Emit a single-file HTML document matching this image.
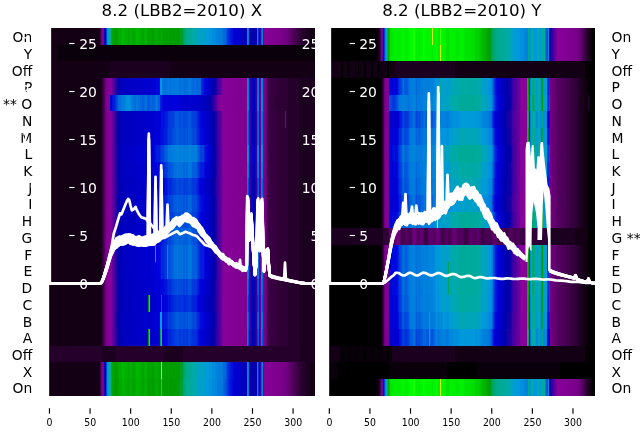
<!DOCTYPE html>
<html lang="en"><head><meta charset="utf-8"><title>8.2 (LBB2=2010)</title>
<style>html,body{margin:0;padding:0;background:#fff}svg{display:block}</style></head>
<body>
<svg width="640" height="440" viewBox="0 0 640 440" style="display:block;will-change:transform;font-family:'DejaVu Sans','Liberation Sans',sans-serif">
<rect width="640" height="440" fill="#fff"/>
<defs><clipPath id="c1"><rect x="48.75" y="27.7" width="266.35" height="368"/></clipPath><clipPath id="c2"><rect x="328.6" y="27.7" width="266.4" height="368"/></clipPath></defs>
<g shape-rendering="crispEdges">
<path fill="#41004b" d="M49 28h1v17h-1zM295 28h2v17h-2zM49 45h1v16h-1zM49 61h1v17h-1zM49 78h1v17h-1zM103 78h1v17h-1zM268 78h1v17h-1zM49 95h1v16h-1zM103 95h1v16h-1zM268 95h1v16h-1zM49 111h1v17h-1zM103 111h1v17h-1zM268 111h1v17h-1zM49 128h1v17h-1zM103 128h1v17h-1zM268 128h1v17h-1zM49 145h1v17h-1zM103 145h1v17h-1zM268 145h1v17h-1zM49 162h1v16h-1zM103 162h1v16h-1zM268 162h1v16h-1zM49 178h1v17h-1zM103 178h1v17h-1zM268 178h1v17h-1zM49 195h1v17h-1zM103 195h1v17h-1zM268 195h1v17h-1zM49 212h1v16h-1zM103 212h1v16h-1zM268 212h1v16h-1zM49 228h1v17h-1zM103 228h1v17h-1zM268 228h1v17h-1zM49 245h1v17h-1zM103 245h1v17h-1zM268 245h1v17h-1zM49 262h1v17h-1zM103 262h1v17h-1zM268 262h1v17h-1zM103 279h1v16h-1zM268 279h1v16h-1zM103 295h1v17h-1zM268 295h1v17h-1zM103 312h1v17h-1zM268 312h1v17h-1zM103 329h1v17h-1zM268 329h1v17h-1zM295 362h2v17h-2zM295 379h2v17h-2z"/>
<path fill="#130015" d="M50 28h49v17h-49zM310 28h5v17h-5zM50 45h8v16h-8zM50 61h60v17h-60zM169 61h146v17h-146zM50 78h51v17h-51zM50 95h51v16h-51zM50 111h51v17h-51zM50 128h51v17h-51zM50 145h51v17h-51zM50 162h51v16h-51zM50 178h51v17h-51zM50 195h51v17h-51zM50 212h51v16h-51zM50 228h51v17h-51zM50 245h51v17h-51zM50 262h51v17h-51zM50 279h51v16h-51zM50 295h51v17h-51zM50 312h51v17h-51zM50 329h51v17h-51zM50 362h49v17h-49zM310 362h5v17h-5zM50 379h49v17h-49zM310 379h5v17h-5z"/>
<path fill="#1c0020" d="M99 28h1v17h-1zM305 28h5v17h-5zM110 61h59v17h-59zM101 78h1v17h-1zM299 78h16v17h-16zM101 95h1v16h-1zM299 95h16v16h-16zM101 111h1v17h-1zM299 111h16v17h-16zM101 128h1v17h-1zM299 128h16v17h-16zM101 145h1v17h-1zM299 145h16v17h-16zM101 162h1v16h-1zM299 162h16v16h-16zM101 178h1v17h-1zM299 178h16v17h-16zM101 195h1v17h-1zM299 195h16v17h-16zM101 212h1v16h-1zM299 212h16v16h-16zM101 228h1v17h-1zM299 228h16v17h-16zM101 245h1v17h-1zM299 245h16v17h-16zM101 262h1v17h-1zM299 262h16v17h-16zM101 279h1v16h-1zM299 279h16v16h-16zM101 295h1v17h-1zM299 295h16v17h-16zM101 312h1v17h-1zM299 312h16v17h-16zM101 329h1v17h-1zM299 329h16v17h-16zM102 346h14v16h-14zM164 346h19v16h-19zM300 346h15v16h-15zM99 362h1v17h-1zM305 362h5v17h-5zM99 379h1v17h-1zM305 379h5v17h-5z"/>
<path fill="#380040" d="M100 28h1v17h-1zM297 28h2v17h-2zM269 78h8v17h-8zM269 95h4v16h-4zM269 111h8v17h-8zM269 128h8v17h-8zM269 145h8v17h-8zM269 162h8v16h-8zM269 178h8v17h-8zM269 195h8v17h-8zM269 212h8v16h-8zM269 228h8v17h-8zM269 245h8v17h-8zM269 262h8v17h-8zM269 279h8v16h-8zM269 295h8v17h-8zM269 312h8v17h-8zM269 329h8v17h-8zM100 362h1v17h-1zM297 362h2v17h-2zM100 379h1v17h-1zM297 379h2v17h-2z"/>
<path fill="#700080" d="M101 28h1v17h-1zM285 28h3v17h-3zM105 78h1v17h-1zM265 78h1v17h-1zM105 95h1v16h-1zM265 95h1v16h-1zM105 111h1v17h-1zM265 111h1v17h-1zM105 128h1v17h-1zM265 128h1v17h-1zM105 145h1v17h-1zM265 145h1v17h-1zM105 162h1v16h-1zM265 162h1v16h-1zM105 178h1v17h-1zM265 178h1v17h-1zM105 195h1v17h-1zM265 195h1v17h-1zM105 212h1v16h-1zM265 212h1v16h-1zM105 228h1v17h-1zM265 228h1v17h-1zM105 245h1v17h-1zM265 245h1v17h-1zM105 262h1v17h-1zM265 262h1v17h-1zM49 279h1v16h-1zM105 279h1v16h-1zM265 279h1v16h-1zM49 295h1v17h-1zM105 295h1v17h-1zM265 295h1v17h-1zM49 312h1v17h-1zM105 312h1v17h-1zM265 312h1v17h-1zM49 329h1v17h-1zM105 329h1v17h-1zM265 329h1v17h-1zM49 346h1v16h-1zM49 362h1v17h-1zM101 362h1v17h-1zM285 362h3v17h-3zM49 379h1v17h-1zM101 379h1v17h-1zM285 379h2v17h-2z"/>
<path fill="#7f0090" d="M102 28h1v17h-1zM273 28h2v17h-2zM242 78h3v17h-3zM241 95h4v16h-4zM242 111h3v17h-3zM242 128h3v17h-3zM242 145h3v17h-3zM242 162h3v16h-3zM242 178h3v17h-3zM242 195h3v17h-3zM242 212h3v16h-3zM242 228h3v17h-3zM242 245h3v17h-3zM242 262h3v17h-3zM242 279h3v16h-3zM242 295h3v17h-3zM242 312h3v17h-3zM242 329h3v17h-3zM102 362h1v17h-1zM273 362h2v17h-2zM102 379h1v17h-1zM273 379h2v17h-2z"/>
<path fill="#78009b" d="M103 28h1v17h-1zM222 78h1v17h-1zM218 95h1v16h-1zM222 111h1v17h-1zM222 128h1v17h-1zM222 145h1v17h-1zM222 162h1v16h-1zM222 178h1v17h-1zM222 195h1v17h-1zM222 212h1v16h-1zM222 228h1v17h-1zM222 245h1v17h-1zM222 262h1v17h-1zM222 279h1v16h-1zM222 295h1v17h-1zM222 312h1v17h-1zM222 329h1v17h-1zM103 362h1v17h-1zM103 379h1v17h-1z"/>
<path fill="#0d00a8" d="M104 28h1v17h-1zM255 28h1v17h-1zM117 78h1v17h-1zM215 78h1v17h-1zM211 95h1v16h-1zM267 111h1v17h-1zM117 128h1v17h-1zM117 145h1v17h-1zM215 145h1v17h-1zM117 162h1v16h-1zM215 162h1v16h-1zM214 178h1v17h-1zM117 195h1v17h-1zM267 212h1v16h-1zM117 228h1v17h-1zM117 245h1v17h-1zM215 245h1v17h-1zM117 262h1v17h-1zM215 262h1v17h-1zM214 279h1v16h-1zM267 279h1v16h-1zM213 295h2v17h-2zM254 295h1v17h-1zM117 312h1v17h-1zM214 329h1v17h-1zM104 362h1v17h-1zM255 362h1v17h-1zM255 379h1v17h-1z"/>
<path fill="#0000cd" d="M105 28h1v17h-1zM235 28h1v17h-1zM239 28h1v17h-1zM136 78h1v17h-1zM138 78h4v17h-4zM147 78h3v17h-3zM208 78h1v17h-1zM184 95h1v16h-1zM186 95h2v16h-2zM192 95h5v16h-5zM252 95h1v16h-1zM137 111h2v17h-2zM144 111h1v17h-1zM147 111h1v17h-1zM150 111h3v17h-3zM136 128h3v17h-3zM144 128h1v17h-1zM147 128h1v17h-1zM150 128h3v17h-3zM205 128h3v17h-3zM130 145h1v17h-1zM141 145h3v17h-3zM209 145h2v17h-2zM253 145h1v17h-1zM136 162h1v16h-1zM138 162h4v16h-4zM144 162h1v16h-1zM147 162h3v16h-3zM208 162h1v16h-1zM137 178h1v17h-1zM144 178h1v17h-1zM150 178h4v17h-4zM136 195h5v17h-5zM144 195h1v17h-1zM147 195h1v17h-1zM149 195h1v17h-1zM152 195h1v17h-1zM205 195h3v17h-3zM137 212h2v16h-2zM144 212h1v16h-1zM147 212h1v16h-1zM150 212h3v16h-3zM136 228h5v17h-5zM144 228h1v17h-1zM147 228h1v17h-1zM149 228h1v17h-1zM152 228h1v17h-1zM136 245h1v17h-1zM138 245h4v17h-4zM144 245h1v17h-1zM147 245h3v17h-3zM208 245h1v17h-1zM136 262h1v17h-1zM138 262h4v17h-4zM144 262h1v17h-1zM147 262h3v17h-3zM208 262h1v17h-1zM137 279h1v16h-1zM144 279h1v16h-1zM150 279h4v16h-4zM146 295h1v17h-1zM150 295h2v17h-2zM153 295h2v17h-2zM136 312h3v17h-3zM144 312h1v17h-1zM147 312h1v17h-1zM150 312h3v17h-3zM205 312h3v17h-3zM137 329h1v17h-1zM146 329h1v17h-1zM150 329h2v17h-2zM153 329h1v17h-1zM204 329h1v17h-1zM105 362h1v17h-1zM235 362h1v17h-1zM239 362h1v17h-1zM105 379h1v17h-1zM234 379h2v17h-2zM238 379h1v17h-1z"/>
<path fill="#004bdd" d="M106 28h1v17h-1zM174 111h1v17h-1zM179 111h2v17h-2zM183 111h5v17h-5zM191 111h1v17h-1zM172 128h2v17h-2zM184 128h1v17h-1zM187 128h1v17h-1zM192 128h1v17h-1zM194 128h2v17h-2zM197 162h1v16h-1zM176 178h3v17h-3zM181 178h2v17h-2zM188 178h3v17h-3zM248 178h1v17h-1zM171 195h2v17h-2zM192 195h5v17h-5zM174 212h1v16h-1zM179 212h2v16h-2zM183 212h5v16h-5zM191 212h1v16h-1zM168 228h1v17h-1zM193 228h1v17h-1zM196 228h1v17h-1zM197 245h1v17h-1zM197 262h1v17h-1zM174 279h3v16h-3zM178 279h5v16h-5zM185 279h1v16h-1zM191 279h1v16h-1zM257 279h1v16h-1zM258 295h1v17h-1zM172 312h2v17h-2zM184 312h1v17h-1zM187 312h1v17h-1zM192 312h1v17h-1zM194 312h2v17h-2zM177 329h1v17h-1zM189 329h1v17h-1zM248 329h1v17h-1zM106 362h1v17h-1zM106 379h1v17h-1zM226 379h1v17h-1z"/>
<path fill="#008ddd" d="M107 28h1v17h-1zM212 28h3v17h-3zM247 95h1v16h-1zM261 95h1v16h-1zM107 362h1v17h-1zM212 362h3v17h-3z"/>
<path fill="#00a2c3" d="M108 28h1v17h-1zM199 28h1v17h-1zM202 28h2v17h-2zM108 362h1v17h-1zM199 362h1v17h-1zM202 362h2v17h-2zM198 379h1v17h-1zM203 379h1v17h-1z"/>
<path fill="#00aaa8" d="M109 28h1v17h-1zM193 28h2v17h-2zM109 362h1v17h-1zM193 362h2v17h-2zM109 379h1v17h-1zM192 379h1v17h-1z"/>
<path fill="#00aa93" d="M110 28h1v17h-1zM187 28h1v17h-1zM110 362h1v17h-1zM187 362h1v17h-1zM188 379h2v17h-2z"/>
<path fill="#009f33" d="M111 28h1v17h-1zM111 362h1v17h-1zM180 379h3v17h-3z"/>
<path fill="#00a400" d="M112 28h1v17h-1zM128 28h1v17h-1zM143 28h1v17h-1zM151 28h1v17h-1zM158 28h1v17h-1zM162 28h1v17h-1zM168 28h1v17h-1zM112 362h1v17h-1zM128 362h1v17h-1zM143 362h1v17h-1zM151 362h1v17h-1zM158 362h1v17h-1zM162 362h1v17h-1zM168 362h1v17h-1zM113 379h1v17h-1zM127 379h1v17h-1zM132 379h1v17h-1zM134 379h1v17h-1zM142 379h1v17h-1zM147 379h1v17h-1zM150 379h1v17h-1zM154 379h1v17h-1z"/>
<path fill="#00a700" d="M113 28h1v17h-1zM118 28h1v17h-1zM132 28h3v17h-3zM142 28h1v17h-1zM147 28h1v17h-1zM150 28h1v17h-1zM154 28h1v17h-1zM160 28h1v17h-1zM113 362h1v17h-1zM118 362h1v17h-1zM132 362h3v17h-3zM142 362h1v17h-1zM147 362h1v17h-1zM150 362h1v17h-1zM154 362h1v17h-1zM160 362h1v17h-1zM135 379h1v17h-1zM141 379h1v17h-1zM155 379h1v17h-1z"/>
<path fill="#009c00" d="M114 28h2v17h-2zM163 28h1v17h-1zM166 28h1v17h-1zM173 28h1v17h-1zM114 362h2v17h-2zM163 362h1v17h-1zM166 362h1v17h-1zM173 362h1v17h-1zM117 379h1v17h-1zM152 379h1v17h-1zM159 379h1v17h-1zM165 379h1v17h-1zM167 379h1v17h-1zM174 379h4v17h-4z"/>
<path fill="#009f00" d="M116 28h1v17h-1zM152 28h1v17h-1zM164 28h2v17h-2zM167 28h1v17h-1zM169 28h1v17h-1zM171 28h2v17h-2zM174 28h4v17h-4zM116 362h1v17h-1zM152 362h1v17h-1zM164 362h2v17h-2zM167 362h1v17h-1zM169 362h1v17h-1zM171 362h2v17h-2zM174 362h4v17h-4zM148 379h2v17h-2zM153 379h1v17h-1z"/>
<path fill="#00a200" d="M117 28h1v17h-1zM148 28h2v17h-2zM153 28h1v17h-1zM159 28h1v17h-1zM117 362h1v17h-1zM148 362h2v17h-2zM153 362h1v17h-1zM159 362h1v17h-1zM112 379h1v17h-1zM118 379h1v17h-1zM128 379h1v17h-1zM133 379h1v17h-1zM143 379h1v17h-1zM151 379h1v17h-1zM158 379h1v17h-1zM160 379h1v17h-1zM162 379h1v17h-1zM168 379h1v17h-1z"/>
<path fill="#00af00" d="M119 28h1v17h-1zM121 28h1v17h-1zM131 28h1v17h-1zM140 28h1v17h-1zM119 362h1v17h-1zM121 362h1v17h-1zM131 362h1v17h-1zM140 362h1v17h-1zM126 379h1v17h-1zM139 379h1v17h-1zM146 379h1v17h-1z"/>
<path fill="#00ac00" d="M120 28h1v17h-1zM129 28h1v17h-1zM135 28h1v17h-1zM141 28h1v17h-1zM144 28h1v17h-1zM155 28h3v17h-3zM120 362h1v17h-1zM129 362h1v17h-1zM135 362h1v17h-1zM141 362h1v17h-1zM144 362h1v17h-1zM155 362h3v17h-3zM121 379h1v17h-1zM124 379h2v17h-2zM140 379h1v17h-1z"/>
<path fill="#00ba00" d="M122 28h1v17h-1zM137 28h1v17h-1zM122 362h1v17h-1zM137 362h1v17h-1z"/>
<path fill="#00b700" d="M123 28h1v17h-1zM136 28h1v17h-1zM145 28h1v17h-1zM123 362h1v17h-1zM136 362h1v17h-1zM145 362h1v17h-1z"/>
<path fill="#00b200" d="M124 28h3v17h-3zM139 28h1v17h-1zM146 28h1v17h-1zM124 362h3v17h-3zM139 362h1v17h-1zM146 362h1v17h-1zM130 379h1v17h-1zM136 379h1v17h-1zM138 379h1v17h-1z"/>
<path fill="#00aa00" d="M127 28h1v17h-1zM161 28h1v17h-1zM127 362h1v17h-1zM119 379h2v17h-2zM129 379h1v17h-1zM131 379h1v17h-1zM144 379h1v17h-1zM156 379h2v17h-2z"/>
<path fill="#00b400" d="M130 28h1v17h-1zM138 28h1v17h-1zM130 362h1v17h-1zM138 362h1v17h-1zM122 379h2v17h-2zM137 379h1v17h-1zM145 379h1v17h-1z"/>
<path fill="#009a00" d="M170 28h1v17h-1zM178 28h1v17h-1zM148 295h1v17h-1zM148 329h1v17h-1zM170 362h1v17h-1zM178 362h1v17h-1zM114 379h3v17h-3zM163 379h2v17h-2zM169 379h1v17h-1zM171 379h3v17h-3z"/>
<path fill="#009d1d" d="M179 28h1v17h-1zM179 362h1v17h-1z"/>
<path fill="#009e28" d="M180 28h3v17h-3zM180 362h3v17h-3zM179 379h1v17h-1z"/>
<path fill="#00a353" d="M183 28h1v17h-1zM160 329h1v17h-1zM183 362h1v17h-1z"/>
<path fill="#00a773" d="M184 28h2v17h-2zM184 362h2v17h-2z"/>
<path fill="#00aa8d" d="M186 28h1v17h-1zM186 362h1v17h-1z"/>
<path fill="#00aa90" d="M188 28h2v17h-2zM188 362h2v17h-2zM186 379h1v17h-1z"/>
<path fill="#00aa95" d="M190 28h1v17h-1zM190 362h1v17h-1zM110 379h1v17h-1zM187 379h1v17h-1z"/>
<path fill="#00aa9b" d="M191 28h1v17h-1zM191 362h1v17h-1z"/>
<path fill="#00aaa5" d="M192 28h1v17h-1zM192 362h1v17h-1z"/>
<path fill="#00aaab" d="M195 28h1v17h-1zM195 362h1v17h-1zM193 379h2v17h-2z"/>
<path fill="#00a7b3" d="M196 28h1v17h-1zM196 362h1v17h-1z"/>
<path fill="#00a6b7" d="M197 28h1v17h-1zM197 362h1v17h-1zM196 379h1v17h-1z"/>
<path fill="#00a3bf" d="M198 28h1v17h-1zM155 245h1v17h-1zM161 312h1v17h-1zM198 362h1v17h-1z"/>
<path fill="#009fcb" d="M200 28h1v17h-1zM204 28h1v17h-1zM200 362h1v17h-1zM204 362h1v17h-1zM201 379h1v17h-1z"/>
<path fill="#00a0c7" d="M201 28h1v17h-1zM201 362h1v17h-1zM108 379h1v17h-1zM199 379h1v17h-1zM202 379h1v17h-1z"/>
<path fill="#009bd7" d="M205 28h2v17h-2zM205 362h2v17h-2zM207 379h1v17h-1z"/>
<path fill="#009cd3" d="M207 28h1v17h-1zM161 78h1v17h-1zM207 362h1v17h-1z"/>
<path fill="#009adb" d="M208 28h1v17h-1zM208 362h1v17h-1zM205 379h2v17h-2z"/>
<path fill="#0095dd" d="M209 28h3v17h-3zM247 145h1v17h-1zM261 145h1v17h-1zM209 362h3v17h-3z"/>
<path fill="#0088dd" d="M215 28h1v17h-1zM247 28h1v17h-1zM125 95h1v16h-1zM258 145h1v17h-1zM247 162h1v16h-1zM261 162h1v16h-1zM247 245h1v17h-1zM261 245h1v17h-1zM247 262h1v17h-1zM261 262h1v17h-1zM215 362h1v17h-1zM247 362h1v17h-1zM215 379h1v17h-1zM247 379h1v17h-1z"/>
<path fill="#0085dd" d="M216 28h1v17h-1zM262 95h1v16h-1zM189 145h1v17h-1zM248 145h1v17h-1zM247 228h1v17h-1zM261 228h1v17h-1zM167 245h1v17h-1zM167 262h1v17h-1zM216 362h1v17h-1z"/>
<path fill="#0080dd" d="M217 28h1v17h-1zM262 28h1v17h-1zM262 78h1v17h-1zM123 95h2v16h-2zM131 95h1v16h-1zM258 95h1v16h-1zM247 111h1v17h-1zM261 111h1v17h-1zM247 128h1v17h-1zM261 128h1v17h-1zM174 145h1v17h-1zM179 145h2v17h-2zM183 145h1v17h-1zM185 145h3v17h-3zM191 145h1v17h-1zM257 145h1v17h-1zM262 162h1v16h-1zM247 212h1v16h-1zM261 212h1v16h-1zM262 245h1v17h-1zM262 262h1v17h-1zM247 312h1v17h-1zM261 312h1v17h-1zM217 362h1v17h-1zM262 362h1v17h-1zM262 379h1v17h-1z"/>
<path fill="#007ddd" d="M218 28h4v17h-4zM257 28h1v17h-1zM258 78h1v17h-1zM122 95h1v16h-1zM248 95h1v16h-1zM172 145h2v17h-2zM184 145h1v17h-1zM192 145h1v17h-1zM194 145h2v17h-2zM247 279h1v16h-1zM261 279h1v16h-1zM218 362h4v17h-4zM257 362h1v17h-1zM217 379h1v17h-1zM257 379h1v17h-1z"/>
<path fill="#0078dd" d="M222 28h1v17h-1zM248 28h1v17h-1zM162 78h1v17h-1zM167 78h1v17h-1zM169 78h1v17h-1zM171 78h4v17h-4zM178 78h1v17h-1zM181 78h2v17h-2zM188 78h1v17h-1zM190 78h1v17h-1zM121 95h1v16h-1zM136 95h2v16h-2zM156 95h1v16h-1zM262 128h1v17h-1zM168 145h3v17h-3zM177 162h1v16h-1zM188 162h3v16h-3zM248 162h1v16h-1zM262 195h1v17h-1zM258 228h1v17h-1zM177 245h1v17h-1zM188 245h3v17h-3zM248 245h1v17h-1zM177 262h1v17h-1zM188 262h3v17h-3zM248 262h1v17h-1zM262 312h1v17h-1zM247 329h1v17h-1zM261 329h1v17h-1zM222 362h1v17h-1zM248 362h1v17h-1zM222 379h1v17h-1zM248 379h1v17h-1z"/>
<path fill="#0067dd" d="M223 28h3v17h-3zM184 78h1v17h-1zM192 78h3v17h-3zM196 78h5v17h-5zM118 95h1v16h-1zM135 95h1v16h-1zM140 95h2v16h-2zM144 95h1v16h-1zM150 95h2v16h-2zM154 95h1v16h-1zM258 111h1v17h-1zM167 145h1v17h-1zM173 162h1v16h-1zM183 162h2v16h-2zM186 162h2v16h-2zM262 178h1v17h-1zM177 195h1v17h-1zM188 195h3v17h-3zM248 195h1v17h-1zM258 212h1v16h-1zM175 228h4v17h-4zM181 228h2v17h-2zM188 228h1v17h-1zM190 228h1v17h-1zM257 228h1v17h-1zM173 245h1v17h-1zM183 245h2v17h-2zM186 245h2v17h-2zM173 262h1v17h-1zM183 262h2v17h-2zM186 262h2v17h-2zM262 279h1v16h-1zM223 362h3v17h-3zM223 379h1v17h-1z"/>
<path fill="#0054dd" d="M226 28h1v17h-1zM117 95h1v16h-1zM148 95h1v16h-1zM175 111h2v17h-2zM178 111h1v17h-1zM181 111h2v17h-2zM188 111h1v17h-1zM190 111h1v17h-1zM257 111h1v17h-1zM174 128h2v17h-2zM179 128h3v17h-3zM183 128h1v17h-1zM185 128h2v17h-2zM191 128h1v17h-1zM257 128h1v17h-1zM164 145h1v17h-1zM199 145h1v17h-1zM168 162h3v16h-3zM173 195h1v17h-1zM183 195h2v17h-2zM186 195h2v17h-2zM175 212h2v16h-2zM178 212h1v16h-1zM181 212h2v16h-2zM188 212h1v16h-1zM190 212h1v16h-1zM257 212h1v16h-1zM171 228h3v17h-3zM192 228h1v17h-1zM194 228h2v17h-2zM168 245h3v17h-3zM168 262h3v17h-3zM177 279h1v16h-1zM188 279h3v16h-3zM248 279h1v16h-1zM161 295h1v17h-1zM262 295h1v17h-1zM174 312h2v17h-2zM179 312h3v17h-3zM183 312h1v17h-1zM185 312h2v17h-2zM191 312h1v17h-1zM257 312h1v17h-1zM258 329h1v17h-1zM226 362h1v17h-1z"/>
<path fill="#0038dd" d="M227 28h1v17h-1zM168 111h3v17h-3zM196 111h1v17h-1zM169 128h2v17h-2zM165 162h2v16h-2zM198 162h1v16h-1zM172 178h2v17h-2zM184 178h1v17h-1zM192 178h1v17h-1zM194 178h2v17h-2zM197 195h1v17h-1zM168 212h3v16h-3zM196 212h1v16h-1zM167 228h1v17h-1zM165 245h2v17h-2zM198 245h1v17h-1zM165 262h2v17h-2zM198 262h1v17h-1zM171 279h1v16h-1zM192 279h5v16h-5zM176 295h3v17h-3zM181 295h2v17h-2zM188 295h3v17h-3zM248 295h1v17h-1zM169 312h2v17h-2zM173 329h2v17h-2zM179 329h2v17h-2zM183 329h2v17h-2zM186 329h2v17h-2zM191 329h1v17h-1zM227 362h1v17h-1zM227 379h1v17h-1z"/>
<path fill="#002fdd" d="M228 28h1v17h-1zM258 28h1v17h-1zM115 95h1v16h-1zM197 111h1v17h-1zM167 128h1v17h-1zM197 128h1v17h-1zM160 145h1v17h-1zM164 162h1v16h-1zM199 162h1v16h-1zM168 178h1v17h-1zM171 178h1v17h-1zM193 178h1v17h-1zM196 178h1v17h-1zM167 195h1v17h-1zM198 195h1v17h-1zM197 212h1v16h-1zM165 228h2v17h-2zM198 228h1v17h-1zM164 245h1v17h-1zM199 245h1v17h-1zM164 262h1v17h-1zM199 262h1v17h-1zM168 279h3v16h-3zM174 295h2v17h-2zM179 295h2v17h-2zM183 295h1v17h-1zM185 295h3v17h-3zM191 295h1v17h-1zM257 295h1v17h-1zM167 312h1v17h-1zM197 312h1v17h-1zM171 329h2v17h-2zM192 329h5v17h-5zM228 362h1v17h-1zM258 362h1v17h-1zM228 379h1v17h-1zM258 379h1v17h-1z"/>
<path fill="#0025dd" d="M229 28h1v17h-1zM201 78h2v17h-2zM167 111h1v17h-1zM198 128h1v17h-1zM204 145h1v17h-1zM161 162h3v16h-3zM169 178h2v17h-2zM197 178h1v17h-1zM165 195h2v17h-2zM167 212h1v16h-1zM164 228h1v17h-1zM199 228h1v17h-1zM161 245h3v17h-3zM161 262h3v17h-3zM167 279h1v16h-1zM197 279h1v16h-1zM171 295h3v17h-3zM184 295h1v17h-1zM192 295h1v17h-1zM194 295h2v17h-2zM198 312h1v17h-1zM168 329h3v17h-3zM229 362h1v17h-1z"/>
<path fill="#001cdd" d="M230 28h1v17h-1zM203 78h1v17h-1zM113 95h2v16h-2zM160 95h2v16h-2zM165 111h2v17h-2zM198 111h1v17h-1zM164 128h3v17h-3zM199 128h1v17h-1zM156 145h4v17h-4zM200 162h4v16h-4zM167 178h1v17h-1zM161 195h2v17h-2zM164 195h1v17h-1zM199 195h1v17h-1zM165 212h2v16h-2zM198 212h1v16h-1zM161 228h3v17h-3zM200 245h4v17h-4zM200 262h4v17h-4zM198 279h1v16h-1zM168 295h1v17h-1zM193 295h1v17h-1zM196 295h1v17h-1zM164 312h3v17h-3zM199 312h1v17h-1zM197 329h1v17h-1zM230 362h1v17h-1zM229 379h1v17h-1z"/>
<path fill="#0013dd" d="M231 28h2v17h-2zM112 95h1v16h-1zM161 111h2v17h-2zM164 111h1v17h-1zM199 111h1v17h-1zM161 128h3v17h-3zM155 145h1v17h-1zM160 162h1v16h-1zM165 178h2v17h-2zM198 178h1v17h-1zM163 195h1v17h-1zM200 195h1v17h-1zM161 212h2v16h-2zM164 212h1v16h-1zM199 212h1v16h-1zM160 228h1v17h-1zM200 228h4v17h-4zM160 245h1v17h-1zM160 262h1v17h-1zM164 279h3v16h-3zM169 295h2v17h-2zM197 295h1v17h-1zM162 312h2v17h-2zM167 329h1v17h-1zM198 329h1v17h-1zM231 362h2v17h-2zM230 379h2v17h-2z"/>
<path fill="#0000dd" d="M233 28h1v17h-1zM155 78h1v17h-1zM158 78h1v17h-1zM168 95h1v16h-1zM174 95h4v16h-4zM160 111h1v17h-1zM201 111h3v17h-3zM203 128h1v17h-1zM154 145h1v17h-1zM155 162h2v16h-2zM158 162h1v16h-1zM163 178h1v17h-1zM156 195h2v17h-2zM160 212h1v16h-1zM201 212h3v16h-3zM156 228h2v17h-2zM159 228h1v17h-1zM204 228h1v17h-1zM156 245h1v17h-1zM158 245h1v17h-1zM155 262h2v17h-2zM158 262h1v17h-1zM160 279h1v16h-1zM200 279h3v16h-3zM165 295h2v17h-2zM198 295h1v17h-1zM203 312h1v17h-1zM162 329h3v17h-3zM199 329h1v17h-1zM233 362h1v17h-1z"/>
<path fill="#0000d1" d="M234 28h1v17h-1zM236 28h3v17h-3zM137 78h1v17h-1zM144 78h1v17h-1zM150 78h3v17h-3zM183 95h1v16h-1zM185 95h1v16h-1zM188 95h4v16h-4zM145 111h2v17h-2zM153 111h1v17h-1zM145 128h2v17h-2zM153 128h1v17h-1zM136 145h5v17h-5zM144 145h1v17h-1zM147 145h3v17h-3zM137 162h1v16h-1zM146 162h1v16h-1zM150 162h3v16h-3zM145 178h2v17h-2zM154 178h1v17h-1zM204 178h1v17h-1zM146 195h1v17h-1zM150 195h2v17h-2zM153 195h1v17h-1zM145 212h2v16h-2zM153 212h1v16h-1zM146 228h1v17h-1zM150 228h2v17h-2zM153 228h1v17h-1zM205 228h3v17h-3zM137 245h1v17h-1zM146 245h1v17h-1zM150 245h3v17h-3zM137 262h1v17h-1zM146 262h1v17h-1zM150 262h3v17h-3zM145 279h2v16h-2zM154 279h1v16h-1zM204 279h1v16h-1zM145 295h1v17h-1zM155 295h1v17h-1zM158 295h2v17h-2zM201 295h1v17h-1zM203 295h1v17h-1zM145 312h2v17h-2zM153 312h1v17h-1zM145 329h1v17h-1zM154 329h1v17h-1zM158 329h1v17h-1zM234 362h1v17h-1zM236 362h3v17h-3zM236 379h2v17h-2z"/>
<path fill="#0000c9" d="M240 28h1v17h-1zM130 78h1v17h-1zM135 78h1v17h-1zM142 78h2v17h-2zM252 78h1v17h-1zM197 95h2v16h-2zM202 95h2v16h-2zM253 95h1v16h-1zM136 111h1v17h-1zM139 111h5v17h-5zM148 111h2v17h-2zM205 111h3v17h-3zM139 128h5v17h-5zM148 128h2v17h-2zM126 145h1v17h-1zM129 145h1v17h-1zM131 145h1v17h-1zM134 145h2v17h-2zM251 145h1v17h-1zM130 162h1v16h-1zM135 162h1v16h-1zM142 162h2v16h-2zM136 178h1v17h-1zM138 178h4v17h-4zM147 178h3v17h-3zM207 178h1v17h-1zM141 195h3v17h-3zM148 195h1v17h-1zM208 195h1v17h-1zM136 212h1v16h-1zM139 212h5v16h-5zM148 212h2v16h-2zM205 212h3v16h-3zM130 228h1v17h-1zM141 228h3v17h-3zM148 228h1v17h-1zM208 228h1v17h-1zM130 245h1v17h-1zM135 245h1v17h-1zM142 245h2v17h-2zM130 262h1v17h-1zM135 262h1v17h-1zM142 262h2v17h-2zM136 279h1v16h-1zM138 279h5v16h-5zM147 279h3v16h-3zM205 279h3v16h-3zM136 295h5v17h-5zM144 295h1v17h-1zM147 295h1v17h-1zM152 295h1v17h-1zM204 295h1v17h-1zM139 312h5v17h-5zM148 312h2v17h-2zM136 329h1v17h-1zM138 329h4v17h-4zM144 329h1v17h-1zM147 329h1v17h-1zM152 329h1v17h-1zM240 362h1v17h-1zM239 379h1v17h-1z"/>
<path fill="#0000c5" d="M241 28h1v17h-1zM123 78h1v17h-1zM126 78h1v17h-1zM129 78h1v17h-1zM131 78h4v17h-4zM209 78h2v17h-2zM253 78h1v17h-1zM199 95h1v16h-1zM201 95h1v16h-1zM130 111h2v17h-2zM135 111h1v17h-1zM208 111h1v17h-1zM130 128h2v17h-2zM135 128h1v17h-1zM208 128h1v17h-1zM122 145h4v17h-4zM127 145h1v17h-1zM132 145h2v17h-2zM211 145h1v17h-1zM254 145h1v17h-1zM126 162h1v16h-1zM129 162h1v16h-1zM131 162h4v16h-4zM209 162h2v16h-2zM252 162h1v16h-1zM130 178h1v17h-1zM135 178h1v17h-1zM142 178h2v17h-2zM205 178h2v17h-2zM130 195h2v17h-2zM135 195h1v17h-1zM130 212h2v16h-2zM135 212h1v16h-1zM208 212h1v16h-1zM126 228h1v17h-1zM129 228h1v17h-1zM131 228h1v17h-1zM134 228h2v17h-2zM126 245h1v17h-1zM129 245h1v17h-1zM131 245h4v17h-4zM209 245h2v17h-2zM252 245h1v17h-1zM126 262h1v17h-1zM129 262h1v17h-1zM131 262h4v17h-4zM209 262h2v17h-2zM252 262h1v17h-1zM130 279h2v16h-2zM135 279h1v16h-1zM143 279h1v16h-1zM208 279h1v16h-1zM130 295h1v17h-1zM141 295h3v17h-3zM130 312h2v17h-2zM135 312h1v17h-1zM208 312h1v17h-1zM130 329h1v17h-1zM135 329h1v17h-1zM142 329h2v17h-2zM205 329h3v17h-3zM241 362h1v17h-1zM240 379h2v17h-2z"/>
<path fill="#0000bd" d="M242 28h3v17h-3zM121 78h1v17h-1zM251 78h1v17h-1zM254 95h1v16h-1zM124 111h1v17h-1zM127 111h2v17h-2zM209 111h2v17h-2zM252 111h1v17h-1zM124 128h1v17h-1zM127 128h2v17h-2zM210 128h1v17h-1zM121 145h1v17h-1zM128 162h1v16h-1zM211 162h1v16h-1zM251 162h1v16h-1zM122 178h1v17h-1zM124 178h2v17h-2zM127 178h2v17h-2zM128 195h1v17h-1zM253 195h1v17h-1zM124 212h1v16h-1zM127 212h2v16h-2zM209 212h2v16h-2zM252 212h1v16h-1zM128 228h1v17h-1zM211 228h1v17h-1zM253 228h1v17h-1zM128 245h1v17h-1zM211 245h1v17h-1zM251 245h1v17h-1zM128 262h1v17h-1zM211 262h1v17h-1zM251 262h1v17h-1zM122 279h1v16h-1zM124 279h1v16h-1zM127 279h2v16h-2zM209 279h2v16h-2zM252 279h1v16h-1zM122 295h4v17h-4zM127 295h1v17h-1zM132 295h2v17h-2zM208 295h1v17h-1zM124 312h1v17h-1zM127 312h2v17h-2zM210 312h1v17h-1zM122 329h1v17h-1zM124 329h2v17h-2zM127 329h2v17h-2zM242 362h3v17h-3zM242 379h1v17h-1zM244 379h1v17h-1z"/>
<path fill="#0000b9" d="M245 28h2v17h-2zM120 78h1v17h-1zM254 78h1v17h-1zM205 95h3v16h-3zM121 111h1v17h-1zM211 111h1v17h-1zM253 111h1v17h-1zM121 128h1v17h-1zM211 128h1v17h-1zM253 128h1v17h-1zM119 145h2v17h-2zM212 145h1v17h-1zM267 145h1v17h-1zM120 162h2v16h-2zM254 162h1v16h-1zM121 178h1v17h-1zM209 178h2v17h-2zM252 178h1v17h-1zM121 195h1v17h-1zM211 195h1v17h-1zM251 195h1v17h-1zM121 212h1v16h-1zM211 212h1v16h-1zM253 212h1v16h-1zM121 228h1v17h-1zM251 228h1v17h-1zM120 245h2v17h-2zM254 245h1v17h-1zM120 262h2v17h-2zM254 262h1v17h-1zM121 279h1v16h-1zM211 279h1v16h-1zM128 295h1v17h-1zM121 312h1v17h-1zM211 312h1v17h-1zM253 312h1v17h-1zM121 329h1v17h-1zM209 329h2v17h-2zM252 329h1v17h-1zM245 362h2v17h-2zM243 379h1v17h-1zM245 379h1v17h-1z"/>
<path fill="#0000b1" d="M249 28h1v17h-1zM252 28h1v17h-1zM267 78h1v17h-1zM208 95h1v16h-1zM267 95h1v16h-1zM254 111h1v17h-1zM212 128h1v17h-1zM254 128h1v17h-1zM119 178h1v17h-1zM251 178h1v17h-1zM212 195h1v17h-1zM254 195h1v17h-1zM254 212h1v16h-1zM212 228h1v17h-1zM251 279h1v16h-1zM119 295h1v17h-1zM211 295h1v17h-1zM253 295h1v17h-1zM212 312h1v17h-1zM254 312h1v17h-1zM119 329h1v17h-1zM249 362h1v17h-1zM252 362h1v17h-1zM249 379h1v17h-1zM252 379h1v17h-1z"/>
<path fill="#0300aa" d="M250 28h1v17h-1zM254 28h1v17h-1zM256 28h1v17h-1zM210 95h1v16h-1zM118 111h1v17h-1zM213 111h2v17h-2zM118 128h1v17h-1zM213 128h2v17h-2zM267 128h1v17h-1zM214 162h1v16h-1zM118 178h1v17h-1zM213 178h1v17h-1zM214 195h1v17h-1zM267 195h1v17h-1zM118 212h1v16h-1zM213 212h2v16h-2zM214 228h1v17h-1zM267 228h1v17h-1zM214 245h1v17h-1zM214 262h1v17h-1zM118 279h1v16h-1zM213 279h1v16h-1zM118 295h1v17h-1zM212 295h1v17h-1zM251 295h1v17h-1zM118 312h1v17h-1zM213 312h2v17h-2zM267 312h1v17h-1zM118 329h1v17h-1zM213 329h1v17h-1zM254 329h1v17h-1zM250 362h1v17h-1zM254 362h1v17h-1zM256 362h1v17h-1zM250 379h1v17h-1zM254 379h1v17h-1zM256 379h1v17h-1z"/>
<path fill="#0000ad" d="M251 28h1v17h-1zM253 28h1v17h-1zM118 78h1v17h-1zM213 78h2v17h-2zM209 95h1v16h-1zM212 111h1v17h-1zM118 145h1v17h-1zM214 145h1v17h-1zM118 162h1v16h-1zM213 162h1v16h-1zM267 162h1v16h-1zM212 178h1v17h-1zM254 178h1v17h-1zM118 195h1v17h-1zM213 195h1v17h-1zM212 212h1v16h-1zM118 228h1v17h-1zM213 228h1v17h-1zM118 245h1v17h-1zM213 245h1v17h-1zM267 245h1v17h-1zM118 262h1v17h-1zM213 262h1v17h-1zM267 262h1v17h-1zM212 279h1v16h-1zM254 279h1v16h-1zM212 329h1v17h-1zM251 329h1v17h-1zM251 362h1v17h-1zM253 362h1v17h-1zM251 379h1v17h-1zM253 379h1v17h-1z"/>
<path fill="#2d00a4" d="M259 28h1v17h-1zM213 95h1v16h-1zM217 145h1v17h-1zM116 178h1v17h-1zM216 178h1v17h-1zM116 279h1v16h-1zM216 279h1v16h-1zM116 295h1v17h-1zM216 295h1v17h-1zM116 329h1v17h-1zM216 329h1v17h-1zM259 362h1v17h-1zM259 379h1v17h-1z"/>
<path fill="#3800a3" d="M260 28h1v17h-1zM115 78h1v17h-1zM217 78h1v17h-1zM250 78h1v17h-1zM256 78h1v17h-1zM214 95h1v16h-1zM250 95h1v16h-1zM256 95h1v16h-1zM115 111h1v17h-1zM217 111h1v17h-1zM250 111h1v17h-1zM256 111h1v17h-1zM115 128h1v17h-1zM217 128h1v17h-1zM250 128h1v17h-1zM256 128h1v17h-1zM115 145h1v17h-1zM250 145h1v17h-1zM256 145h1v17h-1zM115 162h1v16h-1zM217 162h1v16h-1zM250 162h1v16h-1zM256 162h1v16h-1zM115 178h1v17h-1zM217 178h1v17h-1zM250 178h1v17h-1zM256 178h1v17h-1zM115 195h1v17h-1zM217 195h1v17h-1zM250 195h1v17h-1zM256 195h1v17h-1zM115 212h1v16h-1zM217 212h1v16h-1zM250 212h1v16h-1zM256 212h1v16h-1zM115 228h1v17h-1zM217 228h1v17h-1zM250 228h1v17h-1zM256 228h1v17h-1zM115 245h1v17h-1zM217 245h1v17h-1zM250 245h1v17h-1zM256 245h1v17h-1zM115 262h1v17h-1zM217 262h1v17h-1zM250 262h1v17h-1zM256 262h1v17h-1zM115 279h1v16h-1zM217 279h1v16h-1zM250 279h1v16h-1zM256 279h1v16h-1zM217 295h1v17h-1zM250 295h1v17h-1zM256 295h1v17h-1zM115 312h1v17h-1zM217 312h1v17h-1zM250 312h1v17h-1zM256 312h1v17h-1zM217 329h1v17h-1zM250 329h1v17h-1zM256 329h1v17h-1zM260 362h1v17h-1zM260 379h1v17h-1z"/>
<path fill="#005ddd" d="M261 28h1v17h-1zM142 95h2v16h-2zM147 95h1v16h-1zM149 95h1v16h-1zM152 95h2v16h-2zM158 95h2v16h-2zM177 111h1v17h-1zM189 111h1v17h-1zM248 111h1v17h-1zM176 128h3v17h-3zM182 128h1v17h-1zM188 128h3v17h-3zM248 128h1v17h-1zM165 145h2v17h-2zM198 145h1v17h-1zM171 162h2v16h-2zM192 162h5v16h-5zM258 178h1v17h-1zM174 195h3v17h-3zM178 195h5v17h-5zM185 195h1v17h-1zM191 195h1v17h-1zM257 195h1v17h-1zM177 212h1v16h-1zM189 212h1v16h-1zM248 212h1v16h-1zM174 228h1v17h-1zM179 228h2v17h-2zM183 228h5v17h-5zM191 228h1v17h-1zM171 245h2v17h-2zM192 245h5v17h-5zM171 262h2v17h-2zM192 262h5v17h-5zM258 279h1v16h-1zM176 312h3v17h-3zM182 312h1v17h-1zM188 312h3v17h-3zM248 312h1v17h-1zM262 329h1v17h-1zM261 362h1v17h-1zM224 379h2v17h-2zM261 379h1v17h-1z"/>
<path fill="#63009e" d="M263 28h1v17h-1zM112 78h1v17h-1zM221 78h1v17h-1zM260 78h1v17h-1zM260 95h1v16h-1zM112 111h1v17h-1zM221 111h1v17h-1zM260 111h1v17h-1zM112 128h1v17h-1zM221 128h1v17h-1zM260 128h1v17h-1zM112 145h1v17h-1zM221 145h1v17h-1zM260 145h1v17h-1zM112 162h1v16h-1zM221 162h1v16h-1zM260 162h1v16h-1zM112 178h1v17h-1zM221 178h1v17h-1zM260 178h1v17h-1zM112 195h1v17h-1zM221 195h1v17h-1zM260 195h1v17h-1zM112 212h1v16h-1zM221 212h1v16h-1zM260 212h1v16h-1zM112 228h1v17h-1zM221 228h1v17h-1zM260 228h1v17h-1zM112 245h1v17h-1zM221 245h1v17h-1zM260 245h1v17h-1zM112 262h1v17h-1zM221 262h1v17h-1zM260 262h1v17h-1zM112 279h1v16h-1zM221 279h1v16h-1zM260 279h1v16h-1zM112 295h1v17h-1zM221 295h1v17h-1zM260 295h1v17h-1zM112 312h1v17h-1zM221 312h1v17h-1zM260 312h1v17h-1zM112 329h1v17h-1zM221 329h1v17h-1zM260 329h1v17h-1zM263 362h1v17h-1zM263 379h1v17h-1z"/>
<path fill="#870098" d="M264 28h1v17h-1zM110 78h1v17h-1zM223 78h3v17h-3zM220 95h3v16h-3zM110 111h1v17h-1zM223 111h3v17h-3zM110 128h1v17h-1zM223 128h3v17h-3zM110 145h1v17h-1zM223 145h3v17h-3zM110 162h1v16h-1zM223 162h3v16h-3zM110 178h1v17h-1zM223 178h3v17h-3zM110 195h1v17h-1zM223 195h3v17h-3zM110 212h1v16h-1zM223 212h3v16h-3zM110 228h1v17h-1zM223 228h3v17h-3zM110 245h1v17h-1zM223 245h3v17h-3zM110 262h1v17h-1zM223 262h3v17h-3zM110 279h1v16h-1zM223 279h3v16h-3zM110 295h1v17h-1zM223 295h3v17h-3zM110 312h1v17h-1zM223 312h3v17h-3zM110 329h1v17h-1zM223 329h3v17h-3zM264 362h1v17h-1z"/>
<path fill="#860097" d="M265 28h1v17h-1zM109 78h1v17h-1zM226 78h3v17h-3zM109 95h1v16h-1zM223 95h4v16h-4zM109 111h1v17h-1zM226 111h3v17h-3zM109 128h1v17h-1zM226 128h3v17h-3zM109 145h1v17h-1zM226 145h3v17h-3zM109 162h1v16h-1zM226 162h3v16h-3zM109 178h1v17h-1zM226 178h3v17h-3zM109 195h1v17h-1zM226 195h3v17h-3zM109 212h1v16h-1zM226 212h3v16h-3zM109 228h1v17h-1zM226 228h3v17h-3zM109 245h1v17h-1zM226 245h3v17h-3zM109 262h1v17h-1zM226 262h3v17h-3zM109 279h1v16h-1zM226 279h3v16h-3zM109 295h1v17h-1zM226 295h3v17h-3zM109 312h1v17h-1zM226 312h3v17h-3zM109 329h1v17h-1zM226 329h3v17h-3zM265 362h1v17h-1zM264 379h2v17h-2z"/>
<path fill="#850096" d="M266 28h2v17h-2zM108 78h1v17h-1zM229 78h4v17h-4zM263 78h1v17h-1zM108 95h1v16h-1zM227 95h4v16h-4zM263 95h1v16h-1zM108 111h1v17h-1zM229 111h4v17h-4zM263 111h1v17h-1zM108 128h1v17h-1zM229 128h4v17h-4zM263 128h1v17h-1zM108 145h1v17h-1zM229 145h4v17h-4zM263 145h1v17h-1zM108 162h1v16h-1zM229 162h4v16h-4zM263 162h1v16h-1zM108 178h1v17h-1zM229 178h4v17h-4zM263 178h1v17h-1zM108 195h1v17h-1zM229 195h4v17h-4zM263 195h1v17h-1zM108 212h1v16h-1zM229 212h4v16h-4zM263 212h1v16h-1zM108 228h1v17h-1zM229 228h4v17h-4zM263 228h1v17h-1zM108 245h1v17h-1zM229 245h4v17h-4zM263 245h1v17h-1zM108 262h1v17h-1zM229 262h4v17h-4zM263 262h1v17h-1zM108 279h1v16h-1zM229 279h4v16h-4zM263 279h1v16h-1zM108 295h1v17h-1zM229 295h4v17h-4zM263 295h1v17h-1zM108 312h1v17h-1zM229 312h4v17h-4zM263 312h1v17h-1zM108 329h1v17h-1zM229 329h4v17h-4zM263 329h1v17h-1zM266 362h2v17h-2zM266 379h2v17h-2z"/>
<path fill="#830094" d="M268 28h2v17h-2zM107 78h1v17h-1zM233 78h3v17h-3zM107 95h1v16h-1zM231 95h3v16h-3zM107 111h1v17h-1zM233 111h3v17h-3zM107 128h1v17h-1zM233 128h3v17h-3zM107 145h1v17h-1zM233 145h3v17h-3zM107 162h1v16h-1zM233 162h3v16h-3zM107 178h1v17h-1zM233 178h3v17h-3zM107 195h1v17h-1zM233 195h3v17h-3zM107 212h1v16h-1zM233 212h3v16h-3zM107 228h1v17h-1zM233 228h3v17h-3zM107 245h1v17h-1zM233 245h3v17h-3zM107 262h1v17h-1zM233 262h3v17h-3zM107 279h1v16h-1zM233 279h3v16h-3zM107 295h1v17h-1zM233 295h3v17h-3zM107 312h1v17h-1zM233 312h3v17h-3zM107 329h1v17h-1zM233 329h3v17h-3zM268 362h2v17h-2zM268 379h2v17h-2z"/>
<path fill="#820093" d="M270 28h2v17h-2zM236 78h3v17h-3zM234 95h4v16h-4zM236 111h3v17h-3zM236 128h3v17h-3zM236 145h3v17h-3zM236 162h3v16h-3zM236 178h3v17h-3zM236 195h3v17h-3zM236 212h3v16h-3zM236 228h3v17h-3zM236 245h3v17h-3zM236 262h3v17h-3zM236 279h3v16h-3zM236 295h3v17h-3zM236 312h3v17h-3zM236 329h3v17h-3zM270 362h2v17h-2zM270 379h1v17h-1z"/>
<path fill="#810092" d="M272 28h1v17h-1zM239 78h3v17h-3zM238 95h3v16h-3zM239 111h3v17h-3zM239 128h3v17h-3zM239 145h3v17h-3zM239 162h3v16h-3zM239 178h3v17h-3zM239 195h3v17h-3zM239 212h3v16h-3zM239 228h3v17h-3zM239 245h3v17h-3zM239 262h3v17h-3zM239 279h3v16h-3zM239 295h3v17h-3zM239 312h3v17h-3zM239 329h3v17h-3zM272 362h1v17h-1zM271 379h2v17h-2z"/>
<path fill="#7e008f" d="M275 28h1v17h-1zM245 78h2v17h-2zM245 95h2v16h-2zM245 111h2v17h-2zM245 128h2v17h-2zM245 145h2v17h-2zM245 162h2v16h-2zM245 178h2v17h-2zM245 195h2v17h-2zM245 212h2v16h-2zM245 228h2v17h-2zM245 245h2v17h-2zM245 262h2v17h-2zM245 279h2v16h-2zM245 295h2v17h-2zM245 312h2v17h-2zM245 329h2v17h-2zM275 362h1v17h-1zM275 379h1v17h-1z"/>
<path fill="#7d008e" d="M276 28h2v17h-2zM106 78h1v17h-1zM106 95h1v16h-1zM106 111h1v17h-1zM106 128h1v17h-1zM106 145h1v17h-1zM106 162h1v16h-1zM106 178h1v17h-1zM106 195h1v17h-1zM106 212h1v16h-1zM106 228h1v17h-1zM106 245h1v17h-1zM106 262h1v17h-1zM106 279h1v16h-1zM106 295h1v17h-1zM106 312h1v17h-1zM106 329h1v17h-1zM276 362h2v17h-2zM276 379h2v17h-2z"/>
<path fill="#7b008c" d="M278 28h2v17h-2zM278 362h2v17h-2zM278 379h1v17h-1z"/>
<path fill="#7a008b" d="M280 28h1v17h-1zM285 111h1v17h-1zM280 362h1v17h-1zM279 379h2v17h-2z"/>
<path fill="#79008a" d="M281 28h2v17h-2zM264 78h1v17h-1zM264 95h1v16h-1zM264 111h1v17h-1zM264 128h1v17h-1zM264 145h1v17h-1zM264 162h1v16h-1zM264 178h1v17h-1zM264 195h1v17h-1zM264 212h1v16h-1zM264 228h1v17h-1zM264 245h1v17h-1zM264 262h1v17h-1zM264 279h1v16h-1zM264 295h1v17h-1zM264 312h1v17h-1zM264 329h1v17h-1zM281 362h2v17h-2zM281 379h2v17h-2z"/>
<path fill="#770088" d="M283 28h2v17h-2zM283 362h2v17h-2zM283 379h2v17h-2z"/>
<path fill="#670075" d="M288 28h1v17h-1zM266 78h1v17h-1zM266 95h1v16h-1zM266 111h1v17h-1zM266 128h1v17h-1zM266 145h1v17h-1zM266 162h1v16h-1zM266 178h1v17h-1zM266 195h1v17h-1zM266 212h1v16h-1zM266 228h1v17h-1zM266 245h1v17h-1zM266 262h1v17h-1zM266 279h1v16h-1zM266 295h1v17h-1zM266 312h1v17h-1zM266 329h1v17h-1zM288 362h1v17h-1zM287 379h2v17h-2z"/>
<path fill="#5d006b" d="M289 28h2v17h-2zM289 362h2v17h-2zM289 379h2v17h-2z"/>
<path fill="#540060" d="M291 28h2v17h-2zM104 78h1v17h-1zM104 95h1v16h-1zM104 111h1v17h-1zM104 128h1v17h-1zM104 145h1v17h-1zM104 162h1v16h-1zM104 178h1v17h-1zM104 195h1v17h-1zM104 212h1v16h-1zM104 228h1v17h-1zM104 245h1v17h-1zM104 262h1v17h-1zM104 279h1v16h-1zM104 295h1v17h-1zM104 312h1v17h-1zM104 329h1v17h-1zM291 362h2v17h-2zM291 379h2v17h-2z"/>
<path fill="#4b0055" d="M293 28h2v17h-2zM293 362h2v17h-2zM293 379h2v17h-2z"/>
<path fill="#2f0035" d="M299 28h3v17h-3zM102 78h1v17h-1zM277 78h11v17h-11zM102 95h1v16h-1zM273 95h14v16h-14zM102 111h1v17h-1zM277 111h8v17h-8zM286 111h2v17h-2zM102 128h1v17h-1zM277 128h11v17h-11zM102 145h1v17h-1zM277 145h11v17h-11zM102 162h1v16h-1zM277 162h11v16h-11zM102 178h1v17h-1zM277 178h11v17h-11zM102 195h1v17h-1zM277 195h11v17h-11zM102 212h1v16h-1zM277 212h11v16h-11zM102 228h1v17h-1zM277 228h11v17h-11zM102 245h1v17h-1zM277 245h11v17h-11zM102 262h1v17h-1zM277 262h11v17h-11zM102 279h1v16h-1zM277 279h11v16h-11zM102 295h1v17h-1zM277 295h11v17h-11zM102 312h1v17h-1zM277 312h11v17h-11zM102 329h1v17h-1zM277 329h11v17h-11zM299 362h3v17h-3zM299 379h2v17h-2z"/>
<path fill="#25002b" d="M302 28h3v17h-3zM288 78h11v17h-11zM287 95h12v16h-12zM288 111h11v17h-11zM288 128h11v17h-11zM288 145h11v17h-11zM288 162h11v16h-11zM288 178h11v17h-11zM288 195h11v17h-11zM288 212h11v16h-11zM288 228h11v17h-11zM288 245h11v17h-11zM288 262h11v17h-11zM288 279h11v16h-11zM288 295h11v17h-11zM288 312h11v17h-11zM288 329h11v17h-11zM50 346h52v16h-52zM116 346h48v16h-48zM183 346h117v16h-117zM302 362h3v17h-3zM301 379h4v17h-4z"/>
<path fill="#09000b" d="M58 45h257v16h-257z"/>
<path fill="#83009a" d="M111 78h1v17h-1zM219 95h1v16h-1zM111 111h1v17h-1zM111 128h1v17h-1zM111 145h1v17h-1zM111 162h1v16h-1zM111 178h1v17h-1zM111 195h1v17h-1zM111 212h1v16h-1zM111 228h1v17h-1zM111 245h1v17h-1zM111 262h1v17h-1zM111 279h1v16h-1zM111 295h1v17h-1zM111 312h1v17h-1zM111 329h1v17h-1z"/>
<path fill="#58009f" d="M113 78h1v17h-1zM220 78h1v17h-1zM216 95h1v16h-1zM113 111h1v17h-1zM220 111h1v17h-1zM113 128h1v17h-1zM220 128h1v17h-1zM113 145h1v17h-1zM220 145h1v17h-1zM113 162h1v16h-1zM220 162h1v16h-1zM113 178h1v17h-1zM220 178h1v17h-1zM113 195h1v17h-1zM220 195h1v17h-1zM113 212h1v16h-1zM220 212h1v16h-1zM113 228h1v17h-1zM220 228h1v17h-1zM113 245h1v17h-1zM220 245h1v17h-1zM113 262h1v17h-1zM220 262h1v17h-1zM113 279h1v16h-1zM220 279h1v16h-1zM113 295h1v17h-1zM220 295h1v17h-1zM113 312h1v17h-1zM220 312h1v17h-1zM113 329h1v17h-1zM220 329h1v17h-1z"/>
<path fill="#4d00a0" d="M114 78h1v17h-1zM219 78h1v17h-1zM114 111h1v17h-1zM219 111h1v17h-1zM114 128h1v17h-1zM219 128h1v17h-1zM114 145h1v17h-1zM219 145h1v17h-1zM114 162h1v16h-1zM219 162h1v16h-1zM114 178h1v17h-1zM219 178h1v17h-1zM114 195h1v17h-1zM219 195h1v17h-1zM114 212h1v16h-1zM219 212h1v16h-1zM114 228h1v17h-1zM219 228h1v17h-1zM114 245h1v17h-1zM219 245h1v17h-1zM114 262h1v17h-1zM219 262h1v17h-1zM114 279h1v16h-1zM219 279h1v16h-1zM114 295h1v17h-1zM218 295h2v17h-2zM114 312h1v17h-1zM219 312h1v17h-1zM114 329h1v17h-1zM219 329h1v17h-1z"/>
<path fill="#2300a6" d="M116 78h1v17h-1zM216 78h1v17h-1zM255 78h1v17h-1zM212 95h1v16h-1zM255 95h1v16h-1zM116 111h1v17h-1zM216 111h1v17h-1zM255 111h1v17h-1zM116 128h1v17h-1zM216 128h1v17h-1zM255 128h1v17h-1zM116 145h1v17h-1zM216 145h1v17h-1zM255 145h1v17h-1zM116 162h1v16h-1zM216 162h1v16h-1zM255 162h1v16h-1zM255 178h1v17h-1zM116 195h1v17h-1zM216 195h1v17h-1zM255 195h1v17h-1zM116 212h1v16h-1zM216 212h1v16h-1zM255 212h1v16h-1zM116 228h1v17h-1zM216 228h1v17h-1zM255 228h1v17h-1zM116 245h1v17h-1zM216 245h1v17h-1zM255 245h1v17h-1zM116 262h1v17h-1zM216 262h1v17h-1zM255 262h1v17h-1zM255 279h1v16h-1zM215 295h1v17h-1zM255 295h1v17h-1zM267 295h1v17h-1zM116 312h1v17h-1zM216 312h1v17h-1zM255 312h1v17h-1zM255 329h1v17h-1z"/>
<path fill="#0000b5" d="M119 78h1v17h-1zM212 78h1v17h-1zM119 111h2v17h-2zM251 111h1v17h-1zM119 128h2v17h-2zM251 128h1v17h-1zM213 145h1v17h-1zM119 162h1v16h-1zM212 162h1v16h-1zM120 178h1v17h-1zM211 178h1v17h-1zM253 178h1v17h-1zM119 195h2v17h-2zM119 212h2v16h-2zM251 212h1v16h-1zM119 228h2v17h-2zM254 228h1v17h-1zM119 245h1v17h-1zM212 245h1v17h-1zM119 262h1v17h-1zM212 262h1v17h-1zM119 279h2v16h-2zM253 279h1v16h-1zM120 295h2v17h-2zM209 295h2v17h-2zM252 295h1v17h-1zM119 312h2v17h-2zM251 312h1v17h-1zM120 329h1v17h-1zM211 329h1v17h-1zM253 329h1v17h-1zM246 379h1v17h-1z"/>
<path fill="#0000c1" d="M122 78h1v17h-1zM124 78h2v17h-2zM127 78h2v17h-2zM211 78h1v17h-1zM110 95h1v16h-1zM200 95h1v16h-1zM204 95h1v16h-1zM251 95h1v16h-1zM122 111h2v17h-2zM125 111h2v17h-2zM129 111h1v17h-1zM132 111h3v17h-3zM122 128h2v17h-2zM125 128h2v17h-2zM129 128h1v17h-1zM132 128h3v17h-3zM209 128h1v17h-1zM252 128h1v17h-1zM128 145h1v17h-1zM122 162h4v16h-4zM127 162h1v16h-1zM253 162h1v16h-1zM123 178h1v17h-1zM126 178h1v17h-1zM129 178h1v17h-1zM131 178h4v17h-4zM208 178h1v17h-1zM122 195h6v17h-6zM129 195h1v17h-1zM132 195h3v17h-3zM209 195h2v17h-2zM252 195h1v17h-1zM122 212h2v16h-2zM125 212h2v16h-2zM129 212h1v16h-1zM132 212h3v16h-3zM122 228h4v17h-4zM127 228h1v17h-1zM132 228h2v17h-2zM209 228h2v17h-2zM252 228h1v17h-1zM122 245h4v17h-4zM127 245h1v17h-1zM253 245h1v17h-1zM122 262h4v17h-4zM127 262h1v17h-1zM253 262h1v17h-1zM123 279h1v16h-1zM125 279h2v16h-2zM129 279h1v16h-1zM132 279h3v16h-3zM126 295h1v17h-1zM129 295h1v17h-1zM131 295h1v17h-1zM134 295h2v17h-2zM205 295h3v17h-3zM122 312h2v17h-2zM125 312h2v17h-2zM129 312h1v17h-1zM132 312h3v17h-3zM209 312h1v17h-1zM252 312h1v17h-1zM123 329h1v17h-1zM126 329h1v17h-1zM129 329h1v17h-1zM131 329h4v17h-4zM208 329h1v17h-1z"/>
<path fill="#0000d5" d="M145 78h2v17h-2zM153 78h1v17h-1zM205 78h3v17h-3zM111 95h1v16h-1zM179 95h4v16h-4zM154 111h2v17h-2zM158 111h1v17h-1zM204 111h1v17h-1zM154 128h1v17h-1zM146 145h1v17h-1zM150 145h3v17h-3zM252 145h1v17h-1zM145 162h1v16h-1zM153 162h1v16h-1zM205 162h3v16h-3zM155 178h2v17h-2zM158 178h2v17h-2zM145 195h1v17h-1zM154 195h1v17h-1zM154 212h2v16h-2zM158 212h1v16h-1zM204 212h1v16h-1zM145 228h1v17h-1zM154 228h1v17h-1zM145 245h1v17h-1zM153 245h1v17h-1zM205 245h3v17h-3zM145 262h1v17h-1zM153 262h1v17h-1zM205 262h3v17h-3zM155 279h1v16h-1zM158 279h2v16h-2zM156 295h2v17h-2zM160 295h1v17h-1zM200 295h1v17h-1zM202 295h1v17h-1zM154 312h1v17h-1zM155 329h3v17h-3zM159 329h1v17h-1zM203 329h1v17h-1z"/>
<path fill="#0000d9" d="M154 78h1v17h-1zM163 95h5v16h-5zM169 95h5v16h-5zM178 95h1v16h-1zM156 111h2v17h-2zM159 111h1v17h-1zM155 128h5v17h-5zM204 128h1v17h-1zM145 145h1v17h-1zM153 145h1v17h-1zM208 145h1v17h-1zM154 162h1v16h-1zM157 178h1v17h-1zM160 178h1v17h-1zM200 178h4v17h-4zM155 195h1v17h-1zM158 195h2v17h-2zM204 195h1v17h-1zM156 212h2v16h-2zM159 212h1v16h-1zM155 228h1v17h-1zM158 228h1v17h-1zM154 245h1v17h-1zM154 262h1v17h-1zM156 279h2v16h-2zM203 279h1v16h-1zM162 295h3v17h-3zM199 295h1v17h-1zM155 312h5v17h-5zM204 312h1v17h-1zM200 329h3v17h-3zM233 379h1v17h-1z"/>
<path fill="#0009dd" d="M156 78h2v17h-2zM159 78h1v17h-1zM204 78h1v17h-1zM162 95h1v16h-1zM163 111h1v17h-1zM200 111h1v17h-1zM160 128h1v17h-1zM200 128h3v17h-3zM205 145h3v17h-3zM157 162h1v16h-1zM159 162h1v16h-1zM204 162h1v16h-1zM161 178h2v17h-2zM164 178h1v17h-1zM199 178h1v17h-1zM160 195h1v17h-1zM201 195h3v17h-3zM163 212h1v16h-1zM200 212h1v16h-1zM157 245h1v17h-1zM159 245h1v17h-1zM204 245h1v17h-1zM157 262h1v17h-1zM159 262h1v17h-1zM204 262h1v17h-1zM161 279h3v16h-3zM199 279h1v16h-1zM167 295h1v17h-1zM200 312h3v17h-3zM165 329h2v17h-2zM232 379h1v17h-1z"/>
<path fill="#0092dd" d="M160 78h1v17h-1zM129 95h1v16h-1zM209 379h3v17h-3z"/>
<path fill="#0070dd" d="M163 78h4v17h-4zM170 78h1v17h-1zM179 78h2v17h-2zM183 78h1v17h-1zM185 78h3v17h-3zM191 78h1v17h-1zM195 78h1v17h-1zM257 78h1v17h-1zM119 95h2v16h-2zM133 95h2v16h-2zM138 95h2v16h-2zM145 95h2v16h-2zM155 95h1v16h-1zM157 95h1v16h-1zM262 111h1v17h-1zM258 128h1v17h-1zM197 145h1v17h-1zM174 162h3v16h-3zM178 162h5v16h-5zM185 162h1v16h-1zM191 162h1v16h-1zM257 162h1v16h-1zM258 195h1v17h-1zM262 212h1v16h-1zM189 228h1v17h-1zM248 228h1v17h-1zM174 245h3v17h-3zM178 245h5v17h-5zM185 245h1v17h-1zM191 245h1v17h-1zM257 245h1v17h-1zM174 262h3v17h-3zM178 262h5v17h-5zM185 262h1v17h-1zM191 262h1v17h-1zM257 262h1v17h-1zM247 295h1v17h-1zM261 295h1v17h-1zM258 312h1v17h-1z"/>
<path fill="#007add" d="M168 78h1v17h-1zM175 78h3v17h-3zM189 78h1v17h-1zM248 78h1v17h-1zM132 95h1v16h-1zM257 95h1v16h-1zM171 145h1v17h-1zM193 145h1v17h-1zM196 145h1v17h-1zM258 162h1v16h-1zM247 178h1v17h-1zM261 178h1v17h-1zM262 228h1v17h-1zM258 245h1v17h-1zM258 262h1v17h-1zM218 379h4v17h-4z"/>
<path fill="#4300a2" d="M218 78h1v17h-1zM249 78h1v17h-1zM259 78h1v17h-1zM215 95h1v16h-1zM249 95h1v16h-1zM259 95h1v16h-1zM218 111h1v17h-1zM249 111h1v17h-1zM259 111h1v17h-1zM218 128h1v17h-1zM249 128h1v17h-1zM259 128h1v17h-1zM218 145h1v17h-1zM249 145h1v17h-1zM259 145h1v17h-1zM218 162h1v16h-1zM249 162h1v16h-1zM259 162h1v16h-1zM218 178h1v17h-1zM249 178h1v17h-1zM259 178h1v17h-1zM218 195h1v17h-1zM249 195h1v17h-1zM259 195h1v17h-1zM218 212h1v16h-1zM249 212h1v16h-1zM259 212h1v16h-1zM218 228h1v17h-1zM249 228h1v17h-1zM259 228h1v17h-1zM218 245h1v17h-1zM249 245h1v17h-1zM259 245h1v17h-1zM218 262h1v17h-1zM249 262h1v17h-1zM259 262h1v17h-1zM218 279h1v16h-1zM249 279h1v16h-1zM259 279h1v16h-1zM115 295h1v17h-1zM249 295h1v17h-1zM259 295h1v17h-1zM218 312h1v17h-1zM249 312h1v17h-1zM259 312h1v17h-1zM115 329h1v17h-1zM218 329h1v17h-1zM249 329h1v17h-1zM259 329h1v17h-1z"/>
<path fill="#008add" d="M247 78h1v17h-1zM261 78h1v17h-1zM130 95h1v16h-1zM262 145h1v17h-1zM107 379h1v17h-1zM212 379h3v17h-3z"/>
<path fill="#0041dd" d="M116 95h1v16h-1zM171 111h3v17h-3zM192 111h4v17h-4zM168 128h1v17h-1zM171 128h1v17h-1zM193 128h1v17h-1zM196 128h1v17h-1zM161 145h3v17h-3zM200 145h4v17h-4zM167 162h1v16h-1zM174 178h2v17h-2zM179 178h2v17h-2zM183 178h1v17h-1zM185 178h3v17h-3zM191 178h1v17h-1zM257 178h1v17h-1zM168 195h3v17h-3zM171 212h3v16h-3zM192 212h4v16h-4zM169 228h2v17h-2zM197 228h1v17h-1zM172 279h2v16h-2zM183 279h2v16h-2zM186 279h2v16h-2zM168 312h1v17h-1zM171 312h1v17h-1zM193 312h1v17h-1zM196 312h1v17h-1zM175 329h2v17h-2zM178 329h1v17h-1zM181 329h2v17h-2zM185 329h1v17h-1zM188 329h1v17h-1zM190 329h1v17h-1zM257 329h1v17h-1z"/>
<path fill="#0090dd" d="M126 95h3v16h-3z"/>
<path fill="#6d009c" d="M217 95h1v16h-1z"/>
<path fill="#1800a7" d="M117 111h1v17h-1zM215 111h1v17h-1zM215 128h1v17h-1zM117 178h1v17h-1zM215 178h1v17h-1zM267 178h1v17h-1zM215 195h1v17h-1zM117 212h1v16h-1zM215 212h1v16h-1zM215 228h1v17h-1zM117 279h1v16h-1zM215 279h1v16h-1zM117 295h1v17h-1zM215 312h1v17h-1zM117 329h1v17h-1zM215 329h1v17h-1zM267 329h1v17h-1zM104 379h1v17h-1z"/>
<path fill="#0082dd" d="M175 145h4v17h-4zM181 145h2v17h-2zM188 145h1v17h-1zM190 145h1v17h-1zM247 195h1v17h-1zM261 195h1v17h-1zM216 379h1v17h-1z"/>
<path fill="#00f400" d="M149 295h1v17h-1zM149 329h1v17h-1z"/>
<path fill="#0098dd" d="M160 312h1v17h-1zM208 379h1v17h-1z"/>
<path fill="#00e400" d="M161 329h1v17h-1zM161 379h1v17h-1z"/>
<path fill="#c4fc00" d="M161 362h1v17h-1z"/>
<path fill="#00a13d" d="M111 379h1v17h-1z"/>
<path fill="#009a08" d="M166 379h1v17h-1zM170 379h1v17h-1zM178 379h1v17h-1z"/>
<path fill="#00a668" d="M183 379h1v17h-1z"/>
<path fill="#00a97d" d="M184 379h2v17h-2z"/>
<path fill="#00aa98" d="M190 379h1v17h-1z"/>
<path fill="#00aa9d" d="M191 379h1v17h-1z"/>
<path fill="#00a8af" d="M195 379h1v17h-1z"/>
<path fill="#00a4bb" d="M197 379h1v17h-1z"/>
<path fill="#009ecf" d="M200 379h1v17h-1zM204 379h1v17h-1z"/>
<path fill="#000000" d="M329 28h47v17h-47zM592 28h3v17h-3zM329 45h47v16h-47zM592 45h3v16h-3zM329 61h1v17h-1zM341 61h2v17h-2zM348 61h1v17h-1zM355 61h1v17h-1zM358 61h1v17h-1zM364 61h2v17h-2zM371 61h2v17h-2zM378 61h1v17h-1zM381 61h1v17h-1zM387 61h2v17h-2zM585 61h10v17h-10zM329 78h52v17h-52zM589 78h6v17h-6zM329 95h52v16h-52zM589 95h6v16h-6zM329 111h52v17h-52zM589 111h6v17h-6zM329 128h52v17h-52zM589 128h6v17h-6zM329 145h52v17h-52zM589 145h6v17h-6zM329 162h52v16h-52zM589 162h6v16h-6zM329 178h52v17h-52zM589 178h6v17h-6zM329 195h52v17h-52zM589 195h6v17h-6zM329 212h52v16h-52zM589 212h6v16h-6zM329 228h1v17h-1zM588 228h7v17h-7zM329 245h52v17h-52zM589 245h6v17h-6zM329 262h52v17h-52zM589 262h6v17h-6zM330 279h51v16h-51zM589 279h6v16h-6zM330 295h51v17h-51zM589 295h6v17h-6zM330 312h51v17h-51zM589 312h6v17h-6zM330 329h51v17h-51zM589 329h6v17h-6zM341 346h2v16h-2zM348 346h2v16h-2zM351 346h1v16h-1zM355 346h1v16h-1zM357 346h2v16h-2zM364 346h2v16h-2zM371 346h2v16h-2zM378 346h2v16h-2zM381 346h1v16h-1zM385 346h1v16h-1zM387 346h2v16h-2zM585 346h10v16h-10zM338 362h51v17h-51zM447 362h30v17h-30zM560 362h35v17h-35zM330 379h46v17h-46zM592 379h3v17h-3z"/>
<path fill="#09000b" d="M376 28h2v17h-2zM591 28h1v17h-1zM376 45h2v16h-2zM591 45h1v16h-1zM381 78h1v17h-1zM586 78h3v17h-3zM381 95h1v16h-1zM586 95h2v16h-2zM381 111h1v17h-1zM586 111h3v17h-3zM381 128h1v17h-1zM586 128h3v17h-3zM381 145h1v17h-1zM586 145h3v17h-3zM381 162h1v16h-1zM586 162h3v16h-3zM381 178h1v17h-1zM586 178h3v17h-3zM381 195h1v17h-1zM586 195h3v17h-3zM381 212h1v16h-1zM586 212h3v16h-3zM381 245h1v17h-1zM586 245h3v17h-3zM381 262h1v17h-1zM586 262h3v17h-3zM381 279h1v16h-1zM586 279h3v16h-3zM381 295h1v17h-1zM586 295h3v17h-3zM381 312h1v17h-1zM586 312h3v17h-3zM381 329h1v17h-1zM586 329h3v17h-3zM340 346h1v16h-1zM343 346h5v16h-5zM350 346h1v16h-1zM352 346h3v16h-3zM356 346h1v16h-1zM359 346h5v16h-5zM366 346h5v16h-5zM373 346h5v16h-5zM380 346h1v16h-1zM382 346h3v16h-3zM386 346h1v16h-1zM389 346h3v16h-3zM330 362h8v17h-8zM389 362h58v17h-58zM477 362h83v17h-83zM376 379h2v17h-2zM591 379h1v17h-1z"/>
<path fill="#130015" d="M378 28h1v17h-1zM590 28h1v17h-1zM378 45h1v16h-1zM590 45h1v16h-1zM330 61h11v17h-11zM343 61h5v17h-5zM349 61h6v17h-6zM356 61h2v17h-2zM359 61h5v17h-5zM366 61h5v17h-5zM373 61h5v17h-5zM379 61h2v17h-2zM382 61h5v17h-5zM389 61h6v17h-6zM455 61h130v17h-130zM583 78h3v17h-3zM583 95h3v16h-3zM583 111h3v17h-3zM583 128h3v17h-3zM583 145h3v17h-3zM583 162h3v16h-3zM583 178h3v17h-3zM583 195h3v17h-3zM583 212h3v16h-3zM575 228h13v17h-13zM583 245h3v17h-3zM583 262h3v17h-3zM583 279h3v16h-3zM583 295h3v17h-3zM583 312h3v17h-3zM583 329h3v17h-3zM330 346h10v16h-10zM455 346h130v16h-130zM378 379h1v17h-1zM590 379h1v17h-1z"/>
<path fill="#25002b" d="M379 28h1v17h-1zM587 28h1v17h-1zM379 45h1v16h-1zM587 45h1v16h-1zM382 78h1v17h-1zM577 78h3v17h-3zM382 95h1v16h-1zM577 95h3v16h-3zM382 111h1v17h-1zM577 111h3v17h-3zM382 128h1v17h-1zM577 128h3v17h-3zM382 145h1v17h-1zM577 145h3v17h-3zM382 162h1v16h-1zM577 162h3v16h-3zM382 178h1v17h-1zM577 178h3v17h-3zM382 195h1v17h-1zM577 195h3v17h-3zM382 212h1v16h-1zM577 212h3v16h-3zM382 245h1v17h-1zM577 245h3v17h-3zM382 262h1v17h-1zM577 262h3v17h-3zM382 279h1v16h-1zM577 279h3v16h-3zM382 295h1v17h-1zM577 295h3v17h-3zM382 312h1v17h-1zM577 312h3v17h-3zM382 329h1v17h-1zM577 329h3v17h-3zM379 379h1v17h-1zM587 379h1v17h-1z"/>
<path fill="#41004b" d="M380 28h1v17h-1zM584 28h1v17h-1zM380 45h1v16h-1zM584 45h1v16h-1zM383 78h1v17h-1zM566 78h4v17h-4zM383 95h1v16h-1zM566 95h4v16h-4zM383 111h1v17h-1zM566 111h4v17h-4zM383 128h1v17h-1zM566 128h4v17h-4zM383 145h1v17h-1zM566 145h4v17h-4zM383 162h1v16h-1zM566 162h4v16h-4zM383 178h1v17h-1zM566 178h4v17h-4zM383 195h1v17h-1zM566 195h4v17h-4zM383 212h1v16h-1zM566 212h4v16h-4zM402 228h1v17h-1zM409 228h2v17h-2zM424 228h1v17h-1zM427 228h1v17h-1zM441 228h3v17h-3zM449 228h1v17h-1zM464 228h1v17h-1zM467 228h1v17h-1zM481 228h1v17h-1zM483 228h2v17h-2zM489 228h2v17h-2zM498 228h3v17h-3zM504 228h2v17h-2zM507 228h2v17h-2zM514 228h2v17h-2zM520 228h2v17h-2zM524 228h3v17h-3zM383 245h1v17h-1zM566 245h4v17h-4zM383 262h1v17h-1zM566 262h4v17h-4zM383 279h1v16h-1zM566 279h4v16h-4zM383 295h1v17h-1zM566 295h4v17h-4zM383 312h1v17h-1zM566 312h4v17h-4zM383 329h1v17h-1zM566 329h4v17h-4zM380 379h1v17h-1zM584 379h1v17h-1z"/>
<path fill="#7b008c" d="M381 28h1v17h-1zM574 28h1v17h-1zM381 45h1v16h-1zM574 45h1v16h-1zM381 379h1v17h-1zM574 379h1v17h-1z"/>
<path fill="#63009e" d="M382 28h1v17h-1zM382 45h1v16h-1zM517 78h2v17h-2zM517 95h2v16h-2zM516 111h3v17h-3zM517 128h2v17h-2zM517 145h2v17h-2zM517 162h2v16h-2zM517 178h2v17h-2zM516 195h3v17h-3zM517 212h2v16h-2zM517 245h2v17h-2zM517 262h2v17h-2zM517 279h2v16h-2zM517 295h2v17h-2zM517 312h2v17h-2zM516 329h3v17h-3zM382 379h1v17h-1z"/>
<path fill="#0000bd" d="M383 28h1v17h-1zM383 45h1v16h-1zM503 95h2v16h-2zM501 111h1v17h-1zM502 128h1v17h-1zM503 145h2v17h-2zM502 178h1v17h-1zM503 212h1v16h-1zM503 245h1v17h-1zM503 262h1v17h-1zM503 279h1v16h-1zM502 312h1v17h-1zM501 329h1v17h-1zM383 379h1v17h-1z"/>
<path fill="#0041dd" d="M384 28h1v17h-1zM384 45h1v16h-1zM400 78h1v17h-1zM391 95h1v16h-1zM395 95h1v16h-1zM494 95h1v16h-1zM547 95h1v16h-1zM408 111h1v17h-1zM416 111h1v17h-1zM401 128h1v17h-1zM405 128h1v17h-1zM399 145h1v17h-1zM494 145h1v17h-1zM547 145h1v17h-1zM400 162h1v16h-1zM401 178h1v17h-1zM404 195h1v17h-1zM406 195h2v17h-2zM399 212h1v16h-1zM494 212h1v16h-1zM399 245h1v17h-1zM494 245h1v17h-1zM399 262h1v17h-1zM494 262h1v17h-1zM399 279h2v16h-2zM549 279h1v16h-1zM400 295h1v17h-1zM549 295h1v17h-1zM401 312h1v17h-1zM405 312h1v17h-1zM403 329h1v17h-1zM408 329h1v17h-1zM416 329h1v17h-1zM419 329h1v17h-1zM384 379h1v17h-1z"/>
<path fill="#008add" d="M385 28h1v17h-1zM548 28h1v17h-1zM385 45h1v16h-1zM548 45h1v16h-1zM433 95h1v16h-1zM450 111h1v17h-1zM536 111h2v17h-2zM540 111h1v17h-1zM543 111h3v17h-3zM437 128h1v17h-1zM433 145h1v17h-1zM489 178h1v17h-1zM441 195h1v17h-1zM445 195h1v17h-1zM486 195h1v17h-1zM434 212h1v16h-1zM434 245h1v17h-1zM434 262h1v17h-1zM434 279h1v16h-1zM491 295h1v17h-1zM530 295h1v17h-1zM437 312h1v17h-1zM451 329h2v17h-2zM481 329h1v17h-1zM385 379h1v17h-1zM548 379h1v17h-1z"/>
<path fill="#00a4bb" d="M386 28h1v17h-1zM386 45h1v16h-1zM451 78h1v17h-1zM481 78h1v17h-1zM483 95h3v16h-3zM538 111h1v17h-1zM459 128h1v17h-1zM465 128h1v17h-1zM467 128h2v17h-2zM478 128h1v17h-1zM531 128h1v17h-1zM443 145h2v17h-2zM483 145h1v17h-1zM485 145h1v17h-1zM451 162h1v16h-1zM481 162h1v16h-1zM458 178h1v17h-1zM479 178h1v17h-1zM449 212h1v16h-1zM482 212h1v16h-1zM535 212h1v16h-1zM449 245h1v17h-1zM482 245h1v17h-1zM535 245h1v17h-1zM449 262h1v17h-1zM482 262h1v17h-1zM535 262h1v17h-1zM449 279h1v16h-1zM535 279h1v16h-1zM450 295h1v17h-1zM459 312h1v17h-1zM465 312h1v17h-1zM467 312h2v17h-2zM478 312h1v17h-1zM531 312h1v17h-1zM386 379h1v17h-1z"/>
<path fill="#00a97d" d="M387 28h1v17h-1zM495 28h1v17h-1zM387 45h1v16h-1zM495 45h1v16h-1zM534 95h1v16h-1zM534 212h1v16h-1zM534 245h1v17h-1zM534 262h1v17h-1zM387 379h1v17h-1zM495 379h1v17h-1z"/>
<path fill="#00a700" d="M388 28h1v17h-1zM487 28h1v17h-1zM388 45h1v16h-1zM487 45h1v16h-1zM528 212h1v16h-1zM541 212h1v16h-1zM528 245h1v17h-1zM541 245h1v17h-1zM528 262h1v17h-1zM541 262h1v17h-1zM528 279h1v16h-1zM541 279h1v16h-1zM429 295h1v17h-1zM441 312h1v17h-1zM441 329h1v17h-1zM388 379h1v17h-1zM487 379h1v17h-1z"/>
<path fill="#00c700" d="M389 28h1v17h-1zM480 28h1v17h-1zM389 45h1v16h-1zM480 45h1v16h-1zM389 379h1v17h-1zM480 379h1v17h-1z"/>
<path fill="#00e400" d="M390 28h1v17h-1zM448 28h1v17h-1zM465 28h2v17h-2zM390 45h1v16h-1zM448 45h1v16h-1zM465 45h2v16h-2zM390 379h1v17h-1zM448 379h1v17h-1zM465 379h2v17h-2z"/>
<path fill="#00ea00" d="M391 28h2v17h-2zM391 45h2v16h-2zM391 379h2v17h-2z"/>
<path fill="#00ec00" d="M393 28h1v17h-1zM395 28h2v17h-2zM405 28h1v17h-1zM438 28h1v17h-1zM449 28h1v17h-1zM455 28h1v17h-1zM458 28h1v17h-1zM463 28h1v17h-1zM393 45h1v16h-1zM395 45h2v16h-2zM405 45h1v16h-1zM432 45h1v16h-1zM438 45h1v16h-1zM449 45h1v16h-1zM455 45h1v16h-1zM458 45h1v16h-1zM463 45h1v16h-1zM393 379h1v17h-1zM395 379h2v17h-2zM405 379h1v17h-1zM432 379h1v17h-1zM438 379h1v17h-1zM449 379h1v17h-1zM455 379h1v17h-1zM458 379h1v17h-1zM463 379h1v17h-1z"/>
<path fill="#00ef00" d="M394 28h1v17h-1zM397 28h4v17h-4zM406 28h2v17h-2zM416 28h1v17h-1zM419 28h1v17h-1zM439 28h1v17h-1zM445 28h1v17h-1zM452 28h1v17h-1zM454 28h1v17h-1zM459 28h2v17h-2zM394 45h1v16h-1zM397 45h4v16h-4zM406 45h2v16h-2zM416 45h1v16h-1zM419 45h1v16h-1zM439 45h1v16h-1zM445 45h1v16h-1zM452 45h1v16h-1zM454 45h1v16h-1zM459 45h2v16h-2zM394 379h1v17h-1zM397 379h4v17h-4zM406 379h2v17h-2zM416 379h1v17h-1zM419 379h1v17h-1zM439 379h1v17h-1zM445 379h1v17h-1zM452 379h1v17h-1zM454 379h1v17h-1zM459 379h2v17h-2z"/>
<path fill="#00f200" d="M401 28h1v17h-1zM404 28h1v17h-1zM408 28h1v17h-1zM428 28h1v17h-1zM431 28h1v17h-1zM433 28h2v17h-2zM450 28h2v17h-2zM453 28h1v17h-1zM462 28h1v17h-1zM401 45h1v16h-1zM404 45h1v16h-1zM408 45h1v16h-1zM428 45h1v16h-1zM431 45h1v16h-1zM433 45h2v16h-2zM450 45h2v16h-2zM453 45h1v16h-1zM462 45h1v16h-1zM401 379h1v17h-1zM404 379h1v17h-1zM408 379h1v17h-1zM428 379h1v17h-1zM431 379h1v17h-1zM433 379h2v17h-2zM450 379h2v17h-2zM453 379h1v17h-1zM462 379h1v17h-1z"/>
<path fill="#00f700" d="M402 28h1v17h-1zM415 28h1v17h-1zM421 28h2v17h-2zM425 28h2v17h-2zM429 28h2v17h-2zM435 28h1v17h-1zM437 28h1v17h-1zM441 28h3v17h-3zM402 45h1v16h-1zM415 45h1v16h-1zM421 45h2v16h-2zM425 45h2v16h-2zM429 45h2v16h-2zM435 45h1v16h-1zM437 45h1v16h-1zM441 45h3v16h-3zM402 379h1v17h-1zM415 379h1v17h-1zM421 379h2v17h-2zM425 379h2v17h-2zM429 379h2v17h-2zM435 379h1v17h-1zM437 379h1v17h-1zM441 379h3v17h-3z"/>
<path fill="#00fa00" d="M403 28h1v17h-1zM409 28h1v17h-1zM423 28h1v17h-1zM403 45h1v16h-1zM409 45h1v16h-1zM423 45h1v16h-1zM403 379h1v17h-1zM409 379h1v17h-1zM423 379h1v17h-1z"/>
<path fill="#00ff00" d="M410 28h1v17h-1zM410 45h1v16h-1zM410 379h1v17h-1z"/>
<path fill="#00fc00" d="M411 28h2v17h-2zM424 28h1v17h-1zM436 28h1v17h-1zM411 45h2v16h-2zM424 45h1v16h-1zM436 45h1v16h-1zM411 379h2v17h-2zM424 379h1v17h-1zM436 379h1v17h-1z"/>
<path fill="#1dff00" d="M413 28h2v17h-2zM413 45h2v16h-2zM413 379h2v17h-2z"/>
<path fill="#00f400" d="M417 28h2v17h-2zM420 28h1v17h-1zM427 28h1v17h-1zM444 28h1v17h-1zM461 28h1v17h-1zM417 45h2v16h-2zM420 45h1v16h-1zM427 45h1v16h-1zM444 45h1v16h-1zM461 45h1v16h-1zM417 379h2v17h-2zM420 379h1v17h-1zM427 379h1v17h-1zM444 379h1v17h-1zM461 379h1v17h-1z"/>
<path fill="#e4f100" d="M432 28h1v17h-1z"/>
<path fill="#49ff00" d="M440 28h1v17h-1z"/>
<path fill="#00e700" d="M446 28h1v17h-1zM456 28h2v17h-2zM464 28h1v17h-1zM446 45h1v16h-1zM456 45h2v16h-2zM464 45h1v16h-1zM446 379h1v17h-1zM456 379h2v17h-2zM464 379h1v17h-1z"/>
<path fill="#00e200" d="M447 28h1v17h-1zM467 28h1v17h-1zM469 28h2v17h-2zM447 45h1v16h-1zM467 45h1v16h-1zM469 45h2v16h-2zM447 379h1v17h-1zM467 379h1v17h-1zM469 379h2v17h-2z"/>
<path fill="#00df00" d="M468 28h1v17h-1zM471 28h4v17h-4zM468 45h1v16h-1zM471 45h4v16h-4zM468 379h1v17h-1zM471 379h4v17h-4z"/>
<path fill="#00d200" d="M475 28h1v17h-1zM478 28h1v17h-1zM475 45h1v16h-1zM478 45h1v16h-1zM475 379h1v17h-1zM478 379h1v17h-1z"/>
<path fill="#00cc00" d="M476 28h1v17h-1zM479 28h1v17h-1zM476 45h1v16h-1zM479 45h1v16h-1zM476 379h1v17h-1zM479 379h1v17h-1z"/>
<path fill="#00cf00" d="M477 28h1v17h-1zM477 45h1v16h-1zM477 379h1v17h-1z"/>
<path fill="#00c200" d="M481 28h1v17h-1zM481 45h1v16h-1zM481 379h1v17h-1z"/>
<path fill="#00b700" d="M482 28h1v17h-1zM482 45h1v16h-1zM482 379h1v17h-1z"/>
<path fill="#00b400" d="M483 28h3v17h-3zM483 45h3v16h-3zM483 379h3v17h-3z"/>
<path fill="#00ac00" d="M486 28h1v17h-1zM486 45h1v16h-1zM528 145h1v17h-1zM541 145h1v17h-1zM486 379h1v17h-1z"/>
<path fill="#00a200" d="M488 28h1v17h-1zM488 45h1v16h-1zM528 295h1v17h-1zM541 295h1v17h-1zM488 379h1v17h-1z"/>
<path fill="#009a08" d="M489 28h1v17h-1zM489 45h1v16h-1zM542 279h1v16h-1zM489 379h1v17h-1z"/>
<path fill="#009d1d" d="M490 28h1v17h-1zM490 45h1v16h-1zM542 78h1v17h-1zM542 162h1v16h-1zM490 379h1v17h-1z"/>
<path fill="#00a13d" d="M491 28h1v17h-1zM491 45h1v16h-1zM491 379h1v17h-1z"/>
<path fill="#00a55d" d="M492 28h1v17h-1zM492 45h1v16h-1zM528 111h1v17h-1zM541 111h1v17h-1zM527 279h1v16h-1zM528 329h1v17h-1zM541 329h1v17h-1zM492 379h1v17h-1z"/>
<path fill="#00a668" d="M493 28h1v17h-1zM493 45h1v16h-1zM532 95h2v16h-2zM532 145h2v17h-2zM542 195h1v17h-1zM527 295h1v17h-1zM493 379h1v17h-1z"/>
<path fill="#00a773" d="M494 28h1v17h-1zM494 45h1v16h-1zM527 78h1v17h-1zM534 145h1v17h-1zM527 162h1v16h-1zM532 212h2v16h-2zM532 245h2v17h-2zM532 262h2v17h-2zM532 279h2v16h-2zM494 379h1v17h-1z"/>
<path fill="#00aa88" d="M496 28h1v17h-1zM528 28h1v17h-1zM496 45h1v16h-1zM528 45h1v16h-1zM532 78h2v17h-2zM542 111h1v17h-1zM532 162h2v16h-2zM527 178h1v17h-1zM534 279h1v16h-1zM532 295h2v17h-2zM496 379h1v17h-1zM528 379h1v17h-1z"/>
<path fill="#00aa8d" d="M497 28h1v17h-1zM497 45h1v16h-1zM534 78h1v17h-1zM534 162h1v16h-1zM497 379h1v17h-1z"/>
<path fill="#00aa90" d="M498 28h2v17h-2zM498 45h2v16h-2zM532 178h2v17h-2zM498 379h2v17h-2z"/>
<path fill="#00aa93" d="M500 28h1v17h-1zM500 45h1v16h-1zM473 95h1v16h-1zM532 128h2v17h-2zM461 145h2v17h-2zM473 145h2v17h-2zM534 178h1v17h-1zM527 195h1v17h-1zM532 312h2v17h-2zM500 379h1v17h-1z"/>
<path fill="#00aa95" d="M501 28h1v17h-1zM542 28h2v17h-2zM501 45h1v16h-1zM542 45h2v16h-2zM461 95h2v16h-2zM474 95h1v16h-1zM538 95h1v16h-1zM534 128h1v17h-1zM463 145h1v17h-1zM469 145h4v17h-4zM538 145h1v17h-1zM473 212h1v16h-1zM473 245h1v17h-1zM473 262h1v17h-1zM441 295h1v17h-1zM534 312h1v17h-1zM501 379h1v17h-1zM542 379h2v17h-2z"/>
<path fill="#00aa9b" d="M502 28h1v17h-1zM504 28h1v17h-1zM502 45h1v16h-1zM504 45h1v16h-1zM460 95h1v16h-1zM464 95h4v16h-4zM478 95h1v16h-1zM527 111h1v17h-1zM459 145h1v17h-1zM465 145h1v17h-1zM468 145h1v17h-1zM532 195h2v17h-2zM460 212h1v16h-1zM463 212h2v16h-2zM466 212h1v16h-1zM469 212h4v16h-4zM460 245h1v17h-1zM463 245h2v17h-2zM466 245h1v17h-1zM469 245h4v17h-4zM460 262h1v17h-1zM463 262h2v17h-2zM466 262h1v17h-1zM469 262h4v17h-4zM462 279h1v16h-1zM472 279h1v16h-1zM474 279h1v16h-1zM502 379h1v17h-1zM504 379h1v17h-1z"/>
<path fill="#00aa9d" d="M503 28h1v17h-1zM505 28h1v17h-1zM541 28h1v17h-1zM544 28h1v17h-1zM503 45h1v16h-1zM505 45h1v16h-1zM541 45h1v16h-1zM544 45h1v16h-1zM538 78h1v17h-1zM459 95h1v16h-1zM468 95h1v16h-1zM458 145h1v17h-1zM475 145h1v17h-1zM477 145h1v17h-1zM538 162h1v16h-1zM534 195h1v17h-1zM465 212h1v16h-1zM467 212h2v16h-2zM478 212h1v16h-1zM465 245h1v17h-1zM467 245h2v17h-2zM478 245h1v17h-1zM465 262h1v17h-1zM467 262h2v17h-2zM478 262h1v17h-1zM460 279h1v16h-1zM463 279h2v16h-2zM466 279h1v16h-1zM469 279h3v16h-3zM461 295h2v17h-2zM473 295h2v17h-2zM538 295h1v17h-1zM429 329h1v17h-1zM527 329h1v17h-1zM503 379h1v17h-1zM505 379h1v17h-1zM541 379h1v17h-1zM544 379h1v17h-1z"/>
<path fill="#00aaa3" d="M506 28h1v17h-1zM532 28h1v17h-1zM506 45h1v16h-1zM532 45h1v16h-1zM440 78h1v17h-1zM463 78h1v17h-1zM469 78h4v17h-4zM476 95h1v16h-1zM479 95h1v16h-1zM532 111h2v17h-2zM453 145h3v17h-3zM476 145h1v17h-1zM480 145h1v17h-1zM531 145h1v17h-1zM463 162h1v16h-1zM469 162h4v16h-4zM538 178h1v17h-1zM458 212h1v16h-1zM458 245h1v17h-1zM458 262h1v17h-1zM475 279h1v16h-1zM477 279h1v16h-1zM460 295h1v17h-1zM464 295h1v17h-1zM466 295h2v17h-2zM469 295h1v17h-1zM471 295h1v17h-1zM532 329h2v17h-2zM506 379h1v17h-1zM532 379h1v17h-1z"/>
<path fill="#00aaa8" d="M507 28h1v17h-1zM507 45h1v16h-1zM459 78h1v17h-1zM465 78h1v17h-1zM468 78h1v17h-1zM478 78h1v17h-1zM452 95h1v16h-1zM456 95h1v16h-1zM451 145h1v17h-1zM481 145h1v17h-1zM459 162h1v16h-1zM465 162h1v16h-1zM468 162h1v16h-1zM478 162h1v16h-1zM453 212h1v16h-1zM455 212h1v16h-1zM457 212h1v16h-1zM480 212h1v16h-1zM453 245h1v17h-1zM455 245h1v17h-1zM457 245h1v17h-1zM480 245h1v17h-1zM453 262h1v17h-1zM455 262h1v17h-1zM457 262h1v17h-1zM480 262h1v17h-1zM454 279h1v16h-1zM476 279h1v16h-1zM531 279h1v16h-1zM458 295h1v17h-1zM475 295h1v17h-1zM477 295h1v17h-1zM534 329h1v17h-1zM507 379h1v17h-1z"/>
<path fill="#00aaab" d="M508 28h1v17h-1zM531 28h1v17h-1zM538 28h1v17h-1zM508 45h1v16h-1zM531 45h1v16h-1zM538 45h1v16h-1zM458 78h1v17h-1zM475 78h1v17h-1zM477 78h1v17h-1zM531 78h1v17h-1zM451 95h1v16h-1zM481 95h1v16h-1zM539 95h1v16h-1zM450 145h1v17h-1zM539 145h1v17h-1zM458 162h1v16h-1zM475 162h1v16h-1zM477 162h1v16h-1zM531 162h1v16h-1zM461 178h2v17h-2zM473 178h2v17h-2zM452 212h1v16h-1zM456 212h1v16h-1zM452 245h1v17h-1zM456 245h1v17h-1zM452 262h1v17h-1zM456 262h1v17h-1zM453 279h1v16h-1zM455 279h1v16h-1zM457 279h1v16h-1zM480 279h1v16h-1zM479 295h1v17h-1zM531 295h1v17h-1zM508 379h1v17h-1zM531 379h1v17h-1zM538 379h1v17h-1z"/>
<path fill="#00a8af" d="M509 28h1v17h-1zM509 45h1v16h-1zM479 78h1v17h-1zM450 95h1v16h-1zM461 128h1v17h-1zM473 128h1v17h-1zM479 162h1v16h-1zM460 178h1v17h-1zM463 178h1v17h-1zM466 178h1v17h-1zM469 178h4v17h-4zM538 195h1v17h-1zM451 212h1v16h-1zM481 212h1v16h-1zM539 212h1v16h-1zM451 245h1v17h-1zM481 245h1v17h-1zM539 245h1v17h-1zM451 262h1v17h-1zM481 262h1v17h-1zM539 262h1v17h-1zM452 279h1v16h-1zM456 279h1v16h-1zM539 279h1v16h-1zM453 295h2v17h-2zM476 295h1v17h-1zM461 312h1v17h-1zM473 312h1v17h-1zM509 379h1v17h-1z"/>
<path fill="#00a7b3" d="M510 28h1v17h-1zM533 28h1v17h-1zM537 28h1v17h-1zM510 45h1v16h-1zM533 45h1v16h-1zM537 45h1v16h-1zM453 78h3v17h-3zM476 78h1v17h-1zM480 78h1v17h-1zM462 128h1v17h-1zM472 128h1v17h-1zM474 128h1v17h-1zM449 145h1v17h-1zM453 162h3v16h-3zM476 162h1v16h-1zM480 162h1v16h-1zM459 178h1v17h-1zM464 178h2v17h-2zM467 178h2v17h-2zM478 178h1v17h-1zM531 178h1v17h-1zM450 212h1v16h-1zM450 245h1v17h-1zM450 262h1v17h-1zM451 279h1v16h-1zM481 279h1v16h-1zM455 295h3v17h-3zM480 295h1v17h-1zM539 295h1v17h-1zM462 312h1v17h-1zM472 312h1v17h-1zM474 312h1v17h-1zM510 379h1v17h-1zM533 379h1v17h-1zM537 379h1v17h-1z"/>
<path fill="#00a3bf" d="M511 28h1v17h-1zM539 28h1v17h-1zM511 45h1v16h-1zM539 45h1v16h-1zM450 78h1v17h-1zM443 95h3v16h-3zM458 128h1v17h-1zM475 128h1v17h-1zM477 128h1v17h-1zM442 145h1v17h-1zM445 145h1v17h-1zM486 145h1v17h-1zM450 162h1v16h-1zM454 178h1v17h-1zM476 178h1v17h-1zM539 178h1v17h-1zM483 212h3v16h-3zM483 245h3v17h-3zM483 262h3v17h-3zM482 279h1v16h-1zM535 295h1v17h-1zM429 312h1v17h-1zM458 312h1v17h-1zM475 312h1v17h-1zM477 312h1v17h-1zM538 329h1v17h-1zM511 379h1v17h-1zM539 379h1v17h-1z"/>
<path fill="#009fcb" d="M512 28h1v17h-1zM512 45h1v16h-1zM441 78h8v17h-8zM483 78h3v17h-3zM487 95h1v16h-1zM452 128h1v17h-1zM456 128h2v17h-2zM440 145h1v17h-1zM447 145h1v17h-1zM488 145h1v17h-1zM536 145h2v17h-2zM540 145h1v17h-1zM543 145h3v17h-3zM483 162h3v16h-3zM450 178h1v17h-1zM481 178h1v17h-1zM535 178h1v17h-1zM460 195h1v17h-1zM464 195h5v17h-5zM478 195h1v17h-1zM441 212h1v16h-1zM446 212h1v16h-1zM441 245h1v17h-1zM446 245h1v17h-1zM441 262h1v17h-1zM446 262h1v17h-1zM442 279h1v16h-1zM486 279h1v16h-1zM443 295h2v17h-2zM483 295h1v17h-1zM452 312h1v17h-1zM456 312h2v17h-2zM512 379h1v17h-1z"/>
<path fill="#009cd3" d="M513 28h3v17h-3zM513 45h3v16h-3zM486 78h1v17h-1zM546 95h1v16h-1zM461 111h1v17h-1zM473 111h1v17h-1zM450 128h1v17h-1zM442 162h1v16h-1zM448 162h1v16h-1zM486 162h1v16h-1zM449 178h1v17h-1zM458 195h1v17h-1zM479 195h1v17h-1zM440 212h1v16h-1zM488 212h1v16h-1zM546 212h1v16h-1zM440 245h1v17h-1zM488 245h1v17h-1zM546 245h1v17h-1zM440 262h1v17h-1zM488 262h1v17h-1zM546 262h1v17h-1zM440 279h1v16h-1zM447 279h1v16h-1zM446 295h1v17h-1zM536 295h2v17h-2zM540 295h1v17h-1zM543 295h3v17h-3zM450 312h1v17h-1zM513 379h3v17h-3z"/>
<path fill="#009adb" d="M516 28h3v17h-3zM516 45h3v16h-3zM487 78h1v17h-1zM546 78h1v17h-1zM437 95h1v16h-1zM439 95h1v16h-1zM489 95h1v16h-1zM460 111h1v17h-1zM464 111h1v17h-1zM466 111h2v17h-2zM469 111h1v17h-1zM471 111h1v17h-1zM449 128h1v17h-1zM482 128h1v17h-1zM437 145h1v17h-1zM439 145h1v17h-1zM440 162h1v16h-1zM447 162h1v16h-1zM487 162h1v16h-1zM546 162h1v16h-1zM442 178h4v17h-4zM453 195h1v17h-1zM455 195h3v17h-3zM480 195h1v17h-1zM436 212h1v16h-1zM489 212h1v16h-1zM436 245h1v17h-1zM489 245h1v17h-1zM436 262h1v17h-1zM489 262h1v17h-1zM447 295h1v17h-1zM488 295h1v17h-1zM546 295h1v17h-1zM449 312h1v17h-1zM482 312h1v17h-1zM462 329h2v17h-2zM469 329h2v17h-2zM472 329h1v17h-1zM474 329h1v17h-1zM539 329h1v17h-1zM516 379h3v17h-3z"/>
<path fill="#0098dd" d="M519 28h1v17h-1zM534 28h1v17h-1zM540 28h1v17h-1zM519 45h1v16h-1zM534 45h1v16h-1zM540 45h1v16h-1zM488 78h1v17h-1zM459 111h1v17h-1zM465 111h1v17h-1zM468 111h1v17h-1zM478 111h1v17h-1zM535 111h1v17h-1zM443 128h2v17h-2zM483 128h3v17h-3zM438 145h1v17h-1zM490 145h1v17h-1zM488 162h1v16h-1zM441 178h1v17h-1zM448 178h1v17h-1zM486 178h1v17h-1zM536 178h2v17h-2zM540 178h1v17h-1zM543 178h3v17h-3zM451 195h2v17h-2zM481 195h1v17h-1zM439 212h1v16h-1zM437 245h1v17h-1zM439 245h1v17h-1zM437 262h1v17h-1zM439 262h1v17h-1zM436 279h2v16h-2zM439 279h1v16h-1zM489 279h1v16h-1zM443 312h2v17h-2zM483 312h3v17h-3zM460 329h1v17h-1zM464 329h1v17h-1zM466 329h2v17h-2zM471 329h1v17h-1zM519 379h1v17h-1zM534 379h1v17h-1zM540 379h1v17h-1z"/>
<path fill="#0090dd" d="M520 28h3v17h-3zM520 45h3v16h-3zM438 78h1v17h-1zM491 95h1v16h-1zM453 111h1v17h-1zM455 111h1v17h-1zM457 111h1v17h-1zM480 111h1v17h-1zM440 128h1v17h-1zM487 128h1v17h-1zM530 145h1v17h-1zM438 162h1v16h-1zM436 178h1v17h-1zM488 178h1v17h-1zM449 195h1v17h-1zM482 195h1v17h-1zM536 195h2v17h-2zM540 195h1v17h-1zM543 195h3v17h-3zM435 295h1v17h-1zM438 295h1v17h-1zM490 295h1v17h-1zM440 312h1v17h-1zM487 312h1v17h-1zM454 329h1v17h-1zM476 329h1v17h-1zM520 379h3v17h-3z"/>
<path fill="#008ddd" d="M523 28h1v17h-1zM523 45h1v16h-1zM435 78h1v17h-1zM490 78h1v17h-1zM434 95h1v16h-1zM530 95h1v16h-1zM451 111h2v17h-2zM456 111h1v17h-1zM481 111h1v17h-1zM436 128h1v17h-1zM447 128h1v17h-1zM488 128h1v17h-1zM434 145h1v17h-1zM435 162h1v16h-1zM490 162h1v16h-1zM437 178h1v17h-1zM439 178h1v17h-1zM442 195h3v17h-3zM483 195h3v17h-3zM546 195h1v17h-1zM491 212h1v16h-1zM530 212h1v16h-1zM491 245h1v17h-1zM530 245h1v17h-1zM491 262h1v17h-1zM530 262h1v17h-1zM491 279h1v16h-1zM530 279h1v16h-1zM436 312h1v17h-1zM447 312h1v17h-1zM488 312h1v17h-1zM453 329h1v17h-1zM455 329h3v17h-3zM480 329h1v17h-1zM523 379h1v17h-1z"/>
<path fill="#0088dd" d="M524 28h1v17h-1zM524 45h1v16h-1zM434 78h1v17h-1zM491 78h1v17h-1zM530 78h1v17h-1zM430 95h1v16h-1zM546 111h1v17h-1zM439 128h1v17h-1zM489 128h1v17h-1zM430 145h1v17h-1zM434 162h1v16h-1zM491 162h1v16h-1zM530 162h1v16h-1zM435 178h1v17h-1zM438 178h1v17h-1zM490 178h1v17h-1zM440 195h1v17h-1zM446 195h1v17h-1zM448 195h1v17h-1zM430 212h1v16h-1zM433 212h1v16h-1zM430 245h1v17h-1zM433 245h1v17h-1zM430 262h1v17h-1zM433 262h1v17h-1zM433 279h1v16h-1zM434 295h1v17h-1zM439 312h1v17h-1zM489 312h1v17h-1zM450 329h1v17h-1zM536 329h2v17h-2zM540 329h1v17h-1zM543 329h3v17h-3zM524 379h1v17h-1z"/>
<path fill="#0082dd" d="M525 28h1v17h-1zM525 45h1v16h-1zM430 78h1v17h-1zM423 95h2v16h-2zM441 111h2v17h-2zM444 111h1v17h-1zM483 111h3v17h-3zM530 128h1v17h-1zM423 145h4v17h-4zM428 145h1v17h-1zM430 162h1v16h-1zM434 178h1v17h-1zM491 178h1v17h-1zM437 195h1v17h-1zM488 195h1v17h-1zM413 212h2v16h-2zM424 212h1v16h-1zM432 212h1v16h-1zM413 245h2v17h-2zM424 245h1v17h-1zM432 245h1v17h-1zM413 262h2v17h-2zM424 262h1v17h-1zM432 262h1v17h-1zM413 279h2v16h-2zM424 279h1v16h-1zM429 279h1v16h-1zM431 279h2v16h-2zM413 295h2v17h-2zM530 312h1v17h-1zM443 329h1v17h-1zM482 329h1v17h-1zM484 329h1v17h-1zM525 379h1v17h-1z"/>
<path fill="#0080dd" d="M526 28h1v17h-1zM526 45h1v16h-1zM413 78h2v17h-2zM424 78h1v17h-1zM429 78h1v17h-1zM431 78h2v17h-2zM402 95h4v16h-4zM411 95h2v16h-2zM425 95h4v16h-4zM440 111h1v17h-1zM445 111h1v17h-1zM448 111h1v17h-1zM486 111h1v17h-1zM434 128h1v17h-1zM491 128h1v17h-1zM410 145h3v17h-3zM427 145h1v17h-1zM492 145h1v17h-1zM413 162h2v16h-2zM424 162h1v16h-1zM429 162h1v16h-1zM431 162h2v16h-2zM430 178h1v17h-1zM433 178h1v17h-1zM435 195h1v17h-1zM439 195h1v17h-1zM489 195h1v17h-1zM423 212h1v16h-1zM425 212h4v16h-4zM423 245h1v17h-1zM425 245h4v17h-4zM423 262h1v17h-1zM425 262h4v17h-4zM423 279h1v16h-1zM425 279h4v16h-4zM423 295h2v17h-2zM431 295h2v17h-2zM434 312h1v17h-1zM491 312h1v17h-1zM442 329h1v17h-1zM444 329h2v17h-2zM483 329h1v17h-1zM485 329h1v17h-1zM526 379h1v17h-1z"/>
<path fill="#009f33" d="M527 28h1v17h-1zM527 45h1v16h-1zM542 178h1v17h-1zM528 195h1v17h-1zM541 195h1v17h-1zM527 379h1v17h-1z"/>
<path fill="#0092dd" d="M529 28h2v17h-2zM529 45h2v16h-2zM437 78h1v17h-1zM439 78h1v17h-1zM489 78h1v17h-1zM454 111h1v17h-1zM476 111h1v17h-1zM479 111h1v17h-1zM441 128h1v17h-1zM446 128h1v17h-1zM448 128h1v17h-1zM546 128h1v17h-1zM491 145h1v17h-1zM437 162h1v16h-1zM439 162h1v16h-1zM489 162h1v16h-1zM440 178h1v17h-1zM447 178h1v17h-1zM487 178h1v17h-1zM435 212h1v16h-1zM435 245h1v17h-1zM435 262h1v17h-1zM435 279h1v16h-1zM438 279h1v16h-1zM490 279h1v16h-1zM446 312h1v17h-1zM448 312h1v17h-1zM546 312h1v17h-1zM458 329h1v17h-1zM475 329h1v17h-1zM479 329h1v17h-1zM529 379h2v17h-2z"/>
<path fill="#0095dd" d="M535 28h2v17h-2zM535 45h2v16h-2zM436 78h1v17h-1zM435 95h1v16h-1zM438 95h1v16h-1zM490 95h1v16h-1zM458 111h1v17h-1zM475 111h1v17h-1zM477 111h1v17h-1zM442 128h1v17h-1zM445 128h1v17h-1zM486 128h1v17h-1zM536 128h2v17h-2zM540 128h1v17h-1zM543 128h3v17h-3zM435 145h1v17h-1zM436 162h1v16h-1zM446 178h1v17h-1zM546 178h1v17h-1zM450 195h1v17h-1zM438 212h1v16h-1zM490 212h1v16h-1zM438 245h1v17h-1zM490 245h1v17h-1zM438 262h1v17h-1zM490 262h1v17h-1zM436 295h2v17h-2zM439 295h1v17h-1zM489 295h1v17h-1zM442 312h1v17h-1zM445 312h1v17h-1zM486 312h1v17h-1zM536 312h2v17h-2zM540 312h1v17h-1zM543 312h3v17h-3zM459 329h1v17h-1zM465 329h1v17h-1zM468 329h1v17h-1zM477 329h2v17h-2zM535 329h1v17h-1zM535 379h2v17h-2z"/>
<path fill="#0078dd" d="M545 28h1v17h-1zM545 45h1v16h-1zM409 78h1v17h-1zM415 78h1v17h-1zM418 78h1v17h-1zM420 78h1v17h-1zM492 78h1v17h-1zM399 95h1v16h-1zM407 95h1v16h-1zM419 95h1v16h-1zM435 111h1v17h-1zM438 111h2v17h-2zM488 111h1v17h-1zM530 111h1v17h-1zM410 128h3v17h-3zM426 128h3v17h-3zM432 128h1v17h-1zM403 145h1v17h-1zM416 145h1v17h-1zM419 145h1v17h-1zM409 162h1v16h-1zM415 162h1v16h-1zM418 162h1v16h-1zM420 162h1v16h-1zM492 162h1v16h-1zM410 178h3v17h-3zM421 178h2v17h-2zM427 178h2v17h-2zM413 195h2v17h-2zM424 195h1v17h-1zM429 195h2v17h-2zM433 195h1v17h-1zM491 195h1v17h-1zM417 212h1v16h-1zM419 212h1v16h-1zM417 245h1v17h-1zM419 245h1v17h-1zM417 262h1v17h-1zM419 262h1v17h-1zM409 279h1v16h-1zM417 279h2v16h-2zM409 295h1v17h-1zM415 295h1v17h-1zM417 295h2v17h-2zM420 295h1v17h-1zM410 312h3v17h-3zM426 312h3v17h-3zM432 312h1v17h-1zM435 329h1v17h-1zM439 329h1v17h-1zM447 329h1v17h-1zM488 329h1v17h-1zM545 379h1v17h-1z"/>
<path fill="#0054dd" d="M546 28h2v17h-2zM546 45h2v16h-2zM405 78h2v17h-2zM389 95h1v16h-1zM409 111h1v17h-1zM415 111h1v17h-1zM418 111h1v17h-1zM420 111h1v17h-1zM432 111h1v17h-1zM402 128h1v17h-1zM408 128h1v17h-1zM401 145h1v17h-1zM405 162h2v16h-2zM402 178h1v17h-1zM404 178h1v17h-1zM406 178h2v17h-2zM403 195h1v17h-1zM419 195h1v17h-1zM401 212h1v16h-1zM493 212h1v16h-1zM401 245h1v17h-1zM493 245h1v17h-1zM401 262h1v17h-1zM493 262h1v17h-1zM401 279h1v16h-1zM493 279h1v16h-1zM405 295h1v17h-1zM402 312h1v17h-1zM408 312h1v17h-1zM415 329h1v17h-1zM420 329h3v17h-3zM428 329h1v17h-1zM431 329h2v17h-2zM546 379h2v17h-2z"/>
<path fill="#0d00a8" d="M549 28h1v17h-1zM549 45h1v16h-1zM508 78h3v17h-3zM510 95h1v16h-1zM506 111h1v17h-1zM389 128h1v17h-1zM507 128h3v17h-3zM508 162h3v16h-3zM389 178h1v17h-1zM507 178h4v17h-4zM506 195h2v17h-2zM510 212h1v16h-1zM510 245h1v17h-1zM510 262h1v17h-1zM510 279h1v16h-1zM509 295h2v17h-2zM389 312h1v17h-1zM507 312h3v17h-3zM506 329h1v17h-1zM549 379h1v17h-1z"/>
<path fill="#1800a7" d="M550 28h1v17h-1zM550 45h1v16h-1zM511 95h1v16h-1zM389 111h1v17h-1zM507 111h3v17h-3zM510 128h1v17h-1zM511 145h1v17h-1zM389 195h1v17h-1zM508 195h3v17h-3zM510 312h1v17h-1zM389 329h1v17h-1zM507 329h2v17h-2zM550 379h1v17h-1z"/>
<path fill="#2d00a4" d="M551 28h1v17h-1zM551 45h1v16h-1zM511 111h1v17h-1zM511 195h1v17h-1zM511 329h1v17h-1zM551 379h1v17h-1z"/>
<path fill="#3800a3" d="M552 28h1v17h-1zM552 45h1v16h-1zM512 78h1v17h-1zM512 95h1v16h-1zM512 145h1v17h-1zM512 162h1v16h-1zM512 178h1v17h-1zM512 212h1v16h-1zM512 245h1v17h-1zM512 262h1v17h-1zM512 279h1v16h-1zM512 295h1v17h-1zM552 379h1v17h-1z"/>
<path fill="#4d00a0" d="M553 28h1v17h-1zM553 45h1v16h-1zM515 78h1v17h-1zM515 95h1v16h-1zM513 111h2v17h-2zM514 128h2v17h-2zM515 145h1v17h-1zM515 162h1v16h-1zM514 178h2v17h-2zM513 195h2v17h-2zM515 212h1v16h-1zM515 245h1v17h-1zM515 262h1v17h-1zM515 279h1v16h-1zM515 295h1v17h-1zM514 312h2v17h-2zM513 329h2v17h-2zM553 379h1v17h-1z"/>
<path fill="#58009f" d="M554 28h1v17h-1zM554 45h1v16h-1zM516 78h1v17h-1zM516 95h1v16h-1zM515 111h1v17h-1zM516 128h1v17h-1zM516 145h1v17h-1zM516 162h1v16h-1zM516 178h1v17h-1zM515 195h1v17h-1zM516 212h1v16h-1zM516 245h1v17h-1zM516 262h1v17h-1zM516 279h1v16h-1zM516 295h1v17h-1zM516 312h1v17h-1zM515 329h1v17h-1zM554 379h1v17h-1z"/>
<path fill="#6d009c" d="M555 28h1v17h-1zM555 45h1v16h-1zM519 78h1v17h-1zM519 95h1v16h-1zM519 111h1v17h-1zM519 128h1v17h-1zM519 145h1v17h-1zM519 162h1v16h-1zM519 178h1v17h-1zM519 195h1v17h-1zM519 212h1v16h-1zM519 245h1v17h-1zM519 262h1v17h-1zM519 279h1v16h-1zM519 295h1v17h-1zM519 312h1v17h-1zM519 329h1v17h-1zM555 379h1v17h-1z"/>
<path fill="#78009b" d="M556 28h1v17h-1zM556 45h1v16h-1zM388 78h1v17h-1zM388 95h1v16h-1zM388 111h1v17h-1zM388 128h1v17h-1zM388 145h1v17h-1zM388 162h1v16h-1zM388 178h1v17h-1zM388 195h1v17h-1zM388 212h1v16h-1zM388 245h1v17h-1zM388 262h1v17h-1zM388 279h1v16h-1zM388 295h1v17h-1zM388 312h1v17h-1zM388 329h1v17h-1zM556 379h1v17h-1z"/>
<path fill="#870098" d="M557 28h1v17h-1zM557 45h1v16h-1zM521 78h4v17h-4zM521 95h4v16h-4zM521 111h4v17h-4zM521 128h4v17h-4zM521 145h4v17h-4zM521 162h4v16h-4zM521 178h4v17h-4zM521 195h4v17h-4zM521 212h4v16h-4zM521 245h4v17h-4zM521 262h4v17h-4zM521 279h4v16h-4zM521 295h4v17h-4zM521 312h4v17h-4zM521 329h4v17h-4zM557 379h1v17h-1z"/>
<path fill="#850096" d="M558 28h3v17h-3zM558 45h3v16h-3zM387 78h1v17h-1zM387 95h1v16h-1zM387 111h1v17h-1zM387 128h1v17h-1zM387 145h1v17h-1zM387 162h1v16h-1zM387 178h1v17h-1zM387 195h1v17h-1zM387 212h1v16h-1zM387 245h1v17h-1zM387 262h1v17h-1zM387 279h1v16h-1zM387 295h1v17h-1zM387 312h1v17h-1zM387 329h1v17h-1zM558 379h3v17h-3z"/>
<path fill="#830094" d="M561 28h4v17h-4zM561 45h4v16h-4zM561 379h4v17h-4z"/>
<path fill="#820093" d="M565 28h2v17h-2zM565 45h2v16h-2zM565 379h2v17h-2z"/>
<path fill="#810092" d="M567 28h2v17h-2zM567 45h2v16h-2zM386 78h1v17h-1zM386 95h1v16h-1zM386 111h1v17h-1zM386 128h1v17h-1zM386 145h1v17h-1zM386 162h1v16h-1zM386 178h1v17h-1zM386 195h1v17h-1zM386 212h1v16h-1zM386 245h1v17h-1zM386 262h1v17h-1zM386 279h1v16h-1zM386 295h1v17h-1zM386 312h1v17h-1zM386 329h1v17h-1zM567 379h2v17h-2z"/>
<path fill="#7f0090" d="M569 28h2v17h-2zM569 45h2v16h-2zM569 379h2v17h-2z"/>
<path fill="#7e008f" d="M571 28h1v17h-1zM571 45h1v16h-1zM571 379h1v17h-1z"/>
<path fill="#7d008e" d="M572 28h2v17h-2zM572 45h2v16h-2zM385 78h1v17h-1zM385 95h1v16h-1zM385 111h1v17h-1zM385 128h1v17h-1zM385 145h1v17h-1zM385 162h1v16h-1zM385 178h1v17h-1zM385 195h1v17h-1zM385 212h1v16h-1zM385 245h1v17h-1zM385 262h1v17h-1zM385 279h1v16h-1zM385 295h1v17h-1zM385 312h1v17h-1zM385 329h1v17h-1zM572 379h2v17h-2z"/>
<path fill="#7a008b" d="M575 28h1v17h-1zM575 45h1v16h-1zM575 379h1v17h-1z"/>
<path fill="#79008a" d="M576 28h1v17h-1zM576 45h1v16h-1zM576 379h1v17h-1z"/>
<path fill="#770088" d="M577 28h1v17h-1zM577 45h1v16h-1zM550 78h1v17h-1zM550 95h1v16h-1zM550 111h1v17h-1zM550 128h1v17h-1zM550 145h1v17h-1zM550 162h1v16h-1zM550 178h1v17h-1zM550 195h1v17h-1zM550 212h1v16h-1zM550 245h1v17h-1zM550 262h1v17h-1zM550 279h1v16h-1zM550 295h1v17h-1zM550 312h1v17h-1zM550 329h1v17h-1zM577 379h1v17h-1z"/>
<path fill="#700080" d="M578 28h1v17h-1zM578 45h1v16h-1zM384 78h1v17h-1zM551 78h1v17h-1zM384 95h1v16h-1zM551 95h1v16h-1zM384 111h1v17h-1zM551 111h1v17h-1zM384 128h1v17h-1zM551 128h1v17h-1zM384 145h1v17h-1zM551 145h1v17h-1zM384 162h1v16h-1zM551 162h1v16h-1zM384 178h1v17h-1zM551 178h1v17h-1zM384 195h1v17h-1zM551 195h1v17h-1zM384 212h1v16h-1zM551 212h1v16h-1zM397 228h2v17h-2zM413 228h2v17h-2zM384 245h1v17h-1zM551 245h1v17h-1zM384 262h1v17h-1zM551 262h1v17h-1zM329 279h1v16h-1zM384 279h1v16h-1zM551 279h1v16h-1zM329 295h1v17h-1zM384 295h1v17h-1zM551 295h1v17h-1zM329 312h1v17h-1zM384 312h1v17h-1zM551 312h1v17h-1zM329 329h1v17h-1zM384 329h1v17h-1zM551 329h1v17h-1zM329 346h1v16h-1zM329 362h1v17h-1zM329 379h1v17h-1zM578 379h1v17h-1z"/>
<path fill="#670075" d="M579 28h2v17h-2zM579 45h2v16h-2zM552 78h3v17h-3zM552 95h3v16h-3zM552 111h3v17h-3zM552 128h3v17h-3zM552 145h3v17h-3zM552 162h3v16h-3zM552 178h3v17h-3zM552 195h3v17h-3zM552 212h3v16h-3zM396 228h1v17h-1zM399 228h1v17h-1zM415 228h1v17h-1zM436 228h3v17h-3zM453 228h3v17h-3zM552 245h3v17h-3zM552 262h3v17h-3zM552 279h3v16h-3zM552 295h3v17h-3zM552 312h3v17h-3zM552 329h3v17h-3zM579 379h2v17h-2z"/>
<path fill="#5d006b" d="M581 28h1v17h-1zM581 45h1v16h-1zM555 78h2v17h-2zM555 95h2v16h-2zM555 111h2v17h-2zM555 128h2v17h-2zM555 145h2v17h-2zM555 162h2v16h-2zM555 178h2v17h-2zM555 195h2v17h-2zM555 212h2v16h-2zM389 228h3v17h-3zM395 228h1v17h-1zM412 228h1v17h-1zM416 228h1v17h-1zM420 228h3v17h-3zM429 228h4v17h-4zM435 228h1v17h-1zM439 228h1v17h-1zM452 228h1v17h-1zM456 228h1v17h-1zM470 228h2v17h-2zM477 228h2v17h-2zM493 228h3v17h-3zM555 245h2v17h-2zM555 262h2v17h-2zM555 279h2v16h-2zM555 295h2v17h-2zM555 312h2v17h-2zM555 329h2v17h-2zM581 379h1v17h-1z"/>
<path fill="#540060" d="M582 28h1v17h-1zM582 45h1v16h-1zM557 78h4v17h-4zM557 95h4v16h-4zM557 111h4v17h-4zM557 128h4v17h-4zM557 145h4v17h-4zM557 162h4v16h-4zM557 178h4v17h-4zM557 195h4v17h-4zM557 212h4v16h-4zM392 228h3v17h-3zM400 228h1v17h-1zM405 228h2v17h-2zM411 228h1v17h-1zM417 228h3v17h-3zM423 228h1v17h-1zM428 228h1v17h-1zM433 228h2v17h-2zM440 228h1v17h-1zM445 228h3v17h-3zM451 228h1v17h-1zM457 228h1v17h-1zM460 228h3v17h-3zM469 228h1v17h-1zM472 228h5v17h-5zM479 228h1v17h-1zM492 228h1v17h-1zM496 228h1v17h-1zM510 228h2v17h-2zM557 245h4v17h-4zM557 262h4v17h-4zM557 279h4v16h-4zM557 295h4v17h-4zM557 312h4v17h-4zM557 329h4v17h-4zM582 379h1v17h-1z"/>
<path fill="#4b0055" d="M583 28h1v17h-1zM583 45h1v16h-1zM561 78h5v17h-5zM561 95h5v16h-5zM561 111h5v17h-5zM561 128h5v17h-5zM561 145h5v17h-5zM561 162h5v16h-5zM561 178h5v17h-5zM561 195h5v17h-5zM561 212h5v16h-5zM401 228h1v17h-1zM403 228h2v17h-2zM407 228h2v17h-2zM444 228h1v17h-1zM448 228h1v17h-1zM450 228h1v17h-1zM458 228h2v17h-2zM463 228h1v17h-1zM468 228h1v17h-1zM480 228h1v17h-1zM485 228h4v17h-4zM491 228h1v17h-1zM497 228h1v17h-1zM501 228h3v17h-3zM509 228h1v17h-1zM512 228h2v17h-2zM516 228h4v17h-4zM561 245h5v17h-5zM561 262h5v17h-5zM561 279h5v16h-5zM561 295h5v17h-5zM561 312h5v17h-5zM561 329h5v17h-5zM583 379h1v17h-1z"/>
<path fill="#380040" d="M585 28h1v17h-1zM585 45h1v16h-1zM570 78h4v17h-4zM570 95h4v16h-4zM570 111h4v17h-4zM570 128h4v17h-4zM570 145h4v17h-4zM570 162h4v16h-4zM570 178h4v17h-4zM570 195h4v17h-4zM570 212h4v16h-4zM425 228h2v17h-2zM465 228h2v17h-2zM482 228h1v17h-1zM506 228h1v17h-1zM522 228h2v17h-2zM570 245h4v17h-4zM570 262h4v17h-4zM570 279h4v16h-4zM570 295h4v17h-4zM570 312h4v17h-4zM570 329h4v17h-4zM585 379h1v17h-1z"/>
<path fill="#2f0035" d="M586 28h1v17h-1zM586 45h1v16h-1zM574 78h3v17h-3zM574 95h3v16h-3zM588 95h1v16h-1zM574 111h3v17h-3zM574 128h3v17h-3zM574 145h3v17h-3zM574 162h3v16h-3zM574 178h3v17h-3zM574 195h3v17h-3zM574 212h3v16h-3zM383 228h6v17h-6zM527 228h22v17h-22zM574 245h3v17h-3zM574 262h3v17h-3zM574 279h3v16h-3zM574 295h3v17h-3zM574 312h3v17h-3zM574 329h3v17h-3zM586 379h1v17h-1z"/>
<path fill="#1c0020" d="M588 28h2v17h-2zM588 45h2v16h-2zM395 61h60v17h-60zM580 78h3v17h-3zM580 95h3v16h-3zM580 111h3v17h-3zM580 128h3v17h-3zM580 145h3v17h-3zM580 162h3v16h-3zM580 178h3v17h-3zM580 195h3v17h-3zM580 212h3v16h-3zM330 228h53v17h-53zM549 228h26v17h-26zM580 245h3v17h-3zM580 262h3v17h-3zM580 279h3v16h-3zM580 295h3v17h-3zM580 312h3v17h-3zM580 329h3v17h-3zM392 346h63v16h-63zM588 379h2v17h-2z"/>
<path fill="#dcf400" d="M440 45h1v16h-1zM440 379h1v17h-1z"/>
<path fill="#0300aa" d="M389 78h1v17h-1zM507 78h1v17h-1zM507 95h3v16h-3zM505 111h1v17h-1zM506 128h1v17h-1zM389 145h1v17h-1zM508 145h3v17h-3zM389 162h1v16h-1zM507 162h1v16h-1zM506 178h1v17h-1zM389 212h1v16h-1zM507 212h3v16h-3zM389 245h1v17h-1zM507 245h3v17h-3zM389 262h1v17h-1zM507 262h3v17h-3zM389 279h1v16h-1zM507 279h3v16h-3zM389 295h1v17h-1zM507 295h2v17h-2zM506 312h1v17h-1zM505 329h1v17h-1z"/>
<path fill="#0000cd" d="M390 78h1v17h-1zM501 95h1v16h-1zM500 128h1v17h-1zM501 145h1v17h-1zM390 162h1v16h-1zM500 178h1v17h-1zM391 195h1v17h-1zM498 195h2v17h-2zM501 212h1v16h-1zM501 245h1v17h-1zM501 262h1v17h-1zM390 279h1v16h-1zM501 279h1v16h-1zM390 295h1v17h-1zM500 312h1v17h-1z"/>
<path fill="#0000d9" d="M391 78h1v17h-1zM498 95h2v16h-2zM392 128h5v17h-5zM497 128h1v17h-1zM499 145h1v17h-1zM391 162h1v16h-1zM392 178h2v17h-2zM395 178h2v17h-2zM497 178h1v17h-1zM397 195h1v17h-1zM496 195h1v17h-1zM391 212h1v16h-1zM498 212h2v16h-2zM391 245h1v17h-1zM498 245h2v17h-2zM391 262h1v17h-1zM498 262h2v17h-2zM391 279h1v16h-1zM498 279h1v16h-1zM391 295h1v17h-1zM498 295h1v17h-1zM392 312h5v17h-5zM497 312h1v17h-1zM547 329h1v17h-1z"/>
<path fill="#0000dd" d="M392 78h2v17h-2zM395 78h2v17h-2zM497 78h1v17h-1zM398 111h1v17h-1zM547 111h1v17h-1zM397 128h1v17h-1zM496 128h1v17h-1zM391 145h1v17h-1zM498 145h1v17h-1zM392 162h2v16h-2zM395 162h2v16h-2zM497 162h1v16h-1zM394 178h1v17h-1zM397 178h1v17h-1zM495 195h1v17h-1zM529 195h1v17h-1zM548 195h1v17h-1zM392 295h2v17h-2zM395 295h2v17h-2zM497 295h1v17h-1zM397 312h1v17h-1zM496 312h1v17h-1zM398 329h1v17h-1zM494 329h1v17h-1zM549 329h1v17h-1z"/>
<path fill="#0009dd" d="M394 78h1v17h-1zM397 78h1v17h-1zM496 78h1v17h-1zM497 95h1v16h-1zM494 111h1v17h-1zM549 111h1v17h-1zM495 128h1v17h-1zM392 145h2v17h-2zM395 145h2v17h-2zM497 145h1v17h-1zM394 162h1v16h-1zM397 162h1v16h-1zM496 162h1v16h-1zM495 178h2v17h-2zM398 195h1v17h-1zM547 195h1v17h-1zM392 212h5v16h-5zM497 212h1v16h-1zM392 245h5v17h-5zM497 245h1v17h-1zM392 262h5v17h-5zM497 262h1v17h-1zM392 279h5v16h-5zM497 279h1v16h-1zM394 295h1v17h-1zM397 295h1v17h-1zM495 312h1v17h-1z"/>
<path fill="#0025dd" d="M398 78h1v17h-1zM529 78h1v17h-1zM548 78h1v17h-1zM495 95h1v16h-1zM401 111h1v17h-1zM494 128h1v17h-1zM549 128h1v17h-1zM495 145h1v17h-1zM398 162h1v16h-1zM529 162h1v16h-1zM548 162h1v16h-1zM494 178h1v17h-1zM547 178h1v17h-1zM399 195h2v17h-2zM493 195h1v17h-1zM398 212h1v16h-1zM398 245h1v17h-1zM398 262h1v17h-1zM398 279h1v16h-1zM398 295h1v17h-1zM529 295h1v17h-1zM548 295h1v17h-1zM494 312h1v17h-1zM549 312h1v17h-1zM401 329h1v17h-1z"/>
<path fill="#0038dd" d="M399 78h1v17h-1zM494 78h1v17h-1zM549 78h1v17h-1zM392 95h3v16h-3zM402 111h1v17h-1zM404 111h1v17h-1zM406 111h2v17h-2zM492 111h1v17h-1zM493 128h1v17h-1zM399 162h1v16h-1zM494 162h1v16h-1zM549 162h1v16h-1zM400 178h1v17h-1zM493 178h1v17h-1zM405 195h1v17h-1zM547 212h1v16h-1zM547 245h1v17h-1zM547 262h1v17h-1zM494 279h1v16h-1zM547 279h1v16h-1zM399 295h1v17h-1zM494 295h1v17h-1zM493 312h1v17h-1zM402 329h1v17h-1zM404 329h1v17h-1zM407 329h1v17h-1zM492 329h1v17h-1z"/>
<path fill="#004bdd" d="M401 78h1v17h-1zM493 78h1v17h-1zM390 95h1v16h-1zM396 95h1v16h-1zM549 95h1v16h-1zM403 111h1v17h-1zM417 111h1v17h-1zM419 111h1v17h-1zM404 128h1v17h-1zM406 128h2v17h-2zM400 145h1v17h-1zM549 145h1v17h-1zM401 162h1v16h-1zM493 162h1v16h-1zM405 178h1v17h-1zM402 195h1v17h-1zM408 195h1v17h-1zM416 195h1v17h-1zM492 195h1v17h-1zM400 212h1v16h-1zM549 212h1v16h-1zM400 245h1v17h-1zM549 245h1v17h-1zM400 262h1v17h-1zM549 262h1v17h-1zM401 295h1v17h-1zM493 295h1v17h-1zM404 312h1v17h-1zM406 312h2v17h-2zM409 329h1v17h-1zM417 329h2v17h-2z"/>
<path fill="#005ddd" d="M402 78h1v17h-1zM404 78h1v17h-1zM407 78h1v17h-1zM397 95h1v16h-1zM493 95h1v16h-1zM410 111h3v17h-3zM421 111h2v17h-2zM426 111h3v17h-3zM431 111h1v17h-1zM403 128h1v17h-1zM416 128h1v17h-1zM419 128h1v17h-1zM405 145h1v17h-1zM493 145h1v17h-1zM402 162h1v16h-1zM404 162h1v16h-1zM407 162h1v16h-1zM408 178h1v17h-1zM416 178h1v17h-1zM409 195h1v17h-1zM415 195h1v17h-1zM417 195h2v17h-2zM420 195h1v17h-1zM405 212h2v16h-2zM405 245h2v17h-2zM405 262h2v17h-2zM405 279h2v16h-2zM402 295h1v17h-1zM404 295h1v17h-1zM406 295h2v17h-2zM403 312h1v17h-1zM416 312h1v17h-1zM419 312h1v17h-1zM410 329h3v17h-3zM426 329h2v17h-2zM433 329h1v17h-1zM491 329h1v17h-1z"/>
<path fill="#0070dd" d="M403 78h1v17h-1zM417 78h1v17h-1zM419 78h1v17h-1zM408 95h1v16h-1zM416 95h1v16h-1zM413 111h2v17h-2zM424 111h1v17h-1zM489 111h2v17h-2zM415 128h1v17h-1zM421 128h2v17h-2zM402 145h1v17h-1zM408 145h1v17h-1zM403 162h1v16h-1zM417 162h1v16h-1zM419 162h1v16h-1zM409 178h1v17h-1zM415 178h1v17h-1zM418 178h1v17h-1zM420 178h1v17h-1zM412 195h1v17h-1zM423 195h1v17h-1zM425 195h2v17h-2zM431 195h1v17h-1zM403 212h1v16h-1zM408 212h1v16h-1zM416 212h1v16h-1zM403 245h1v17h-1zM408 245h1v17h-1zM416 245h1v17h-1zM403 262h1v17h-1zM408 262h1v17h-1zM416 262h1v17h-1zM403 279h1v16h-1zM408 279h1v16h-1zM416 279h1v16h-1zM419 279h1v16h-1zM403 295h1v17h-1zM419 295h1v17h-1zM415 312h1v17h-1zM421 312h2v17h-2zM413 329h2v17h-2zM438 329h1v17h-1zM489 329h1v17h-1zM530 329h1v17h-1z"/>
<path fill="#0067dd" d="M408 78h1v17h-1zM416 78h1v17h-1zM398 95h1v16h-1zM423 111h1v17h-1zM425 111h1v17h-1zM429 111h2v17h-2zM433 111h2v17h-2zM491 111h1v17h-1zM409 128h1v17h-1zM417 128h2v17h-2zM420 128h1v17h-1zM492 128h1v17h-1zM404 145h1v17h-1zM406 145h2v17h-2zM408 162h1v16h-1zM416 162h1v16h-1zM403 178h1v17h-1zM417 178h1v17h-1zM419 178h1v17h-1zM492 178h1v17h-1zM410 195h2v17h-2zM421 195h2v17h-2zM427 195h2v17h-2zM432 195h1v17h-1zM402 212h1v16h-1zM404 212h1v16h-1zM407 212h1v16h-1zM402 245h1v17h-1zM404 245h1v17h-1zM407 245h1v17h-1zM402 262h1v17h-1zM404 262h1v17h-1zM407 262h1v17h-1zM402 279h1v16h-1zM404 279h1v16h-1zM407 279h1v16h-1zM408 295h1v17h-1zM416 295h1v17h-1zM409 312h1v17h-1zM417 312h2v17h-2zM420 312h1v17h-1zM492 312h1v17h-1zM423 329h3v17h-3zM430 329h1v17h-1zM434 329h1v17h-1zM490 329h1v17h-1z"/>
<path fill="#007add" d="M410 78h3v17h-3zM421 78h2v17h-2zM400 95h1v16h-1zM409 95h1v16h-1zM415 95h1v16h-1zM417 95h2v16h-2zM420 95h1v16h-1zM437 111h1v17h-1zM447 111h1v17h-1zM487 111h1v17h-1zM423 128h3v17h-3zM429 128h1v17h-1zM431 128h1v17h-1zM409 145h1v17h-1zM417 145h2v17h-2zM420 145h1v17h-1zM410 162h3v16h-3zM421 162h2v16h-2zM423 178h1v17h-1zM425 178h2v17h-2zM431 178h2v17h-2zM434 195h1v17h-1zM409 212h1v16h-1zM415 212h1v16h-1zM418 212h1v16h-1zM420 212h1v16h-1zM409 245h1v17h-1zM415 245h1v17h-1zM418 245h1v17h-1zM420 245h1v17h-1zM409 262h1v17h-1zM415 262h1v17h-1zM418 262h1v17h-1zM420 262h1v17h-1zM415 279h1v16h-1zM420 279h2v16h-2zM410 295h1v17h-1zM421 295h2v17h-2zM492 295h1v17h-1zM423 312h3v17h-3zM431 312h1v17h-1zM437 329h1v17h-1zM446 329h1v17h-1zM487 329h1v17h-1z"/>
<path fill="#007ddd" d="M423 78h1v17h-1zM425 78h4v17h-4zM401 95h1v16h-1zM406 95h1v16h-1zM410 95h1v16h-1zM421 95h2v16h-2zM492 95h1v16h-1zM436 111h1v17h-1zM446 111h1v17h-1zM413 128h2v17h-2zM430 128h1v17h-1zM433 128h1v17h-1zM415 145h1v17h-1zM421 145h2v17h-2zM423 162h1v16h-1zM425 162h4v16h-4zM413 178h2v17h-2zM424 178h1v17h-1zM429 178h1v17h-1zM438 195h1v17h-1zM490 195h1v17h-1zM530 195h1v17h-1zM410 212h3v16h-3zM421 212h2v16h-2zM492 212h1v16h-1zM410 245h3v17h-3zM421 245h2v17h-2zM492 245h1v17h-1zM410 262h3v17h-3zM421 262h2v17h-2zM492 262h1v17h-1zM410 279h3v16h-3zM422 279h1v16h-1zM492 279h1v16h-1zM411 295h2v17h-2zM425 295h4v17h-4zM413 312h2v17h-2zM430 312h1v17h-1zM433 312h1v17h-1zM436 329h1v17h-1zM440 329h1v17h-1zM448 329h1v17h-1zM486 329h1v17h-1z"/>
<path fill="#0085dd" d="M433 78h1v17h-1zM413 95h2v16h-2zM429 95h1v16h-1zM431 95h2v16h-2zM443 111h1v17h-1zM449 111h1v17h-1zM482 111h1v17h-1zM435 128h1v17h-1zM438 128h1v17h-1zM490 128h1v17h-1zM413 145h2v17h-2zM429 145h1v17h-1zM431 145h2v17h-2zM433 162h1v16h-1zM530 178h1v17h-1zM436 195h1v17h-1zM447 195h1v17h-1zM487 195h1v17h-1zM429 212h1v16h-1zM431 212h1v16h-1zM429 245h1v17h-1zM431 245h1v17h-1zM429 262h1v17h-1zM431 262h1v17h-1zM430 279h1v16h-1zM430 295h1v17h-1zM433 295h1v17h-1zM435 312h1v17h-1zM438 312h1v17h-1zM490 312h1v17h-1zM449 329h1v17h-1zM546 329h1v17h-1z"/>
<path fill="#00a0c7" d="M449 78h1v17h-1zM482 78h1v17h-1zM453 128h3v17h-3zM476 128h1v17h-1zM480 128h1v17h-1zM441 145h1v17h-1zM487 145h1v17h-1zM449 162h1v16h-1zM482 162h1v16h-1zM451 178h2v17h-2zM456 178h1v17h-1zM463 195h1v17h-1zM469 195h4v17h-4zM442 212h1v16h-1zM448 212h1v16h-1zM486 212h1v16h-1zM442 245h1v17h-1zM448 245h1v17h-1zM486 245h1v17h-1zM442 262h1v17h-1zM486 262h1v17h-1zM444 279h2v16h-2zM482 295h1v17h-1zM484 295h2v17h-2zM453 312h3v17h-3zM476 312h1v17h-1zM480 312h1v17h-1z"/>
<path fill="#00a6b7" d="M452 78h1v17h-1zM456 78h2v17h-2zM539 78h1v17h-1zM449 95h1v16h-1zM482 95h1v16h-1zM535 95h1v16h-1zM460 128h1v17h-1zM463 128h2v17h-2zM466 128h1v17h-1zM469 128h3v17h-3zM482 145h1v17h-1zM484 145h1v17h-1zM535 145h1v17h-1zM452 162h1v16h-1zM456 162h2v16h-2zM539 162h1v16h-1zM475 178h1v17h-1zM477 178h1v17h-1zM450 279h1v16h-1zM451 295h2v17h-2zM481 295h1v17h-1zM460 312h1v17h-1zM463 312h2v17h-2zM466 312h1v17h-1zM469 312h3v17h-3z"/>
<path fill="#00aaa5" d="M460 78h1v17h-1zM464 78h1v17h-1zM466 78h2v17h-2zM453 95h3v16h-3zM457 95h1v16h-1zM480 95h1v16h-1zM531 95h1v16h-1zM534 111h1v17h-1zM538 128h1v17h-1zM452 145h1v17h-1zM456 145h2v17h-2zM460 162h1v16h-1zM464 162h1v16h-1zM466 162h2v16h-2zM454 212h1v16h-1zM476 212h1v16h-1zM479 212h1v16h-1zM531 212h1v16h-1zM454 245h1v17h-1zM476 245h1v17h-1zM479 245h1v17h-1zM531 245h1v17h-1zM454 262h1v17h-1zM476 262h1v17h-1zM479 262h1v17h-1zM531 262h1v17h-1zM458 279h1v16h-1zM479 279h1v16h-1zM459 295h1v17h-1zM465 295h1v17h-1zM468 295h1v17h-1zM478 295h1v17h-1zM538 312h1v17h-1z"/>
<path fill="#00aaa0" d="M461 78h2v17h-2zM473 78h2v17h-2zM458 95h1v16h-1zM475 95h1v16h-1zM477 95h1v16h-1zM479 145h1v17h-1zM461 162h2v16h-2zM473 162h2v16h-2zM459 212h1v16h-1zM475 212h1v16h-1zM477 212h1v16h-1zM459 245h1v17h-1zM475 245h1v17h-1zM477 245h1v17h-1zM459 262h1v17h-1zM475 262h1v17h-1zM477 262h1v17h-1zM459 279h1v16h-1zM465 279h1v16h-1zM467 279h2v16h-2zM478 279h1v16h-1zM463 295h1v17h-1zM470 295h1v17h-1zM472 295h1v17h-1z"/>
<path fill="#0013dd" d="M495 78h1v17h-1zM496 95h1v16h-1zM399 111h1v17h-1zM493 111h1v17h-1zM398 128h1v17h-1zM529 128h1v17h-1zM548 128h1v17h-1zM394 145h1v17h-1zM397 145h1v17h-1zM495 162h1v16h-1zM529 178h1v17h-1zM548 178h1v17h-1zM494 195h1v17h-1zM549 195h1v17h-1zM397 212h1v16h-1zM496 212h1v16h-1zM397 245h1v17h-1zM496 245h1v17h-1zM397 262h1v17h-1zM496 262h1v17h-1zM397 279h1v16h-1zM496 279h1v16h-1zM496 295h1v17h-1zM398 312h1v17h-1zM529 312h1v17h-1zM548 312h1v17h-1zM399 329h1v17h-1zM493 329h1v17h-1z"/>
<path fill="#0000d5" d="M498 78h2v17h-2zM500 95h1v16h-1zM397 111h1v17h-1zM495 111h2v17h-2zM529 111h1v17h-1zM548 111h1v17h-1zM500 145h1v17h-1zM498 162h2v16h-2zM391 178h1v17h-1zM498 178h1v17h-1zM392 195h5v17h-5zM497 195h1v17h-1zM500 212h1v16h-1zM500 245h1v17h-1zM500 262h1v17h-1zM499 279h2v16h-2zM499 295h1v17h-1zM495 329h2v17h-2zM529 329h1v17h-1zM548 329h1v17h-1z"/>
<path fill="#0000d1" d="M500 78h1v17h-1zM392 111h5v17h-5zM497 111h1v17h-1zM391 128h1v17h-1zM498 128h2v17h-2zM390 145h1v17h-1zM500 162h1v16h-1zM499 178h1v17h-1zM390 212h1v16h-1zM390 245h1v17h-1zM390 262h1v17h-1zM500 295h1v17h-1zM391 312h1v17h-1zM498 312h2v17h-2zM392 329h6v17h-6zM497 329h1v17h-1z"/>
<path fill="#0000c9" d="M501 78h1v17h-1zM391 111h1v17h-1zM498 111h2v17h-2zM390 128h1v17h-1zM501 162h1v16h-1zM390 178h1v17h-1zM500 195h1v17h-1zM501 295h1v17h-1zM390 312h1v17h-1zM391 329h1v17h-1zM498 329h2v17h-2z"/>
<path fill="#0000c1" d="M502 78h1v17h-1zM390 111h1v17h-1zM502 162h1v16h-1zM501 195h1v17h-1zM502 279h1v16h-1zM502 295h1v17h-1zM390 329h1v17h-1z"/>
<path fill="#0000b9" d="M503 78h2v17h-2zM503 162h2v16h-2zM503 178h1v17h-1zM502 195h1v17h-1zM504 212h1v16h-1zM504 245h1v17h-1zM504 262h1v17h-1zM504 279h1v16h-1zM503 295h2v17h-2z"/>
<path fill="#0000b1" d="M505 78h1v17h-1zM503 111h1v17h-1zM505 162h1v16h-1zM505 178h1v17h-1zM503 195h2v17h-2zM505 295h1v17h-1z"/>
<path fill="#0000ad" d="M506 78h1v17h-1zM506 95h1v16h-1zM504 111h1v17h-1zM505 128h1v17h-1zM506 145h2v17h-2zM506 162h1v16h-1zM505 195h1v17h-1zM506 212h1v16h-1zM506 245h1v17h-1zM506 262h1v17h-1zM506 279h1v16h-1zM506 295h1v17h-1zM505 312h1v17h-1zM503 329h2v17h-2z"/>
<path fill="#2300a6" d="M511 78h1v17h-1zM510 111h1v17h-1zM511 128h1v17h-1zM511 162h1v16h-1zM511 178h1v17h-1zM511 212h1v16h-1zM511 245h1v17h-1zM511 262h1v17h-1zM511 279h1v16h-1zM511 295h1v17h-1zM511 312h1v17h-1zM509 329h2v17h-2z"/>
<path fill="#4300a2" d="M513 78h2v17h-2zM513 95h2v16h-2zM512 111h1v17h-1zM512 128h2v17h-2zM513 145h2v17h-2zM513 162h2v16h-2zM513 178h1v17h-1zM512 195h1v17h-1zM513 212h2v16h-2zM513 245h2v17h-2zM513 262h2v17h-2zM513 279h2v16h-2zM513 295h2v17h-2zM512 312h2v17h-2zM512 329h1v17h-1z"/>
<path fill="#83009a" d="M520 78h1v17h-1zM520 95h1v16h-1zM520 111h1v17h-1zM520 128h1v17h-1zM520 145h1v17h-1zM520 162h1v16h-1zM520 178h1v17h-1zM520 195h1v17h-1zM520 212h1v16h-1zM520 245h1v17h-1zM520 262h1v17h-1zM520 279h1v16h-1zM520 295h1v17h-1zM520 312h1v17h-1zM520 329h1v17h-1z"/>
<path fill="#860097" d="M525 78h2v17h-2zM525 95h2v16h-2zM525 111h2v17h-2zM525 128h2v17h-2zM525 145h2v17h-2zM525 162h2v16h-2zM525 178h2v17h-2zM525 195h2v17h-2zM525 212h2v16h-2zM525 245h2v17h-2zM525 262h2v17h-2zM525 279h2v16h-2zM525 295h2v17h-2zM525 312h2v17h-2zM525 329h2v17h-2z"/>
<path fill="#009f00" d="M528 78h1v17h-1zM541 78h1v17h-1zM528 162h1v16h-1zM541 162h1v16h-1z"/>
<path fill="#00a2c3" d="M535 78h1v17h-1zM441 95h2v16h-2zM446 95h3v16h-3zM486 95h1v16h-1zM479 128h1v17h-1zM539 128h1v17h-1zM446 145h1v17h-1zM448 145h1v17h-1zM535 162h1v16h-1zM453 178h1v17h-1zM455 178h1v17h-1zM457 178h1v17h-1zM480 178h1v17h-1zM461 195h2v17h-2zM473 195h2v17h-2zM531 195h1v17h-1zM443 212h3v16h-3zM443 245h3v17h-3zM443 262h3v17h-3zM443 279h1v16h-1zM483 279h3v16h-3zM449 295h1v17h-1zM479 312h1v17h-1zM539 312h1v17h-1z"/>
<path fill="#009bd7" d="M536 78h2v17h-2zM540 78h1v17h-1zM543 78h3v17h-3zM436 95h1v16h-1zM462 111h2v17h-2zM470 111h1v17h-1zM472 111h1v17h-1zM474 111h1v17h-1zM539 111h1v17h-1zM436 145h1v17h-1zM489 145h1v17h-1zM441 162h1v16h-1zM446 162h1v16h-1zM536 162h2v16h-2zM540 162h1v16h-1zM543 162h3v16h-3zM482 178h4v17h-4zM454 195h1v17h-1zM476 195h1v17h-1zM535 195h1v17h-1zM488 279h1v16h-1zM546 279h1v16h-1zM440 295h1v17h-1zM487 295h1v17h-1zM461 329h1v17h-1zM473 329h1v17h-1z"/>
<path fill="#002fdd" d="M547 78h1v17h-1zM529 95h1v16h-1zM548 95h1v16h-1zM405 111h1v17h-1zM399 128h2v17h-2zM398 145h1v17h-1zM529 145h1v17h-1zM548 145h1v17h-1zM547 162h1v16h-1zM399 178h1v17h-1zM549 178h1v17h-1zM401 195h1v17h-1zM529 212h1v16h-1zM548 212h1v16h-1zM529 245h1v17h-1zM548 245h1v17h-1zM529 262h1v17h-1zM548 262h1v17h-1zM529 279h1v16h-1zM548 279h1v16h-1zM547 295h1v17h-1zM399 312h2v17h-2zM405 329h2v17h-2z"/>
<path fill="#009ecf" d="M440 95h1v16h-1zM488 95h1v16h-1zM536 95h2v16h-2zM540 95h1v16h-1zM543 95h3v16h-3zM531 111h1v17h-1zM451 128h1v17h-1zM481 128h1v17h-1zM535 128h1v17h-1zM546 145h1v17h-1zM443 162h3v16h-3zM459 195h1v17h-1zM475 195h1v17h-1zM477 195h1v17h-1zM539 195h1v17h-1zM447 212h1v16h-1zM487 212h1v16h-1zM536 212h2v16h-2zM540 212h1v16h-1zM543 212h3v16h-3zM447 245h1v17h-1zM487 245h1v17h-1zM536 245h2v17h-2zM540 245h1v17h-1zM543 245h3v17h-3zM447 262h1v17h-1zM487 262h1v17h-1zM536 262h2v17h-2zM540 262h1v17h-1zM543 262h3v17h-3zM441 279h1v16h-1zM446 279h1v16h-1zM487 279h1v16h-1zM536 279h2v16h-2zM540 279h1v16h-1zM543 279h3v16h-3zM442 295h1v17h-1zM445 295h1v17h-1zM448 295h1v17h-1zM486 295h1v17h-1zM451 312h1v17h-1zM481 312h1v17h-1zM535 312h1v17h-1zM531 329h1v17h-1z"/>
<path fill="#00aa98" d="M463 95h1v16h-1zM469 95h4v16h-4zM460 145h1v17h-1zM464 145h1v17h-1zM466 145h2v17h-2zM478 145h1v17h-1zM461 212h2v16h-2zM474 212h1v16h-1zM538 212h1v16h-1zM461 245h2v17h-2zM474 245h1v17h-1zM538 245h1v17h-1zM461 262h2v17h-2zM474 262h1v17h-1zM538 262h1v17h-1zM461 279h1v16h-1zM473 279h1v16h-1zM538 279h1v16h-1z"/>
<path fill="#0000c5" d="M502 95h1v16h-1zM500 111h1v17h-1zM501 128h1v17h-1zM502 145h1v17h-1zM501 178h1v17h-1zM390 195h1v17h-1zM502 212h1v16h-1zM502 245h1v17h-1zM502 262h1v17h-1zM501 312h1v17h-1zM500 329h1v17h-1z"/>
<path fill="#0000b5" d="M505 95h1v16h-1zM502 111h1v17h-1zM503 128h2v17h-2zM505 145h1v17h-1zM504 178h1v17h-1zM505 212h1v16h-1zM505 245h1v17h-1zM505 262h1v17h-1zM505 279h1v16h-1zM503 312h2v17h-2zM502 329h1v17h-1z"/>
<path fill="#00a353" d="M527 95h1v16h-1zM527 212h1v16h-1zM527 245h1v17h-1zM448 262h1v17h-1zM527 262h1v17h-1zM448 279h1v16h-1z"/>
<path fill="#00aa00" d="M528 95h1v16h-1zM541 95h1v16h-1z"/>
<path fill="#009c00" d="M542 95h1v16h-1zM542 145h1v17h-1z"/>
<path fill="#001cdd" d="M400 111h1v17h-1zM547 128h1v17h-1zM496 145h1v17h-1zM398 178h1v17h-1zM495 212h1v16h-1zM495 245h1v17h-1zM495 262h1v17h-1zM495 279h1v16h-1zM495 295h1v17h-1zM547 312h1v17h-1zM400 329h1v17h-1z"/>
<path fill="#00aa8b" d="M527 128h1v17h-1zM534 295h1v17h-1zM527 312h1v17h-1zM542 329h1v17h-1z"/>
<path fill="#009b13" d="M528 128h1v17h-1zM541 128h1v17h-1zM542 295h1v17h-1zM528 312h1v17h-1zM541 312h1v17h-1z"/>
<path fill="#00a248" d="M542 128h1v17h-1zM527 145h1v17h-1zM542 312h1v17h-1z"/>
<path fill="#009a00" d="M528 178h1v17h-1zM541 178h1v17h-1zM542 212h1v16h-1zM542 245h1v17h-1zM542 262h1v17h-1z"/>
<path fill="#c4fc00" d="M437 212h1v16h-1z"/>
</g>
<g font-size="13.89" fill="#000"><text x="32.3" y="42.16" text-anchor="end">On</text><text x="611.6" y="42.16">On</text><text x="32.3" y="58.89" text-anchor="end">Y</text><text x="611.6" y="58.89">Y</text><text x="32.3" y="75.62" text-anchor="end">Off</text><text x="611.6" y="75.62">Off</text><text x="32.3" y="92.35" text-anchor="end">P</text><text x="611.6" y="92.35">P</text><text x="32.3" y="109.07" text-anchor="end">** O</text><text x="611.6" y="109.07">O</text><text x="32.3" y="125.80" text-anchor="end">N</text><text x="611.6" y="125.80">N</text><text x="32.3" y="142.53" text-anchor="end">M</text><text x="611.6" y="142.53">M</text><text x="32.3" y="159.25" text-anchor="end">L</text><text x="611.6" y="159.25">L</text><text x="32.3" y="175.98" text-anchor="end">K</text><text x="611.6" y="175.98">K</text><text x="32.3" y="192.71" text-anchor="end">J</text><text x="611.6" y="192.71">J</text><text x="32.3" y="209.44" text-anchor="end">I</text><text x="611.6" y="209.44">I</text><text x="32.3" y="226.16" text-anchor="end">H</text><text x="611.6" y="226.16">H</text><text x="32.3" y="242.89" text-anchor="end">G</text><text x="611.6" y="242.89">G **</text><text x="32.3" y="259.62" text-anchor="end">F</text><text x="611.6" y="259.62">F</text><text x="32.3" y="276.35" text-anchor="end">E</text><text x="611.6" y="276.35">E</text><text x="32.3" y="293.07" text-anchor="end">D</text><text x="611.6" y="293.07">D</text><text x="32.3" y="309.80" text-anchor="end">C</text><text x="611.6" y="309.80">C</text><text x="32.3" y="326.53" text-anchor="end">B</text><text x="611.6" y="326.53">B</text><text x="32.3" y="343.25" text-anchor="end">A</text><text x="611.6" y="343.25">A</text><text x="32.3" y="359.98" text-anchor="end">Off</text><text x="611.6" y="359.98">Off</text><text x="32.3" y="376.71" text-anchor="end">X</text><text x="611.6" y="376.71">X</text><text x="32.3" y="393.44" text-anchor="end">On</text><text x="611.6" y="393.44">On</text></g>
<g font-size="13.89" fill="#fff"><text x="38.6" y="47.20" text-anchor="end">25</text><text x="38.6" y="95.20" text-anchor="end">20</text><text x="38.6" y="143.20" text-anchor="end">15</text><text x="38.6" y="191.20" text-anchor="end">10</text><text x="38.6" y="239.20" text-anchor="end">5</text><text x="38.6" y="287.20" text-anchor="end">0</text></g>
<g font-size="16.67" fill="#000" text-anchor="middle"><text x="181.9" y="15.8">8.2 (LBB2=2010) X</text><text x="461.8" y="15.8">8.2 (LBB2=2010) Y</text></g>
<g font-size="10" fill="#000"><path d="M49.46 408.2v5.5" stroke="#000" stroke-width="1.15" fill="none"/><text transform="translate(49.56 426.1) scale(.94 1.07)" text-anchor="middle">0</text><path d="M90.06 408.2v5.5" stroke="#000" stroke-width="1.15" fill="none"/><text transform="translate(90.16 426.1) scale(.94 1.07)" text-anchor="middle">50</text><path d="M130.66 408.2v5.5" stroke="#000" stroke-width="1.15" fill="none"/><text transform="translate(130.76 426.1) scale(.94 1.07)" text-anchor="middle">100</text><path d="M171.26 408.2v5.5" stroke="#000" stroke-width="1.15" fill="none"/><text transform="translate(171.36 426.1) scale(.94 1.07)" text-anchor="middle">150</text><path d="M211.86 408.2v5.5" stroke="#000" stroke-width="1.15" fill="none"/><text transform="translate(211.96 426.1) scale(.94 1.07)" text-anchor="middle">200</text><path d="M252.47 408.2v5.5" stroke="#000" stroke-width="1.15" fill="none"/><text transform="translate(252.57 426.1) scale(.94 1.07)" text-anchor="middle">250</text><path d="M293.07 408.2v5.5" stroke="#000" stroke-width="1.15" fill="none"/><text transform="translate(293.17 426.1) scale(.94 1.07)" text-anchor="middle">300</text><path d="M329.31 408.2v5.5" stroke="#000" stroke-width="1.15" fill="none"/><text transform="translate(329.41 426.1) scale(.94 1.07)" text-anchor="middle">0</text><path d="M369.92 408.2v5.5" stroke="#000" stroke-width="1.15" fill="none"/><text transform="translate(370.02 426.1) scale(.94 1.07)" text-anchor="middle">50</text><path d="M410.53 408.2v5.5" stroke="#000" stroke-width="1.15" fill="none"/><text transform="translate(410.63 426.1) scale(.94 1.07)" text-anchor="middle">100</text><path d="M451.14 408.2v5.5" stroke="#000" stroke-width="1.15" fill="none"/><text transform="translate(451.24 426.1) scale(.94 1.07)" text-anchor="middle">150</text><path d="M491.75 408.2v5.5" stroke="#000" stroke-width="1.15" fill="none"/><text transform="translate(491.85 426.1) scale(.94 1.07)" text-anchor="middle">200</text><path d="M532.35 408.2v5.5" stroke="#000" stroke-width="1.15" fill="none"/><text transform="translate(532.45 426.1) scale(.94 1.07)" text-anchor="middle">250</text><path d="M572.96 408.2v5.5" stroke="#000" stroke-width="1.15" fill="none"/><text transform="translate(573.06 426.1) scale(.94 1.07)" text-anchor="middle">300</text></g>
<g font-size="13.89" fill="#fff"><path d="M69.25 43.50h5.3" stroke="#fff" stroke-width="1.15" fill="none"/><text x="79.30" y="49.10">25</text><path d="M69.25 91.50h5.3" stroke="#fff" stroke-width="1.15" fill="none"/><text x="79.30" y="97.10">20</text><path d="M69.25 139.50h5.3" stroke="#fff" stroke-width="1.15" fill="none"/><text x="79.30" y="145.10">15</text><path d="M69.25 187.50h5.3" stroke="#fff" stroke-width="1.15" fill="none"/><text x="79.30" y="193.10">10</text><path d="M69.25 235.50h5.3" stroke="#fff" stroke-width="1.15" fill="none"/><text x="79.30" y="241.10">5</text><path d="M69.25 283.50h5.3" stroke="#fff" stroke-width="1.15" fill="none"/><text x="79.30" y="289.10">0</text><path d="M349.70 43.50h5.3" stroke="#fff" stroke-width="1.15" fill="none"/><text x="359.20" y="49.10">25</text><path d="M349.70 91.50h5.3" stroke="#fff" stroke-width="1.15" fill="none"/><text x="359.20" y="97.10">20</text><path d="M349.70 139.50h5.3" stroke="#fff" stroke-width="1.15" fill="none"/><text x="359.20" y="145.10">15</text><path d="M349.70 187.50h5.3" stroke="#fff" stroke-width="1.15" fill="none"/><text x="359.20" y="193.10">10</text><path d="M349.70 235.50h5.3" stroke="#fff" stroke-width="1.15" fill="none"/><text x="359.20" y="241.10">5</text><path d="M349.70 283.50h5.3" stroke="#fff" stroke-width="1.15" fill="none"/><text x="359.20" y="289.10">0</text><text x="319.3" y="49.10" text-anchor="end" clip-path="url(#c1)">25</text><text x="319.3" y="97.10" text-anchor="end" clip-path="url(#c1)">20</text><text x="319.3" y="145.10" text-anchor="end" clip-path="url(#c1)">15</text><text x="319.3" y="193.10" text-anchor="end" clip-path="url(#c1)">10</text><text x="319.3" y="241.10" text-anchor="end" clip-path="url(#c1)">5</text><text x="319.3" y="289.10" text-anchor="end" clip-path="url(#c1)">0</text></g>
<g clip-path="url(#c1)"><polyline points="49.0,283.4 50.5,283.4 52.0,283.4 53.5,283.4 55.0,283.4 56.5,283.4 58.0,283.4 59.5,283.4 61.0,283.4 62.5,283.4 64.0,283.4 65.5,283.4 67.0,283.4 68.5,283.4 70.0,283.4 71.5,283.4 73.0,283.4 74.5,283.4 76.0,283.4 77.5,283.4 79.0,283.4 80.5,283.4 82.0,283.4 83.5,283.4 85.0,283.4 86.5,283.4 88.0,283.4 89.5,283.4 91.0,283.4 92.5,283.4 94.0,283.4 95.5,283.4 97.0,283.4 98.5,283.4 100.0,283.4 101.5,282.6 103.0,279.9 104.5,276.2 106.0,272.0 107.5,267.4 109.0,262.4 110.5,257.4 112.0,253.2 113.5,250.4 115.0,248.0 116.5,247.7 118.0,245.9 119.5,244.9 121.0,243.5 122.5,244.6 124.0,244.2 125.5,243.5 127.0,242.1 128.5,241.1 130.0,243.4 131.5,243.9 133.0,244.4 134.5,243.5 136.0,245.1 137.5,245.3 139.0,245.8 140.5,244.6 142.0,244.9 143.5,245.6 145.0,245.7 146.5,245.4 148.0,244.0 149.5,244.6 151.0,244.2 152.5,244.6 154.0,242.8 155.5,241.9 157.0,241.5 158.5,241.3 160.0,240.4 161.5,237.9 163.0,237.2 164.5,236.1 166.0,235.7 167.5,232.7 169.0,231.0 170.5,229.3 172.0,228.9 173.5,227.4 175.0,225.0 176.5,223.7 178.0,223.9 179.5,226.0 181.0,224.2 182.5,222.8 184.0,220.8 185.5,220.7 187.0,221.5 188.5,221.9 190.0,222.2 191.5,223.5 193.0,226.1 194.5,226.2 196.0,227.4 197.5,227.8 199.0,231.4 200.5,233.7 202.0,235.7 203.5,236.8 205.0,238.8 206.5,241.6 208.0,243.1 209.5,244.7 211.0,245.1 212.5,247.9 214.0,249.8 215.5,252.2 217.0,252.8 218.5,254.3 220.0,256.6 221.5,258.3 223.0,259.5 224.5,259.2 226.0,261.1 227.5,262.1 229.0,264.1 230.5,263.7 232.0,264.4 233.5,265.3 235.0,266.8 236.5,267.7 238.0,267.1 239.5,268.2 241.0,268.9 242.5,270.8 244.0,270.2 245.5,270.6 246.5,265.2 247.2,196.0 248.2,198.0 249.0,240.2 250.2,222.9 251.4,213.3 252.3,235.4 253.6,258.4 255.0,274.8 256.4,262.3 257.5,199.9 258.3,198.4 259.1,235.4 259.9,250.8 260.7,235.4 261.4,199.9 262.2,198.9 263.2,254.6 264.0,271.8 265.5,259.3 266.5,251.1 267.8,250.1 268.6,263.1 269.6,276.0 272.0,277.4 278.0,278.8 284.0,279.9 290.0,281.1 296.0,282.3 301.0,283.2 305.0,283.6 315.0,283.4" fill="none" stroke="#fff" stroke-width="2.70" stroke-linejoin="round" stroke-linecap="butt"/><polyline points="49.0,283.4 50.5,283.4 52.0,283.4 53.5,283.4 55.0,283.4 56.5,283.4 58.0,283.4 59.5,283.4 61.0,283.4 62.5,283.4 64.0,283.4 65.5,283.4 67.0,283.4 68.5,283.4 70.0,283.4 71.5,283.4 73.0,283.4 74.5,283.4 76.0,283.4 77.5,283.4 79.0,283.4 80.5,283.4 82.0,283.4 83.5,283.4 85.0,283.4 86.5,283.4 88.0,283.4 89.5,283.4 91.0,283.4 92.5,283.4 94.0,283.4 95.5,283.4 97.0,283.4 98.5,283.4 100.0,283.4 101.5,282.5 103.0,279.7 104.5,275.8 106.0,271.4 107.5,266.6 109.0,261.4 110.5,256.2 112.0,251.8 113.5,248.9 115.0,247.0 116.5,245.8 118.0,243.3 119.5,243.3 121.0,243.0 122.5,243.2 124.0,242.0 125.5,240.9 127.0,241.2 128.5,240.2 130.0,241.9 131.5,241.2 133.0,242.4 134.5,242.7 136.0,244.1 137.5,243.4 139.0,242.9 140.5,243.3 142.0,244.0 143.5,244.6 145.0,243.1 146.5,243.2 148.0,242.9 149.5,243.9 151.0,242.7 152.5,241.8 154.0,241.0 155.5,240.9 157.0,240.8 158.5,239.0 160.0,238.0 161.5,236.3 163.0,236.7 164.5,235.0 166.0,233.3 167.5,230.7 169.0,229.8 170.5,229.1 172.0,227.1 173.5,225.3 175.0,223.1 176.5,223.3 178.0,223.1 179.5,224.0 181.0,222.0 182.5,221.4 184.0,220.6 185.5,219.4 187.0,219.5 188.5,219.6 190.0,221.6 191.5,222.9 193.0,224.6 194.5,223.9 196.0,225.7 197.5,227.4 199.0,230.4 200.5,231.9 202.0,233.2 203.5,236.0 205.0,238.4 206.5,240.8 208.0,241.0 209.5,243.0 211.0,244.8 212.5,247.8 214.0,248.9 215.5,250.1 217.0,252.0 218.5,254.1 220.0,256.6 221.5,256.7 223.0,257.9 224.5,258.7 226.0,261.3 227.5,261.7 229.0,262.3 230.5,262.7 232.0,264.2 233.5,265.8 235.0,265.7 236.5,266.3 238.0,266.3 239.5,268.6 241.0,268.9 242.5,269.5 244.0,269.0 245.5,270.2 246.6,265.2 247.3,198.7 248.3,200.5 249.1,240.2 250.3,224.7 251.5,215.4 252.4,235.4 253.6,258.4 255.0,274.8 256.4,262.3 257.6,202.4 258.4,201.0 259.2,235.4 259.9,250.8 260.7,235.4 261.5,202.4 262.3,201.5 263.2,254.6 264.0,271.4 265.5,258.9 266.5,250.8 267.8,249.8 268.6,262.8 269.6,275.7 272.0,277.1 278.0,278.5 284.0,279.7 290.0,281.0 296.0,282.2 301.0,283.1 305.0,283.5 315.0,283.4" fill="none" stroke="#fff" stroke-width="2.70" stroke-linejoin="round" stroke-linecap="butt"/><polyline points="49.0,283.4 50.5,283.4 52.0,283.4 53.5,283.4 55.0,283.4 56.5,283.4 58.0,283.4 59.5,283.4 61.0,283.4 62.5,283.4 64.0,283.4 65.5,283.4 67.0,283.4 68.5,283.4 70.0,283.4 71.5,283.4 73.0,283.4 74.5,283.4 76.0,283.4 77.5,283.4 79.0,283.4 80.5,283.4 82.0,283.4 83.5,283.4 85.0,283.4 86.5,283.4 88.0,283.4 89.5,283.4 91.0,283.4 92.5,283.4 94.0,283.4 95.5,283.4 97.0,283.4 98.5,283.4 100.0,283.4 101.5,282.5 103.0,279.4 104.5,275.3 106.0,270.8 107.5,265.8 109.0,260.4 110.5,255.1 112.0,250.5 113.5,247.3 115.0,244.7 116.5,243.2 118.0,242.3 119.5,242.4 121.0,241.8 122.5,240.4 124.0,240.1 125.5,239.8 127.0,240.6 128.5,238.2 130.0,239.3 131.5,239.7 133.0,241.6 134.5,241.8 136.0,241.5 137.5,241.3 139.0,241.5 140.5,242.9 142.0,242.2 143.5,242.1 145.0,241.0 146.5,242.3 147.9,242.2 148.9,139.4 149.9,241.3 151.0,240.3 152.5,239.9 154.0,240.7 154.7,240.1 155.6,183.6 156.5,238.9 157.0,238.6 158.5,236.5 160.0,236.9 160.5,236.5 161.4,170.1 162.3,235.4 163.0,235.0 164.5,232.6 166.0,231.1 167.5,230.3 169.0,228.9 170.5,227.4 172.0,224.6 173.5,224.1 175.0,222.7 176.5,222.3 178.0,221.0 179.5,221.7 181.0,221.4 182.5,220.8 184.0,219.4 185.5,216.8 187.0,218.0 188.5,218.9 190.0,221.0 191.5,221.0 193.0,222.1 194.5,222.7 196.0,225.1 197.5,226.6 199.0,227.9 200.5,230.1 202.0,232.3 203.5,235.8 205.0,237.0 206.5,238.6 208.0,239.6 209.5,242.7 211.0,244.7 212.5,246.0 214.0,247.3 215.5,249.1 217.0,252.4 218.5,253.5 220.0,255.0 221.5,255.3 223.0,257.7 224.5,259.0 226.0,260.2 227.5,260.3 229.0,261.1 230.5,263.2 232.0,264.0 233.5,264.8 235.0,264.1 236.5,265.9 238.0,266.8 239.5,268.2 241.0,267.7 242.5,268.1 244.0,269.4 245.5,270.4 246.7,265.2 247.4,201.3 248.4,203.1 249.2,240.2 250.4,226.5 251.6,217.5 252.5,235.4 253.6,258.4 255.0,274.8 256.4,262.3 257.7,204.9 258.5,203.5 259.3,235.4 259.9,250.8 260.7,235.4 261.6,204.9 262.4,204.0 263.2,254.6 264.0,271.1 265.5,258.6 266.5,250.4 267.8,249.5 268.6,262.4 269.6,275.4 272.0,276.8 278.0,278.2 284.0,279.5 290.0,280.8 296.0,282.0 301.0,283.0 305.0,283.4 315.0,283.4" fill="none" stroke="#fff" stroke-width="2.70" stroke-linejoin="round" stroke-linecap="butt"/><polyline points="49.0,283.4 50.5,283.4 52.0,283.4 53.5,283.4 55.0,283.4 56.5,283.4 58.0,283.4 59.5,283.4 61.0,283.4 62.5,283.4 64.0,283.4 65.5,283.4 67.0,283.4 68.5,283.4 70.0,283.4 71.5,283.4 73.0,283.4 74.5,283.4 76.0,283.4 77.5,283.4 79.0,283.4 80.5,283.4 82.0,283.4 83.5,283.4 85.0,283.4 86.5,283.4 88.0,283.4 89.5,283.4 91.0,283.4 92.5,283.4 94.0,283.4 95.5,283.4 97.0,283.4 98.5,283.4 100.0,283.4 101.5,282.4 103.0,279.2 104.5,274.9 106.0,270.1 107.5,265.0 109.0,259.4 110.5,253.9 112.0,249.1 113.5,245.8 115.0,242.7 116.5,242.0 118.0,241.8 119.5,240.3 121.0,239.4 122.5,238.4 124.0,239.6 125.5,238.7 127.0,238.3 128.5,235.8 130.0,237.8 131.5,239.3 133.0,239.9 134.5,239.5 136.0,239.1 137.5,240.6 139.0,240.6 140.5,241.1 142.0,239.6 143.5,240.2 145.0,240.5 146.5,241.0 148.0,240.1 149.5,238.9 151.0,239.3 152.5,239.1 154.0,239.3 155.5,236.9 157.0,236.5 158.5,235.7 160.0,236.0 161.5,234.1 163.0,232.2 164.5,231.3 166.0,230.3 167.5,229.5 169.0,226.6 170.5,225.3 172.0,223.6 173.5,223.6 175.0,221.5 176.5,219.7 178.0,219.4 179.5,220.8 181.0,221.1 182.5,218.7 184.0,217.2 185.5,215.2 187.0,217.6 188.5,218.0 190.0,218.7 191.5,219.0 193.0,220.9 194.5,222.6 196.0,223.4 197.5,224.5 199.0,225.9 200.5,229.7 202.0,231.7 203.5,234.1 205.0,234.9 206.5,237.3 208.0,239.8 209.5,241.8 211.0,243.2 212.5,244.1 214.0,247.1 215.5,249.1 217.0,251.6 218.5,251.7 220.0,253.8 221.5,255.5 223.0,257.5 224.5,258.0 226.0,258.3 227.5,259.9 229.0,261.2 230.5,263.1 232.0,262.4 233.5,263.4 235.0,264.1 236.5,266.1 238.0,266.4 239.5,266.4 241.0,267.1 242.5,268.2 244.0,269.9 245.5,269.2 246.7,265.2 247.4,203.9 248.4,205.6 249.2,240.2 250.4,228.4 251.6,219.6 252.5,235.4 253.6,258.4 255.0,274.8 256.4,262.3 257.7,207.4 258.5,206.1 259.3,235.4 259.9,250.8 260.7,235.4 261.6,207.4 262.4,206.5 263.2,254.6 264.0,270.7 265.5,258.3 266.5,250.1 267.8,249.2 268.6,262.1 269.6,275.1 272.0,276.5 278.0,278.0 284.0,279.3 290.0,280.6 296.0,281.9 301.0,282.9 305.0,283.4 315.0,283.4" fill="none" stroke="#fff" stroke-width="2.70" stroke-linejoin="round" stroke-linecap="butt"/><polyline points="49.0,283.4 50.5,283.4 52.0,283.4 53.5,283.4 55.0,283.4 56.5,283.4 58.0,283.4 59.5,283.4 61.0,283.4 62.5,283.4 64.0,283.4 65.5,283.4 67.0,283.4 68.5,283.4 70.0,283.4 71.5,283.4 73.0,283.4 74.5,283.4 76.0,283.4 77.5,283.4 79.0,283.4 80.5,283.4 82.0,283.4 83.5,283.4 85.0,283.4 86.5,283.4 88.0,283.4 89.5,283.4 91.0,283.4 92.5,283.4 94.0,283.4 95.5,283.4 97.0,283.4 98.5,283.4 100.0,283.4 101.5,282.3 103.0,278.9 104.5,274.5 106.0,269.5 107.5,264.2 109.0,258.4 110.5,252.7 112.0,247.8 113.5,244.2 115.0,242.2 116.5,240.8 118.0,239.8 119.5,237.6 121.0,238.1 122.5,237.8 124.0,238.2 125.5,236.3 127.0,235.8 128.5,235.0 130.0,236.8 131.5,237.7 133.0,237.0 134.5,237.9 136.0,238.2 137.5,239.6 139.0,238.4 140.5,238.4 142.0,238.4 143.5,239.4 145.0,239.3 146.5,238.2 148.0,238.2 149.5,237.8 151.0,238.7 152.5,237.2 154.0,236.6 155.5,235.2 157.0,235.6 158.5,234.9 160.0,233.4 161.5,231.8 163.0,230.7 164.5,231.0 166.0,228.9 167.5,227.2 169.0,224.6 170.5,224.5 172.0,223.2 173.5,221.7 175.0,219.4 176.5,218.0 178.0,219.2 179.5,219.8 181.0,219.1 182.5,216.4 184.0,216.2 185.5,214.9 187.0,216.2 188.5,215.9 190.0,216.6 191.5,218.6 193.0,220.1 194.5,221.1 196.0,220.9 197.5,223.1 199.0,225.5 200.5,228.8 202.0,229.8 203.5,231.8 205.0,234.3 206.5,236.9 208.0,239.0 209.5,239.6 211.0,241.9 212.5,243.8 214.0,247.1 215.5,247.9 217.0,249.7 218.5,251.0 220.0,253.7 221.5,255.5 223.0,255.7 224.5,256.8 226.0,257.8 227.5,260.3 229.0,260.5 230.5,261.4 232.0,261.4 233.5,263.4 235.0,264.5 236.5,264.9 238.0,265.1 239.5,265.6 241.0,267.8 242.5,268.0 244.0,268.6 245.5,268.0 246.8,265.2 247.5,206.5 248.5,208.2 249.3,240.2 250.5,230.2 251.7,221.7 252.6,235.4 253.6,258.4 255.0,274.8 256.4,262.3 257.8,209.9 258.6,208.6 259.4,235.4 259.9,250.8 260.7,235.4 261.7,209.9 262.5,209.1 263.2,254.6 264.0,270.4 265.5,257.9 266.5,249.8 267.8,248.8 268.6,261.8 269.6,274.8 272.0,276.2 278.0,277.7 284.0,279.1 290.0,280.5 296.0,281.8 301.0,282.8 305.0,283.3 315.0,283.4" fill="none" stroke="#fff" stroke-width="2.70" stroke-linejoin="round" stroke-linecap="butt"/><polyline points="49.0,283.4 50.5,283.4 52.0,283.4 53.5,283.4 55.0,283.4 56.5,283.4 58.0,283.4 59.5,283.4 61.0,283.4 62.5,283.4 64.0,283.4 65.5,283.4 67.0,283.4 68.5,283.4 70.0,283.4 71.5,283.4 73.0,283.4 74.5,283.4 76.0,283.4 77.5,283.4 79.0,283.4 80.5,283.4 82.0,283.4 83.5,283.4 85.0,283.4 86.5,283.4 88.0,283.4 89.5,283.4 91.0,283.4 92.5,283.4 94.0,283.4 95.5,283.4 97.0,283.4 98.5,283.4 100.0,283.4 101.5,282.3 103.0,278.7 104.5,274.0 106.0,268.9 107.5,263.4 109.0,257.4 110.5,251.5 112.0,246.4 113.5,242.7 115.0,241.2 116.5,238.2 118.0,237.6 119.5,236.5 121.0,237.3 122.5,236.2 124.0,235.4 125.5,234.6 127.0,234.8 128.5,234.4 130.0,234.5 131.5,235.3 133.0,235.4 134.5,237.3 136.0,237.0 137.5,237.0 139.0,236.3 140.5,237.1 142.0,238.0 143.5,237.4 145.0,236.9 146.5,236.1 147.8,237.3 148.8,133.6 149.8,236.7 151.0,236.5 152.5,234.7 154.0,235.0 154.5,234.9 155.5,176.8 156.5,234.3 157.0,234.0 158.5,232.6 160.0,230.9 160.2,230.9 161.2,165.3 162.2,230.5 163.0,229.9 164.5,229.3 166.0,226.4 166.6,226.0 167.5,204.7 168.4,224.7 169.0,224.2 170.5,223.5 172.0,221.5 173.5,219.1 175.0,218.4 176.5,217.4 178.0,218.2 179.5,217.4 181.0,217.1 182.5,215.8 184.0,215.6 185.5,213.5 187.0,213.5 188.5,214.6 190.0,215.9 191.5,218.0 193.0,218.0 194.5,218.9 196.0,219.8 197.5,222.7 199.0,224.4 200.5,226.3 202.0,228.1 203.5,230.9 205.0,234.2 206.5,235.3 208.0,237.0 209.5,238.3 211.0,241.8 212.5,243.5 214.0,245.4 215.5,246.4 217.0,248.9 218.5,251.5 220.0,252.8 221.5,254.0 223.0,254.2 224.5,256.9 226.0,257.9 227.5,259.3 229.0,258.9 230.5,260.5 232.0,262.0 233.5,263.1 235.0,263.5 236.5,263.2 238.0,265.1 239.2,265.8 240.0,259.9 240.8,267.2 241.0,267.4 242.5,266.5 244.0,267.5 245.5,268.5 246.9,265.2 247.6,209.1 248.6,210.8 249.4,240.2 250.6,232.0 251.8,223.8 252.7,235.4 253.6,258.4 255.0,274.8 256.4,262.3 257.9,212.4 258.7,211.2 259.5,235.4 259.9,250.8 260.7,235.4 261.8,212.4 262.6,211.6 263.2,254.6 264.0,270.1 265.5,257.6 266.5,249.5 267.8,248.5 268.6,261.5 269.6,274.5 272.0,275.9 278.0,277.5 284.0,278.8 284.1,278.9 285.0,262.7 285.9,279.3 290.0,280.3 296.0,281.6 301.0,282.7 305.0,283.2 315.0,283.4" fill="none" stroke="#fff" stroke-width="2.70" stroke-linejoin="round" stroke-linecap="butt"/><polyline points="49.0,283.4 100.5,283.4 102.0,282.0 104.0,276.7 106.0,270.4 108.0,263.7 110.0,256.0 112.0,253.8 114.0,249.5 116.0,247.1 120.0,244.7 124.0,243.8 127.0,242.8 128.8,241.4 130.5,243.3 133.0,244.2 137.0,245.0 142.0,245.4 148.0,245.0 154.0,244.4 160.0,238.8 165.0,237.6 169.0,235.4 172.0,233.8 175.0,232.2 177.0,231.3 180.0,234.2 183.0,233.0 185.6,231.8 188.0,232.7 190.0,233.3 193.0,235.0 195.0,235.4 197.5,236.8 201.0,240.8 205.0,245.0 209.0,246.2 212.5,247.4 217.0,252.9 221.0,257.0 226.0,260.5 231.0,263.6 236.0,265.9 241.0,268.1 246.0,270.0 246.8,265.2 247.5,213.5 248.5,215.0 249.3,240.2 250.5,235.0 251.7,227.3 252.6,235.4 253.6,258.4 255.0,274.8 256.4,262.3 257.8,216.6 258.6,215.4 259.4,235.4 259.9,250.8 260.7,235.4 261.7,216.6 262.5,215.8 263.2,254.6 264.0,270.9 265.5,258.4 266.5,250.3 267.8,249.3 268.6,262.3 269.6,275.2 272.0,276.7 278.0,278.1 284.0,279.4 290.0,280.7 296.0,282.0 301.0,282.9 305.0,283.4 315.0,283.4" fill="none" stroke="#fff" stroke-width="2.70" stroke-linejoin="round" stroke-linecap="butt"/><polyline points="49.0,283.4 100.5,283.4 102.0,282.0 104.0,275.7 106.0,269.0 108.0,262.8 110.0,254.6 112.0,244.4 113.8,233.5 116.0,226.8 118.0,220.0 120.0,213.3 121.5,214.3 123.0,210.4 125.0,205.6 127.0,200.8 128.2,198.9 129.2,199.9 130.5,205.6 131.9,210.4 133.5,209.5 135.6,206.9 137.0,210.4 139.0,214.3 141.2,217.2 144.0,218.1 146.2,219.1 147.7,221.0 148.8,137.5 149.8,222.9 152.0,225.8 155.0,229.6 157.0,231.6 160.0,233.5 165.0,230.6 169.0,226.6 172.0,223.8 175.0,220.9 177.0,219.2 180.0,220.7 183.0,218.0 185.6,215.6 188.0,217.1 190.0,218.2 193.0,220.7 195.0,221.9 197.5,224.3 201.0,229.6 205.0,235.5 209.0,240.4 212.5,244.8 217.0,250.6 221.0,255.0 226.0,258.9 231.0,262.3 236.0,264.9 241.0,267.5 246.0,269.6 246.6,265.2 247.3,204.8 248.3,206.5 249.1,240.2 250.3,229.0 251.5,220.3 252.4,235.4 253.6,258.4 255.0,274.8 256.4,262.3 257.6,208.2 258.4,206.9 259.2,235.4 259.9,250.8 260.7,235.4 261.5,208.2 262.3,207.4 263.2,254.6 264.0,270.9 265.5,258.4 266.5,250.3 267.8,249.3 268.6,262.3 269.6,275.2 272.0,276.7 278.0,278.1 284.0,279.4 290.0,280.7 296.0,282.0 301.0,282.9 305.0,283.4 315.0,283.4" fill="none" stroke="#fff" stroke-width="2.70" stroke-linejoin="round" stroke-linecap="butt"/><polyline points="49.8,-100.6 49.8,283.4" fill="none" stroke="#fff" stroke-width="2.70" stroke-linejoin="round" stroke-linecap="butt"/></g>
<g clip-path="url(#c2)"><polyline points="328.6,283.4 330.1,283.4 331.6,283.4 333.1,283.4 334.6,283.4 336.1,283.4 337.6,283.4 339.1,283.4 340.6,283.4 342.1,283.4 343.6,283.4 345.1,283.4 346.6,283.4 348.1,283.4 349.6,283.4 351.1,283.4 352.6,283.4 354.1,283.4 355.6,283.4 357.1,283.4 358.6,283.4 360.1,283.4 361.6,283.4 363.1,283.4 364.6,283.4 366.1,283.4 367.6,283.4 369.1,283.4 370.6,283.4 372.1,283.4 373.6,283.4 375.1,283.4 376.6,283.4 378.1,283.4 379.6,283.4 381.1,283.4 382.6,283.3 384.1,281.4 385.6,275.0 387.1,267.8 388.6,260.5 390.1,252.3 391.6,244.9 393.1,239.0 394.6,234.4 396.1,231.2 397.6,228.6 399.1,229.0 400.6,224.8 402.1,223.8 403.6,222.8 405.1,224.4 406.6,225.2 408.1,223.0 409.6,222.4 411.1,220.5 412.6,223.8 414.1,223.2 415.6,224.4 417.1,221.2 418.6,221.9 420.1,222.5 421.6,224.0 423.1,224.1 424.6,221.3 426.1,221.4 427.6,220.3 429.1,223.6 430.6,221.4 432.1,221.0 433.6,217.5 435.1,218.4 436.6,218.6 438.1,218.3 439.6,216.6 441.1,212.8 442.6,213.1 444.1,211.7 445.6,213.2 447.1,208.8 448.6,207.0 450.1,203.5 451.6,204.3 453.1,203.6 454.6,201.5 456.1,198.7 457.6,196.6 459.1,199.5 460.6,199.1 462.1,199.7 463.6,194.8 465.1,193.8 466.6,193.1 468.1,196.4 469.6,198.5 471.1,197.6 472.6,197.0 474.1,196.8 475.6,201.0 477.1,201.8 478.6,205.1 480.1,204.8 481.6,209.0 483.1,212.2 484.6,216.9 486.1,218.6 487.6,218.8 489.1,221.4 490.6,223.7 492.1,229.3 493.6,229.8 495.1,232.4 496.6,231.5 498.1,235.4 499.6,237.7 501.1,240.3 502.6,240.4 504.1,240.0 505.6,242.8 507.1,244.6 508.6,248.7 510.1,247.0 511.6,248.6 513.1,248.0 514.6,252.3 516.1,253.8 517.6,254.9 519.1,254.4 520.6,256.3 522.1,257.5 523.6,258.7 525.1,259.7" fill="none" stroke="#fff" stroke-width="2.70" stroke-linejoin="round" stroke-linecap="butt"/><polyline points="549.3,271.0 553.0,272.7 558.0,274.4 562.0,275.4 566.0,276.4 570.0,277.4 574.0,278.4 575.6,275.8 577.0,279.3 580.0,280.6 584.0,281.6 587.3,282.2 588.5,278.9 589.7,282.5 592.0,283.0 595.0,283.2" fill="none" stroke="#fff" stroke-width="2.70" stroke-linejoin="round" stroke-linecap="butt"/><polyline points="328.6,283.4 330.1,283.4 331.6,283.4 333.1,283.4 334.6,283.4 336.1,283.4 337.6,283.4 339.1,283.4 340.6,283.4 342.1,283.4 343.6,283.4 345.1,283.4 346.6,283.4 348.1,283.4 349.6,283.4 351.1,283.4 352.6,283.4 354.1,283.4 355.6,283.4 357.1,283.4 358.6,283.4 360.1,283.4 361.6,283.4 363.1,283.4 364.6,283.4 366.1,283.4 367.6,283.4 369.1,283.4 370.6,283.4 372.1,283.4 373.6,283.4 375.1,283.4 376.6,283.4 378.1,283.4 379.6,283.4 381.1,283.4 382.6,283.3 384.1,281.2 385.6,274.8 387.1,267.4 388.6,259.9 390.1,251.6 391.6,244.0 393.1,237.9 394.6,233.2 396.1,231.5 397.6,226.9 399.1,225.0 400.6,222.0 402.1,224.6 403.6,223.3 405.1,223.9 406.6,220.5 408.1,220.7 409.6,221.2 411.1,222.5 412.6,222.7 414.1,220.0 415.6,220.6 417.1,219.9 418.6,223.5 420.1,221.8 421.6,221.9 423.1,219.1 424.6,220.3 426.1,221.3 427.6,221.5 429.1,220.7 430.6,217.4 432.1,218.3 433.6,217.5 435.1,219.8 436.6,216.2 438.1,215.1 439.6,212.4 441.1,213.4 442.6,213.3 444.1,211.3 445.6,209.0 447.1,205.1 448.6,206.0 450.1,204.1 451.6,204.6 453.1,199.6 454.6,198.2 456.1,196.0 457.6,198.2 459.1,199.0 460.6,197.0 462.1,195.0 463.6,192.4 465.1,194.4 466.6,193.5 468.1,195.1 469.6,193.5 471.1,195.3 472.6,195.9 474.1,198.6 475.6,199.1 477.1,198.4 478.6,201.1 480.1,204.0 481.6,210.2 483.1,211.2 484.6,214.2 486.1,213.6 487.6,218.1 489.1,221.3 490.6,224.8 492.1,225.9 493.6,226.2 495.1,230.0 496.6,232.3 498.1,236.7 499.6,235.4 501.1,237.2 502.6,237.0 504.1,241.4 505.6,243.5 507.1,244.8 508.6,244.8 510.1,244.7 511.6,248.5 513.1,249.9 514.6,252.9 516.1,250.7 517.6,252.6 519.1,253.1 520.6,255.7 522.1,257.0 523.6,258.3 525.1,259.3" fill="none" stroke="#fff" stroke-width="2.70" stroke-linejoin="round" stroke-linecap="butt"/><polyline points="549.3,270.8 553.0,272.5 558.0,274.2 562.0,275.3 566.0,276.3 570.0,277.3 574.0,278.3 575.6,275.7 577.0,279.3 580.0,280.5 584.0,281.6 587.3,282.1 588.5,278.9 589.7,282.5 592.0,282.9 595.0,283.2" fill="none" stroke="#fff" stroke-width="2.70" stroke-linejoin="round" stroke-linecap="butt"/><polyline points="328.6,283.4 330.1,283.4 331.6,283.4 333.1,283.4 334.6,283.4 336.1,283.4 337.6,283.4 339.1,283.4 340.6,283.4 342.1,283.4 343.6,283.4 345.1,283.4 346.6,283.4 348.1,283.4 349.6,283.4 351.1,283.4 352.6,283.4 354.1,283.4 355.6,283.4 357.1,283.4 358.6,283.4 360.1,283.4 361.6,283.4 363.1,283.4 364.6,283.4 366.1,283.4 367.6,283.4 369.1,283.4 370.6,283.4 372.1,283.4 373.6,283.4 375.1,283.4 376.6,283.4 378.1,283.4 379.6,283.4 381.1,283.4 382.6,283.3 384.1,281.1 385.6,274.5 387.1,267.0 388.6,259.4 390.1,250.9 391.6,243.2 393.1,237.0 394.6,232.1 396.1,226.9 397.6,224.6 399.1,223.9 400.6,224.0 402.1,223.7 403.6,220.1 405.1,220.3 406.6,219.2 408.1,222.5 409.6,220.7 411.1,220.5 412.6,217.8 414.1,219.1 415.6,220.7 417.1,221.2 418.6,220.9 420.1,217.8 421.6,219.4 423.1,219.1 424.6,221.9 426.1,219.0 427.6,218.4 429.1,216.5 430.6,218.0 432.1,218.7 433.6,217.2 435.1,215.7 436.6,212.4 438.1,214.2 439.6,213.0 441.1,213.8 442.6,209.2 444.1,208.1 445.6,206.2 447.1,206.7 448.6,205.7 450.1,202.1 451.6,200.0 453.1,197.1 454.6,198.8 456.1,196.3 457.6,197.1 459.1,194.0 460.6,194.8 462.1,193.9 463.6,194.3 465.1,192.6 466.6,190.1 468.1,191.2 469.6,192.5 471.1,196.6 472.6,195.0 474.1,196.0 475.6,194.2 477.1,197.7 478.6,201.0 480.1,205.0 481.6,206.9 483.1,207.4 484.6,211.6 486.1,214.0 487.6,219.2 489.1,218.8 490.6,221.4 492.1,222.1 493.6,227.2 495.1,230.3 496.6,232.0 498.1,232.5 499.6,232.6 501.1,236.9 502.6,238.4 504.1,241.9 505.6,240.0 507.1,242.3 508.6,243.2 510.1,247.3 511.6,248.6 513.1,248.6 514.6,249.1 516.1,249.7 517.6,254.1 519.1,254.5 520.6,255.2 522.1,256.5 523.6,257.8 525.1,258.9" fill="none" stroke="#fff" stroke-width="2.70" stroke-linejoin="round" stroke-linecap="butt"/><polyline points="549.3,270.6 553.0,272.3 558.0,274.0 562.0,275.1 566.0,276.2 570.0,277.2 574.0,278.2 575.6,275.6 577.0,279.2 580.0,280.4 584.0,281.5 587.3,282.1 588.5,278.8 589.7,282.5 592.0,282.9 595.0,283.2" fill="none" stroke="#fff" stroke-width="2.70" stroke-linejoin="round" stroke-linecap="butt"/><polyline points="328.6,283.4 330.1,283.4 331.6,283.4 333.1,283.4 334.6,283.4 336.1,283.4 337.6,283.4 339.1,283.4 340.6,283.4 342.1,283.4 343.6,283.4 345.1,283.4 346.6,283.4 348.1,283.4 349.6,283.4 351.1,283.4 352.6,283.4 354.1,283.4 355.6,283.4 357.1,283.4 358.6,283.4 360.1,283.4 361.6,283.4 363.1,283.4 364.6,283.4 366.1,283.4 367.6,283.4 369.1,283.4 370.6,283.4 372.1,283.4 373.6,283.4 375.1,283.4 376.6,283.4 378.1,283.4 379.6,283.4 381.1,283.4 382.6,283.3 384.1,281.0 385.6,274.2 387.1,266.6 388.6,258.8 390.1,250.2 391.6,242.3 393.1,236.0 394.6,230.9 396.1,225.5 397.6,226.6 399.1,223.4 400.6,222.2 402.1,218.9 403.6,219.2 404.4,219.9 405.3,198.9 406.2,220.5 406.6,220.5 408.1,220.0 409.6,216.7 411.1,218.1 412.6,217.7 414.1,220.8 415.6,218.5 417.1,218.2 418.6,216.7 420.1,218.4 421.6,219.9 423.1,218.8 424.6,218.1 426.1,215.2 427.6,217.7 427.8,217.6 428.9,101.0 430.0,218.0 430.6,218.6 432.1,214.7 433.6,214.0 435.1,213.0 436.6,214.1 437.3,214.0 438.4,93.3 439.5,211.1 439.6,210.9 441.1,209.4 442.6,206.6 444.1,208.8 445.6,206.5 447.1,205.7 448.6,200.7 450.1,199.8 451.6,198.9 453.1,198.9 454.6,197.1 456.1,192.8 457.6,193.2 459.1,193.0 460.6,196.2 462.1,193.0 463.6,191.7 465.1,187.6 466.6,189.3 468.1,191.2 469.6,193.6 471.1,193.4 472.6,191.1 474.1,193.5 475.6,194.5 477.1,198.9 478.6,198.4 480.1,201.7 481.6,202.9 483.1,208.3 484.6,211.8 486.1,213.5 487.6,214.7 489.1,215.4 490.6,220.6 492.1,223.0 493.6,227.3 495.1,226.4 496.6,229.1 498.1,230.4 499.6,234.8 501.1,236.6 502.6,236.8 504.1,237.7 505.6,238.6 507.1,243.6 508.6,244.2 510.1,246.5 511.6,244.5 513.1,247.4 514.6,249.1 516.1,252.5 517.6,252.9 519.1,252.2 520.6,254.7 522.1,256.0 523.6,257.3 525.1,258.4" fill="none" stroke="#fff" stroke-width="2.70" stroke-linejoin="round" stroke-linecap="butt"/><polyline points="549.3,270.3 553.0,272.1 558.0,273.8 562.0,275.0 566.0,276.0 570.0,277.1 574.0,278.1 575.6,275.5 577.0,279.1 580.0,280.3 584.0,281.5 587.3,282.1 588.5,278.8 589.7,282.4 592.0,282.9 595.0,283.2" fill="none" stroke="#fff" stroke-width="2.70" stroke-linejoin="round" stroke-linecap="butt"/><polyline points="328.6,283.4 330.1,283.4 331.6,283.4 333.1,283.4 334.6,283.4 336.1,283.4 337.6,283.4 339.1,283.4 340.6,283.4 342.1,283.4 343.6,283.4 345.1,283.4 346.6,283.4 348.1,283.4 349.6,283.4 351.1,283.4 352.6,283.4 354.1,283.4 355.6,283.4 357.1,283.4 358.6,283.4 360.1,283.4 361.6,283.4 363.1,283.4 364.6,283.4 366.1,283.4 367.6,283.4 369.1,283.4 370.6,283.4 372.1,283.4 373.6,283.4 375.1,283.4 376.6,283.4 378.1,283.4 379.6,283.4 381.1,283.4 382.6,283.3 384.1,280.9 385.6,274.0 387.1,266.2 388.6,258.3 390.1,249.5 391.6,241.5 393.1,235.0 394.6,229.8 396.1,226.8 397.6,224.4 399.1,219.4 400.6,220.0 402.1,218.8 403.6,221.1 405.1,218.4 406.6,217.6 408.1,216.0 409.6,217.3 411.1,218.8 412.6,217.5 414.1,217.2 415.6,214.7 417.1,217.6 418.6,217.3 420.1,219.2 421.6,216.0 423.1,215.7 424.6,215.4 426.1,216.9 427.6,217.6 429.1,215.1 430.6,214.4 432.1,212.0 433.6,214.8 435.1,213.3 436.6,213.1 438.1,209.0 439.6,208.6 441.1,208.2 442.6,208.4 444.1,207.2 445.6,203.0 447.1,201.9 448.6,199.5 450.1,201.3 451.6,197.9 453.1,196.4 454.6,192.1 456.1,192.0 457.6,193.2 459.1,194.0 460.6,193.1 462.1,189.0 463.6,189.3 465.1,187.8 466.6,190.6 468.1,188.5 469.6,190.3 471.1,189.3 472.6,191.9 474.1,193.7 475.6,193.9 477.1,194.6 478.6,194.9 480.1,201.0 481.6,203.6 483.1,208.4 484.6,207.6 486.1,210.4 487.6,212.3 489.1,217.2 490.6,220.0 492.1,220.8 493.6,222.9 495.1,224.4 496.6,230.1 498.1,231.0 499.6,233.7 501.1,232.1 502.6,235.2 504.1,237.4 505.6,241.0 507.1,242.1 508.6,241.6 510.1,243.4 511.6,244.7 513.1,249.5 514.6,249.0 516.1,250.6 517.6,249.1 519.1,252.7 520.6,254.1 522.1,255.5 523.6,256.8 525.1,258.0" fill="none" stroke="#fff" stroke-width="2.70" stroke-linejoin="round" stroke-linecap="butt"/><polyline points="549.3,270.1 553.0,271.9 558.0,273.6 562.0,274.8 566.0,275.9 570.0,276.9 574.0,278.0 575.6,275.4 577.0,279.0 580.0,280.3 584.0,281.4 587.3,282.0 588.5,278.8 589.7,282.4 592.0,282.9 595.0,283.2" fill="none" stroke="#fff" stroke-width="2.70" stroke-linejoin="round" stroke-linecap="butt"/><polyline points="328.6,283.4 330.1,283.4 331.6,283.4 333.1,283.4 334.6,283.4 336.1,283.4 337.6,283.4 339.1,283.4 340.6,283.4 342.1,283.4 343.6,283.4 345.1,283.4 346.6,283.4 348.1,283.4 349.6,283.4 351.1,283.4 352.6,283.4 354.1,283.4 355.6,283.4 357.1,283.4 358.6,283.4 360.1,283.4 361.6,283.4 363.1,283.4 364.6,283.4 366.1,283.4 367.6,283.4 369.1,283.4 370.6,283.4 372.1,283.4 373.6,283.4 375.1,283.4 376.6,283.4 378.1,283.4 379.6,283.4 381.1,283.4 382.6,283.3 384.1,280.8 385.6,273.7 387.1,265.8 388.6,257.7 390.1,248.8 391.6,240.6 393.1,234.0 394.6,228.7 396.1,224.0 397.6,220.4 399.1,220.0 400.6,220.8 402.1,218.7 403.6,217.6 405.1,214.5 406.6,217.1 408.1,216.6 409.6,218.2 411.1,215.0 412.6,214.5 414.1,214.6 415.6,216.3 417.1,217.7 418.6,215.3 420.1,215.1 421.6,213.2 423.1,216.6 424.6,215.7 426.1,216.1 427.6,212.7 429.1,212.8 430.6,213.3 432.1,213.8 433.6,213.4 435.1,209.8 436.6,209.4 438.1,207.6 439.6,210.2 441.1,207.3 442.6,206.0 444.1,202.2 445.6,202.1 447.1,201.9 448.6,200.5 450.1,198.3 451.6,193.8 453.1,194.0 454.6,192.2 456.1,193.4 457.6,190.6 459.1,190.7 460.6,189.0 462.1,189.7 463.6,189.6 465.1,187.2 466.6,186.4 468.1,184.9 469.6,189.6 471.1,190.0 472.6,192.1 474.1,189.5 475.6,190.8 477.1,192.1 478.6,196.7 480.1,200.4 481.6,201.4 483.1,203.8 484.6,205.3 486.1,211.1 487.6,212.5 489.1,215.8 490.6,215.0 492.1,218.8 493.6,222.1 495.1,226.4 496.6,228.3 498.1,227.9 499.6,230.3 501.1,231.8 502.6,237.0 504.1,236.9 505.6,238.9 507.1,238.0 508.6,241.8 510.1,244.3 511.6,246.5 513.1,246.8 514.6,246.1 516.1,249.2 517.6,250.6 519.1,254.7 520.6,253.6 522.1,255.0 523.6,256.4 525.1,257.6" fill="none" stroke="#fff" stroke-width="2.70" stroke-linejoin="round" stroke-linecap="butt"/><polyline points="549.3,269.9 553.0,271.7 558.0,273.4 562.0,274.6 566.0,275.7 570.0,276.8 574.0,277.9 575.6,275.3 577.0,278.9 580.0,280.2 584.0,281.4 587.3,282.0 588.5,278.7 589.7,282.4 592.0,282.9 595.0,283.2" fill="none" stroke="#fff" stroke-width="2.70" stroke-linejoin="round" stroke-linecap="butt"/><polyline points="328.6,283.4 330.1,283.4 331.6,283.4 333.1,283.4 334.6,283.4 336.1,283.4 337.6,283.4 339.1,283.4 340.6,283.4 342.1,283.4 343.6,283.4 345.1,283.4 346.6,283.4 348.1,283.4 349.6,283.4 351.1,283.4 352.6,283.4 354.1,283.4 355.6,283.4 357.1,283.4 358.6,283.4 360.1,283.4 361.6,283.4 363.1,283.4 364.6,283.4 366.1,283.4 367.6,283.4 369.1,283.4 370.6,283.4 372.1,283.4 373.6,283.4 375.1,283.4 376.6,283.4 378.1,283.4 379.6,283.4 381.1,283.4 382.6,283.3 384.1,280.7 385.6,273.5 387.1,265.4 388.6,257.2 390.1,248.1 391.6,239.8 393.1,233.0 394.6,227.5 396.1,223.6 397.6,220.9 399.1,221.0 400.6,217.0 402.1,215.6 402.3,215.5 403.2,202.8 404.1,215.4 404.6,215.8 405.5,194.1 406.4,217.2 406.6,217.3 408.1,214.5 409.6,214.2 411.1,212.1 411.2,212.3 412.0,206.6 412.8,215.4 414.1,214.8 415.4,215.5 416.3,205.6 417.2,212.8 418.6,213.0 420.1,214.1 421.6,215.0 423.1,215.4 424.6,212.1 426.1,212.5 427.6,211.3 427.8,211.6 428.8,93.3 429.8,213.5 430.6,212.3 432.1,211.5 433.6,208.4 435.1,208.8 436.6,209.5 437.2,209.1 438.2,87.1 439.2,207.5 439.6,207.2 441.1,203.0 441.9,146.1 442.7,203.5 444.1,202.1 445.6,203.6 446.6,200.7 447.5,174.9 448.4,197.5 448.6,197.2 450.1,194.1 451.6,194.5 453.1,194.3 454.6,191.6 456.1,189.3 457.6,186.8 459.1,190.1 460.6,189.5 462.1,190.0 463.6,185.3 465.1,184.0 466.6,183.8 468.1,186.6 469.6,189.1 471.1,187.7 472.6,187.6 474.1,187.1 475.6,191.5 477.1,192.2 478.6,195.4 480.1,195.3 481.6,199.2 483.1,202.9 484.6,207.1 486.1,209.2 487.6,208.9 489.1,212.0 490.6,214.2 492.1,220.3 493.6,221.0 495.1,223.9 496.6,223.7 498.1,227.6 499.6,230.7 501.1,233.1 502.6,234.0 504.1,233.5 505.6,237.2 507.1,239.1 508.6,243.6 510.1,242.2 511.6,243.9 513.1,243.9 514.6,248.0 516.1,250.2 517.6,250.9 519.1,251.1 520.6,253.0 522.1,254.5 523.6,255.9 525.1,257.1" fill="none" stroke="#fff" stroke-width="2.70" stroke-linejoin="round" stroke-linecap="butt"/><polyline points="549.3,269.7 553.0,271.4 558.0,273.2 562.0,274.5 566.0,275.6 570.0,276.7 574.0,277.8 575.6,275.2 577.0,278.8 580.0,280.1 584.0,281.3 587.3,281.9 588.5,278.7 589.7,282.4 592.0,282.9 595.0,283.2" fill="none" stroke="#fff" stroke-width="2.70" stroke-linejoin="round" stroke-linecap="butt"/><polyline points="328.6,283.4 382.5,283.4 385.0,282.4 388.0,280.0 391.0,277.2 394.0,275.0 395.5,272.8 397.0,272.8 398.5,273.0 400.0,273.8 401.5,274.8 403.0,275.5 404.5,275.5 406.0,274.8 407.5,273.7 409.0,272.9 410.5,272.8 412.0,273.3 413.5,274.2 415.0,275.0 416.5,275.5 418.0,275.3 419.5,274.6 421.0,273.6 422.5,272.9 424.0,272.7 425.5,273.0 427.0,273.7 428.5,274.6 430.0,275.2 431.5,275.4 433.0,275.1 434.5,274.4 436.0,273.7 437.5,273.1 439.0,273.0 440.5,273.4 442.0,274.2 443.5,275.0 445.0,275.7 446.5,275.9 448.0,275.6 449.5,275.0 451.0,274.4 452.5,274.0 454.0,274.1 455.5,274.5 457.0,275.3 458.5,276.2 460.0,276.9 461.5,277.1 463.0,277.0 464.5,276.6 466.0,276.2 467.5,275.8 469.0,275.8 470.5,276.3 472.0,277.1 473.5,277.8 475.0,278.1 476.5,277.9 478.0,277.5 479.5,277.1 481.0,277.1 482.5,277.3 484.0,277.8 485.5,278.2 487.0,278.4 488.5,278.4 490.0,278.2 491.5,278.1 493.0,278.0 494.5,278.0 496.0,278.2 497.5,278.5 499.0,278.7 500.5,278.9 502.0,278.9 503.5,278.8 505.0,278.6 506.5,278.4 508.0,278.4 509.5,278.5 511.0,278.6 512.5,278.8 514.0,279.0 515.5,279.0 517.0,278.9 518.5,278.8 520.0,278.6 521.5,278.6 523.0,278.6 524.5,278.7 526.0,278.9 527.5,279.0 529.0,279.1 530.5,279.1 532.0,279.0 533.5,278.9 535.0,278.9 536.5,278.9 538.0,279.0 539.5,279.2 541.0,279.4 542.5,279.5 544.0,279.6 545.5,279.5 547.0,279.4 548.5,279.4 550.0,279.5 551.5,279.7 553.0,279.9 554.5,280.2 556.0,280.4 557.5,280.5 559.0,280.6 560.5,280.7 562.0,280.7 563.5,280.8 565.0,281.0 566.5,281.2 568.0,281.4 569.5,281.6 571.0,281.8 572.5,281.9 574.0,281.9 575.5,281.9 577.0,282.0 578.5,282.0 580.0,282.2 581.5,282.4 583.0,282.6 584.5,282.7 586.0,282.8 587.5,282.8 589.0,282.8 590.5,282.9 592.0,282.9 593.5,283.0 595.0,283.2" fill="none" stroke="#fff" stroke-width="2.70" stroke-linejoin="round" stroke-linecap="butt"/><polyline points="329.8,-100.6 329.8,283.4" fill="none" stroke="#fff" stroke-width="2.70" stroke-linejoin="round" stroke-linecap="butt"/><path fill="#fff" d="M525.5 262.0L525.5 150.0L526.3 142.5L529.6 141.5L530.2 148.0L530.8 157.0L531.4 149.0L531.9 145.0L533.6 145.0L534.1 152.0L534.9 168.0L536.4 169.5L537.0 160.0L537.4 156.5L539.2 156.0L539.8 157.5L540.3 144.0L540.9 142.0L543.0 142.0L543.6 150.0L545.2 166.0L547.6 185.0L549.5 189.0L550.6 196.0L550.6 271.5L548.0 270.5L548.0 240.0L546.8 228.0L545.5 210.0L543.6 190.5L542.8 205.0L542.3 228.0L542.0 240.0L537.4 240.0L537.6 228.0L536.0 213.0L533.6 201.5L532.4 213.0L531.8 228.0L531.5 251.0L530.2 250.0L529.2 246.0L528.4 249.0L527.5 262.0z"/></g>
</svg>
</body></html>
